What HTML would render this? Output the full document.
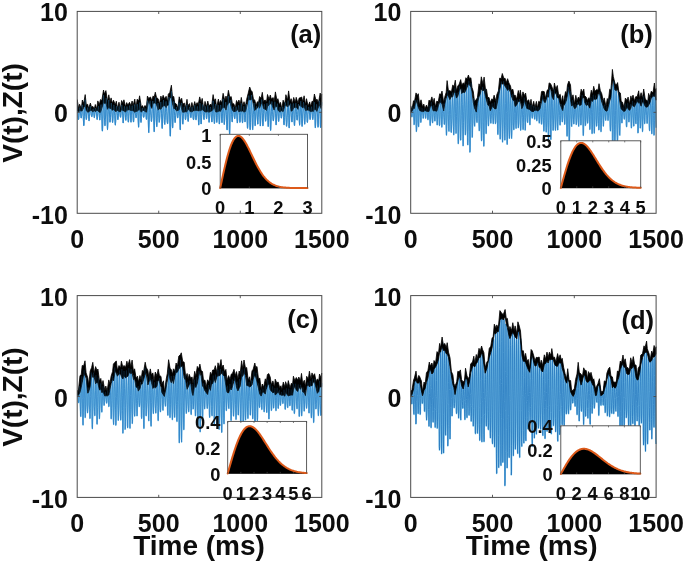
<!DOCTYPE html>
<html lang="en"><head><meta charset="utf-8"><title>Figure</title>
<style>html,body{margin:0;padding:0;background:#fff}svg{display:block;will-change:transform;transform:translateZ(0)}.b{font-family:"Liberation Sans",Arial,Helvetica,sans-serif;font-weight:700;fill:#0d0d0d}</style></head><body>
<svg width="685" height="562" viewBox="0 0 685 562">
<rect width="685" height="562" fill="#fff"/>
<defs>
<clipPath id="cpa"><rect x="77.2" y="11.4" width="245.2" height="201.9"/></clipPath>
<clipPath id="cpb"><rect x="410.7" y="11.4" width="246" height="201.9"/></clipPath>
<clipPath id="cpc"><rect x="77.2" y="295.6" width="245.2" height="201.8"/></clipPath>
<clipPath id="cpd"><rect x="410.7" y="295.6" width="246" height="201.8"/></clipPath>
</defs>
<g clip-path="url(#cpa)">
<polyline fill="none" stroke="#88cff0" stroke-width="1.1" stroke-linejoin="round" points="77.2,103.9 77.4,105.4 77.5,107.8 77.7,110.1 77.9,112.6 78,116 78.2,118.2 78.3,119.4 78.5,119.5 78.7,118.9 78.8,117.5 79,115.5 79.2,113 79.3,111.7 79.5,109.5 79.6,107.9 79.8,107.5 80,107.7 80.1,108.6 80.3,110 80.5,111.8 80.6,114 80.8,116.1 81,117.4 81.1,118 81.3,118 81.4,117.2 81.6,115.8 81.8,113.4 81.9,111 82.1,108.4 82.3,105.6 82.4,104.8 82.6,105.3 82.7,106.8 82.9,108.8 83.1,111.8 83.2,115.3 83.4,119.9 83.6,123.1 83.7,125.5 83.9,125.6 84,123.9 84.2,120.5 84.4,116.5 84.5,110.9 84.7,107.5 84.9,104.2 85,100.9 85.2,99.8 85.4,102.1 85.5,106.2 85.7,111.6 85.8,114.6 86,117.2 86.2,118.6 86.3,119.5 86.5,119.1 86.7,117.5 86.8,115.1 87,112.8 87.1,111.1 87.3,109.7 87.5,108 87.6,107.5 87.8,108.2 88,109.5 88.1,110.9 88.3,112.3 88.5,114.9 88.6,116.8 88.8,119.2 88.9,120.5 89.1,120.8 89.3,119.6 89.4,116.9 89.6,113.7 89.8,110.9 89.9,109.7 90.1,108.1 90.2,106.5 90.4,106.1 90.6,107.1 90.7,109 90.9,110.8 91.1,113 91.2,114.6 91.4,115.5 91.5,116.1 91.7,116.5 91.9,116.7 92,116.2 92.2,115 92.4,113.8 92.5,111.6 92.7,110.3 92.9,109.3 93,108.8 93.2,108.9 93.3,109.5 93.5,110.4 93.7,111.8 93.8,113.7 94,115.7 94.2,117 94.3,117.7 94.5,117.3 94.6,116.2 94.8,114.4 95,112.2 95.1,110.2 95.3,108.9 95.5,108.1 95.6,108 95.8,108.5 96,109.2 96.1,110.3 96.3,111.1 96.4,112.6 96.6,115 96.8,117.2 96.9,118.6 97.1,119.5 97.3,119.3 97.4,118.3 97.6,116.4 97.7,113.7 97.9,110.5 98.1,107.8 98.2,106.8 98.4,106.2 98.6,106.4 98.7,107.7 98.9,109.6 99.1,111.1 99.2,113.9 99.4,115.9 99.5,118.3 99.7,120 99.9,119.9 100,118.3 100.2,115.5 100.4,112.6 100.5,109.9 100.7,107 100.8,105.2 101,104.5 101.2,104.7 101.3,106.2 101.5,108.9 101.7,111.7 101.8,116.8 102,124.1 102.1,128.8 102.3,131 102.5,131 102.6,128.6 102.8,123.3 103,113.7 103.1,107.7 103.3,100.3 103.5,96.2 103.6,95.2 103.8,97 103.9,100.8 104.1,105.4 104.3,111.1 104.4,117.2 104.6,120.8 104.8,124.2 104.9,125.7 105.1,125.4 105.2,122.8 105.4,119.3 105.6,115 105.7,109.6 105.9,103.3 106.1,99.8 106.2,98.1 106.4,99.2 106.6,102.7 106.7,106.4 106.9,110.8 107,116.7 107.2,123.9 107.4,128.2 107.5,129.6 107.7,127 107.9,122.6 108,117.6 108.2,111.5 108.3,107.3 108.5,103.1 108.7,100.8 108.8,100 109,102.5 109.2,106.2 109.3,110.3 109.5,114 109.7,118.5 109.8,121.1 110,122.2 110.1,121.8 110.3,120 110.5,117.6 110.6,114.3 110.8,110.5 111,107 111.1,103.9 111.3,103 111.4,104.1 111.6,106.2 111.8,108.4 111.9,111.5 112.1,115.1 112.3,118.5 112.4,121.5 112.6,122.5 112.7,121.9 112.9,119.9 113.1,116.8 113.2,113.2 113.4,109.2 113.6,106.8 113.7,105.2 113.9,104.8 114.1,105.3 114.2,106.5 114.4,109.3 114.5,111.2 114.7,115.4 114.9,119.3 115,122.5 115.2,124.2 115.4,125.1 115.5,123.7 115.7,121.3 115.8,117 116,112.4 116.2,109 116.3,106.8 116.5,105.9 116.7,106.5 116.8,107.9 117,109.3 117.2,111.5 117.3,113.2 117.5,115.7 117.6,118.1 117.8,119.5 118,119.6 118.1,118.6 118.3,116.8 118.5,113.7 118.6,110.4 118.8,108.7 118.9,106.7 119.1,106.3 119.3,106.6 119.4,107.6 119.6,109.7 119.8,111.5 119.9,113.2 120.1,114.9 120.2,116.1 120.4,116.8 120.6,117.3 120.7,117 120.9,115.4 121.1,113.1 121.2,111.2 121.4,109.2 121.6,106.8 121.7,104.9 121.9,104.8 122,105.6 122.2,107.5 122.4,109.5 122.5,111.7 122.7,115.7 122.9,119.2 123,121.8 123.2,123 123.3,121.8 123.5,119.7 123.7,116.9 123.8,113.6 124,110.6 124.2,108.6 124.3,107 124.5,106.3 124.7,106.9 124.8,108 125,109.9 125.1,111.6 125.3,114.5 125.5,117.7 125.6,119.9 125.8,120.3 126,119.5 126.1,117.8 126.3,115.2 126.4,112.3 126.6,109.2 126.8,106.9 126.9,106.4 127.1,106.6 127.3,107.4 127.4,108.6 127.6,110.7 127.8,113.3 127.9,116.4 128.1,120.1 128.2,121.6 128.4,122.1 128.6,121.2 128.7,118.8 128.9,115.6 129.1,112 129.2,109.3 129.4,107.1 129.5,105.7 129.7,105.6 129.9,106.1 130,107.5 130.2,109.3 130.4,111.7 130.5,115.8 130.7,119 130.8,121.5 131,122.2 131.2,120.5 131.3,117 131.5,112.9 131.7,110 131.8,107.7 132,106.1 132.2,105.5 132.3,106 132.5,107.6 132.6,109.6 132.8,112.1 133,114.9 133.1,118.5 133.3,120.9 133.5,122 133.6,121.8 133.8,119.8 133.9,115.1 134.1,112.2 134.3,109.4 134.4,106.6 134.6,104.9 134.8,104.4 134.9,106.2 135.1,108.5 135.3,110.6 135.4,113.4 135.6,115.3 135.7,116.2 135.9,117.2 136.1,117.8 136.2,117.4 136.4,116.3 136.6,114.5 136.7,112.6 136.9,109.3 137,106.5 137.2,104.4 137.4,104.2 137.5,105.2 137.7,107.8 137.9,111.3 138,116.1 138.2,120.8 138.4,124.6 138.5,127.1 138.7,127.1 138.8,123.7 139,118.7 139.2,111.9 139.3,108.7 139.5,105.1 139.7,102.8 139.8,102.5 140,104.2 140.1,107.4 140.3,110.9 140.5,113.7 140.6,118.7 140.8,121.5 141,122.4 141.1,121.8 141.3,120 141.4,116.8 141.6,113.2 141.8,111.3 141.9,110.3 142.1,109 142.3,108.1 142.4,107.9 142.6,108.5 142.8,109.9 142.9,111.8 143.1,113.7 143.2,115.9 143.4,116.8 143.6,117.3 143.7,117.3 143.9,116.9 144.1,115.9 144.2,114.2 144.4,112.3 144.5,110.8 144.7,109.2 144.9,108.3 145,108.3 145.2,108.8 145.4,109.9 145.5,111.5 145.7,112.7 145.9,114.6 146,116 146.2,117.9 146.3,119 146.5,119.4 146.7,118.5 146.8,115.4 147,112.2 147.2,107.8 147.3,103.7 147.5,100.8 147.6,100.4 147.8,102.1 148,106.2 148.1,112.7 148.3,122.1 148.5,128.2 148.6,132 148.8,132.6 148.9,129.5 149.1,124.9 149.3,119.2 149.4,112.3 149.6,106.1 149.8,103.9 149.9,101.3 150.1,100.7 150.3,102.1 150.4,105.4 150.6,109.4 150.7,112.9 150.9,115.5 151.1,117.8 151.2,120.5 151.4,121.5 151.6,121.3 151.7,119.8 151.9,117.7 152,114.1 152.2,109.6 152.4,105.5 152.5,103.1 152.7,101.1 152.9,101 153,102 153.2,104.4 153.4,108.1 153.5,113.1 153.7,118.1 153.8,123 154,128.2 154.2,131.7 154.3,129.9 154.5,125.3 154.7,119.2 154.8,110.2 155,106.3 155.1,100.7 155.3,98.1 155.5,97.5 155.6,99 155.8,104.4 156,108.9 156.1,112.5 156.3,118.9 156.5,122.6 156.6,125.5 156.8,126.6 156.9,125.5 157.1,122.4 157.3,117.4 157.4,111.7 157.6,107.5 157.8,104.9 157.9,103.5 158.1,103.1 158.2,104.2 158.4,106.4 158.6,109.5 158.7,113.3 158.9,118.5 159.1,121.2 159.2,122.3 159.4,121.9 159.5,120.8 159.7,118.7 159.9,116.1 160,112 160.2,109.4 160.4,106.2 160.5,104.4 160.7,102.6 160.9,101.9 161,103.1 161.2,105.1 161.3,108.6 161.5,113.3 161.7,119.3 161.8,123.8 162,127 162.2,128.4 162.3,127.5 162.5,123.1 162.6,118 162.8,113.1 163,107.9 163.1,103.1 163.3,101.5 163.5,100.1 163.6,101.1 163.8,104.3 164,108.7 164.1,113.7 164.3,119.5 164.4,122.5 164.6,124 164.8,124.4 164.9,123.5 165.1,120.6 165.3,117.8 165.4,112.6 165.6,108 165.7,104.5 165.9,102.1 166.1,101.4 166.2,102.6 166.4,105 166.6,107.9 166.7,111.6 166.9,115.3 167,119.3 167.2,121.9 167.4,123.2 167.5,123.7 167.7,123.5 167.9,121.2 168,117.1 168.2,111 168.4,105.7 168.5,100.6 168.7,97.6 168.8,97 169,98.3 169.2,101.1 169.3,105.2 169.5,113 169.7,120 169.8,125 170,130.8 170.1,134.8 170.3,136.1 170.5,134.2 170.6,127.8 170.8,118.1 171,107.2 171.1,97.5 171.3,91.1 171.5,91.5 171.6,95.6 171.8,101.5 171.9,108.5 172.1,117.3 172.3,122.8 172.4,126.2 172.6,127.9 172.8,127 172.9,123.2 173.1,118.2 173.2,111.3 173.4,106.4 173.6,103.3 173.7,101.4 173.9,102.3 174.1,104.8 174.2,108.2 174.4,111.5 174.6,115.3 174.7,118.9 174.9,121.3 175,122.5 175.2,122.4 175.4,121.2 175.5,119.1 175.7,115.6 175.9,112.6 176,110.5 176.2,108.2 176.3,107.1 176.5,107 176.7,107.9 176.8,109.2 177,111.3 177.2,113.1 177.3,115.5 177.5,117.4 177.6,117.9 177.8,117.6 178,116.7 178.1,115.3 178.3,113.5 178.5,111.3 178.6,108.5 178.8,105.8 179,103.7 179.1,102.6 179.3,103.9 179.4,107.5 179.6,112.2 179.8,116.6 179.9,123.3 180.1,128.3 180.3,129.8 180.4,127.7 180.6,121.9 180.7,116.1 180.9,111.7 181.1,108.2 181.2,104.2 181.4,102.9 181.6,103 181.7,104.5 181.9,106.8 182.1,109.7 182.2,113 182.4,115.8 182.5,120.2 182.7,123.8 182.9,124.1 183,122.8 183.2,119.8 183.4,116.8 183.5,113.5 183.7,111.3 183.8,109.3 184,107.6 184.2,106.7 184.3,106.6 184.5,108.2 184.7,110.2 184.8,111.8 185,114.4 185.2,117.5 185.3,118.9 185.5,119.7 185.6,119.4 185.8,118.2 186,116.7 186.1,114.8 186.3,111 186.5,108.4 186.6,106.4 186.8,105 186.9,104.7 187.1,106.2 187.3,109 187.4,111.5 187.6,114.5 187.8,117.6 187.9,119.9 188.1,121.1 188.2,121.4 188.4,120.1 188.6,117.6 188.7,115.1 188.9,112 189.1,109.9 189.2,108.6 189.4,107.7 189.6,106.8 189.7,107.3 189.9,108.8 190,110.9 190.2,112.2 190.4,114.1 190.5,115.9 190.7,117.2 190.9,117.6 191,117.3 191.2,116 191.3,114.1 191.5,112.2 191.7,110 191.8,107.9 192,107 192.2,107.1 192.3,108.2 192.5,109.8 192.7,111.4 192.8,113.5 193,116.3 193.1,118 193.3,119.1 193.5,119.7 193.6,119.6 193.8,118.5 194,116.2 194.1,112.9 194.3,109.9 194.4,108 194.6,106 194.8,105.2 194.9,106.3 195.1,108.8 195.3,111.3 195.4,115.1 195.6,117.5 195.7,118.7 195.9,119.6 196.1,119.8 196.2,119.2 196.4,117.7 196.6,115 196.7,112.1 196.9,109.6 197.1,107.8 197.2,106.6 197.4,106.3 197.5,106.9 197.7,108.4 197.9,110.5 198,112.8 198.2,115.9 198.4,119.4 198.5,122.5 198.7,124.9 198.8,124.9 199,122.5 199.2,117.4 199.3,112 199.5,108.5 199.7,105.2 199.8,103.6 200,103 200.2,104.2 200.3,106.7 200.5,110.1 200.6,114.4 200.8,120.7 201,123.1 201.1,124 201.3,123.1 201.5,120.1 201.6,117.7 201.8,114.3 201.9,110.9 202.1,108 202.3,105.2 202.4,104.4 202.6,104.9 202.8,106.1 202.9,107.8 203.1,109.8 203.3,112 203.4,114.2 203.6,116 203.7,118 203.9,119.4 204.1,119.5 204.2,117.7 204.4,115.7 204.6,113 204.7,110.3 204.9,107.8 205,106.5 205.2,106.4 205.4,107.1 205.5,108 205.7,109.8 205.9,111.8 206,113.3 206.2,115.5 206.3,117.4 206.5,118.7 206.7,118.7 206.8,117.4 207,115.5 207.2,112.9 207.3,110.1 207.5,108 207.7,106.2 207.8,105.4 208,106.6 208.1,108.1 208.3,110.1 208.5,112.4 208.6,116 208.8,119.7 209,121.9 209.1,122.3 209.3,121.3 209.4,118.9 209.6,116.2 209.8,112.3 209.9,110.5 210.1,108.7 210.3,107.6 210.4,107 210.6,107.6 210.8,108.7 210.9,110.3 211.1,112.1 211.2,115 211.4,117.7 211.6,120 211.7,121.4 211.9,122 212.1,120.9 212.2,117.9 212.4,113.6 212.5,110.2 212.7,106.3 212.9,103.1 213,100.9 213.2,101 213.4,103.1 213.5,106.3 213.7,111.2 213.8,116.2 214,119.1 214.2,121.3 214.3,123.4 214.5,123.4 214.7,121.5 214.8,118.5 215,113 215.2,109.4 215.3,106 215.5,104.1 215.6,104.5 215.8,106.1 216,108.7 216.1,111.1 216.3,113.4 216.5,117.7 216.6,121.3 216.8,122.4 216.9,121.7 217.1,119.6 217.3,115.4 217.4,111.9 217.6,109.1 217.8,106.9 217.9,105.4 218.1,105 218.3,105.6 218.4,107.1 218.6,109.7 218.7,113 218.9,116.8 219.1,120.8 219.2,123.3 219.4,124 219.6,122.9 219.7,120.1 219.9,116.1 220,111.3 220.2,108.9 220.4,106.7 220.5,105.2 220.7,104.9 220.9,105.7 221,107.3 221.2,110.1 221.4,112.7 221.5,116.9 221.7,120.2 221.8,122.1 222,122.6 222.2,121.3 222.3,118.1 222.5,113.3 222.7,109.9 222.8,105.1 223,101.8 223.1,99.1 223.3,100.4 223.5,104.8 223.6,109.1 223.8,112.7 224,118.8 224.1,123 224.3,124.5 224.4,124 224.6,121.3 224.8,118.4 224.9,114.9 225.1,111.1 225.3,107.6 225.4,104.5 225.6,102.7 225.8,102.1 225.9,103.2 226.1,105.9 226.2,109.6 226.4,114.4 226.6,120.6 226.7,124.5 226.9,128.5 227.1,129.9 227.2,128.9 227.4,126.3 227.5,120.1 227.7,113 227.9,108.4 228,102.9 228.2,99 228.4,96.1 228.5,97.3 228.7,100.7 228.9,106.1 229,112.1 229.2,122.1 229.3,129.3 229.5,133.6 229.7,134.1 229.8,131.2 230,123.2 230.2,114.6 230.3,108.8 230.5,104.3 230.6,101.7 230.8,100.1 231,100.4 231.1,102.3 231.3,105.7 231.5,109.6 231.6,114.7 231.8,118 232,120.8 232.1,121.8 232.3,121.8 232.4,119.5 232.6,116.5 232.8,112.2 232.9,109.8 233.1,108 233.3,107 233.4,106.8 233.6,107.4 233.7,108.6 233.9,110.4 234.1,112.8 234.2,115.7 234.4,117.3 234.6,118.5 234.7,118.7 234.9,118.1 235,117.1 235.2,115 235.4,112.3 235.5,111.1 235.7,109.3 235.9,107.7 236,106.8 236.2,106.7 236.4,108 236.5,110.5 236.7,114 236.8,116.6 237,119.4 237.2,121.8 237.3,122.9 237.5,122.1 237.7,119.4 237.8,115.3 238,111.6 238.1,108.8 238.3,107.5 238.5,105.6 238.6,105.2 238.8,105.6 239,107.2 239.1,109.2 239.3,112 239.5,115.3 239.6,118.9 239.8,121.5 239.9,122.4 240.1,121.6 240.3,119.4 240.4,115.9 240.6,112.7 240.8,109.5 240.9,106.7 241.1,104.8 241.2,103.3 241.4,104.4 241.6,106.5 241.7,109.8 241.9,113.7 242.1,118 242.2,120.6 242.4,122.2 242.5,122.8 242.7,121.9 242.9,119.3 243,115.9 243.2,112.1 243.4,110.2 243.5,108.3 243.7,106.5 243.9,106.2 244,107.1 244.2,109.1 244.3,111.6 244.5,114.3 244.7,117.9 244.8,120.5 245,121.9 245.2,121.1 245.3,118.9 245.5,115.4 245.6,112.2 245.8,109.9 246,107 246.1,105.1 246.3,104.1 246.5,104.3 246.6,106 246.8,109.1 247,113.2 247.1,120.8 247.3,124.9 247.4,127.6 247.6,128.3 247.8,126.1 247.9,122.1 248.1,115.3 248.3,108.9 248.4,103.1 248.6,99.2 248.7,95.7 248.9,95.5 249.1,98.3 249.2,103.3 249.4,109.5 249.6,115.1 249.7,121.9 249.9,126.8 250.1,129.4 250.2,129.7 250.4,127.3 250.5,122.6 250.7,114.4 250.9,106.6 251,101.2 251.2,97.4 251.4,95 251.5,95 251.7,97.4 251.8,102.5 252,109.6 252.2,117.7 252.3,124.1 252.5,128.6 252.7,129.6 252.8,128.3 253,124.4 253.1,119.1 253.3,114.6 253.5,110.7 253.6,107.9 253.8,104.3 254,103.2 254.1,103.1 254.3,104.8 254.5,107.9 254.6,111.9 254.8,117 254.9,122.2 255.1,125.7 255.3,125.3 255.4,122.9 255.6,119.3 255.8,114.9 255.9,111.3 256.1,108.9 256.2,107.7 256.4,106.7 256.6,106.2 256.7,106.7 256.9,108.7 257.1,111.6 257.2,114.9 257.4,119.1 257.6,122.5 257.7,124.1 257.9,123.9 258,121.4 258.2,117.6 258.4,114.1 258.5,109.4 258.7,106.8 258.9,104.2 259,102.7 259.2,102.4 259.3,103.6 259.5,105.6 259.7,109.8 259.8,114.7 260,119.8 260.2,124.2 260.3,125.9 260.5,124.7 260.7,120.6 260.8,115.7 261,111.9 261.1,107.5 261.3,103.6 261.5,100.7 261.6,99.4 261.8,99.8 262,102.7 262.1,107.9 262.3,112.6 262.4,118.1 262.6,122.3 262.8,125 262.9,125.9 263.1,124.5 263.3,121.6 263.4,117 263.6,113.4 263.7,110.1 263.9,107.5 264.1,105.7 264.2,104.4 264.4,104.3 264.6,105.4 264.7,107.5 264.9,110.7 265.1,114.7 265.2,117.3 265.4,119.8 265.5,121.2 265.7,121 265.9,119.6 266,117.4 266.2,114.2 266.4,111.5 266.5,108.4 266.7,106.1 266.8,104.1 267,103.3 267.2,104.3 267.3,106.7 267.5,109.9 267.7,115.9 267.8,120.5 268,124.4 268.2,126.5 268.3,126.1 268.5,122.8 268.6,116.9 268.8,110.6 269,106.4 269.1,103.3 269.3,101.3 269.5,100.5 269.6,101 269.8,102.8 269.9,108.5 270.1,115.9 270.3,124.2 270.4,128.4 270.6,130.4 270.8,129.1 270.9,126.2 271.1,121.5 271.2,116.7 271.4,111.5 271.6,107.2 271.7,103.2 271.9,101.5 272.1,102.2 272.2,104.6 272.4,107.9 272.6,111.5 272.7,114.4 272.9,117.2 273,119.3 273.2,120.5 273.4,120.8 273.5,120.3 273.7,118.4 273.9,116.1 274,112.5 274.2,109.9 274.3,107.2 274.5,104.8 274.7,102.6 274.8,101.7 275,102.2 275.2,104.3 275.3,108.5 275.5,113.7 275.7,117.2 275.8,121.2 276,124.1 276.1,124.9 276.3,123.3 276.5,119.9 276.6,116.2 276.8,112 277,108 277.1,105.6 277.3,103.7 277.4,103.6 277.6,104.7 277.8,107.2 277.9,110.3 278.1,114.8 278.3,118.4 278.4,120.4 278.6,121.4 278.8,121.1 278.9,119.6 279.1,116.9 279.2,113.5 279.4,111 279.6,109.7 279.7,108.6 279.9,107.5 280.1,107 280.2,107.2 280.4,108.8 280.5,111.2 280.7,113.4 280.9,115.1 281,116.5 281.2,117.8 281.4,118.1 281.5,118 281.7,116.7 281.8,114.4 282,111.8 282.2,110.7 282.3,109.1 282.5,107.6 282.7,106.8 282.8,107.1 283,108.1 283.2,110.1 283.3,112.3 283.5,116.5 283.6,120.5 283.8,123.6 284,124.8 284.1,124.8 284.3,121.9 284.5,117.5 284.6,111.4 284.8,108.4 284.9,106.2 285.1,103.5 285.3,102.4 285.4,102.9 285.6,104.2 285.8,108.4 285.9,113.6 286.1,119.6 286.3,122.3 286.4,125.7 286.6,126.3 286.7,126 286.9,123.5 287.1,120.7 287.2,117.4 287.4,113.1 287.6,108.5 287.7,104.3 287.9,101.8 288,100.5 288.2,101.6 288.4,104.8 288.5,109.9 288.7,115.4 288.9,122 289,126.6 289.2,127.9 289.3,125.4 289.5,122.8 289.7,118.9 289.8,113.4 290,109.4 290.2,107.1 290.3,104.8 290.5,103.6 290.7,103.8 290.8,105.1 291,107.9 291.1,111.7 291.3,115.2 291.5,117.8 291.6,119.9 291.8,121.3 292,122 292.1,121.2 292.3,119 292.4,115.9 292.6,111.4 292.8,108.3 292.9,105.5 293.1,103.8 293.3,103.4 293.4,104.1 293.6,106 293.8,109.4 293.9,114.7 294.1,119.9 294.2,123.2 294.4,125.4 294.6,125.5 294.7,123.2 294.9,119.9 295.1,115.6 295.2,111.9 295.4,109.2 295.5,106.3 295.7,103.9 295.9,103.1 296,104.5 296.2,107.6 296.4,111.4 296.5,114.5 296.7,117.1 296.9,119.4 297,120 297.2,120.1 297.3,119.5 297.5,117.7 297.7,114.5 297.8,111.8 298,110.2 298.2,107.3 298.3,104.9 298.5,104 298.6,104.9 298.8,106.7 299,110.8 299.1,116.6 299.3,121.3 299.5,124.2 299.6,125.2 299.8,123.4 299.9,120.4 300.1,115 300.3,109.8 300.4,105.8 300.6,102.4 300.8,101.2 300.9,102.1 301.1,104.4 301.3,108.5 301.4,112.1 301.6,118.1 301.7,122 301.9,124.6 302.1,126.4 302.2,125.8 302.4,123.2 302.6,118.9 302.7,114.1 302.9,110.8 303,107.6 303.2,104.7 303.4,102.8 303.5,102.1 303.7,102.8 303.9,104.9 304,108.5 304.2,113.6 304.4,120.2 304.5,122.8 304.7,124.2 304.8,123.6 305,121 305.2,117.9 305.3,114.2 305.5,111 305.7,108.7 305.8,107.1 306,105.6 306.1,105.2 306.3,106.2 306.5,108.4 306.6,112 306.8,115.4 307,118.6 307.1,121.3 307.3,122.4 307.5,122.3 307.6,121 307.8,118.2 307.9,114.4 308.1,111.4 308.3,109.6 308.4,108.2 308.6,107.3 308.8,106.8 308.9,107.3 309.1,108.3 309.2,110 309.4,112.1 309.6,115.1 309.7,116.8 309.9,118.6 310.1,119.5 310.2,119.4 310.4,118.3 310.5,115.1 310.7,112.5 310.9,110.7 311,109 311.2,107.7 311.4,107 311.5,106.7 311.7,107.6 311.9,108.9 312,111.6 312.2,114.2 312.3,116.6 312.5,118.6 312.7,119.4 312.8,119.5 313,118.3 313.2,116.5 313.3,112.7 313.5,110.1 313.6,107.1 313.8,104.7 314,102.7 314.1,102 314.3,103 314.5,105.2 314.6,110.4 314.8,114.4 315,120.6 315.1,125.2 315.3,127.6 315.4,127.7 315.6,125.1 315.8,120.1 315.9,114.3 316.1,110.1 316.3,107.5 316.4,105.2 316.6,104.3 316.7,104.5 316.9,106.1 317.1,108 317.2,109.8 317.4,113.2 317.6,117.9 317.7,123 317.9,126 318,127.2 318.2,126.7 318.4,123.8 318.5,119.1 318.7,113.8 318.9,109.4 319,105.2 319.2,102.3 319.4,100.7 319.5,100.7 319.7,102.1 319.8,104.5 320,109.6 320.2,115.9 320.3,123.9 320.5,127.4 320.7,127.4 320.8,125.4 321,121.1 321.1,117.9 321.3,114.4 321.5,110.2 321.6,106 321.8,102.2"/>
<polyline fill="none" stroke="#1a6cb8" stroke-width="0.78" stroke-linejoin="round" points="77.2,103.9 77.4,105.4 77.5,107.8 77.7,110.1 77.9,112.6 78,116 78.2,118.2 78.3,119.4 78.5,119.5 78.7,118.9 78.8,117.5 79,115.5 79.2,113 79.3,111.7 79.5,109.5 79.6,107.9 79.8,107.5 80,107.7 80.1,108.6 80.3,110 80.5,111.8 80.6,114 80.8,116.1 81,117.4 81.1,118 81.3,118 81.4,117.2 81.6,115.8 81.8,113.4 81.9,111 82.1,108.4 82.3,105.6 82.4,104.8 82.6,105.3 82.7,106.8 82.9,108.8 83.1,111.8 83.2,115.3 83.4,119.9 83.6,123.1 83.7,125.5 83.9,125.6 84,123.9 84.2,120.5 84.4,116.5 84.5,110.9 84.7,107.5 84.9,104.2 85,100.9 85.2,99.8 85.4,102.1 85.5,106.2 85.7,111.6 85.8,114.6 86,117.2 86.2,118.6 86.3,119.5 86.5,119.1 86.7,117.5 86.8,115.1 87,112.8 87.1,111.1 87.3,109.7 87.5,108 87.6,107.5 87.8,108.2 88,109.5 88.1,110.9 88.3,112.3 88.5,114.9 88.6,116.8 88.8,119.2 88.9,120.5 89.1,120.8 89.3,119.6 89.4,116.9 89.6,113.7 89.8,110.9 89.9,109.7 90.1,108.1 90.2,106.5 90.4,106.1 90.6,107.1 90.7,109 90.9,110.8 91.1,113 91.2,114.6 91.4,115.5 91.5,116.1 91.7,116.5 91.9,116.7 92,116.2 92.2,115 92.4,113.8 92.5,111.6 92.7,110.3 92.9,109.3 93,108.8 93.2,108.9 93.3,109.5 93.5,110.4 93.7,111.8 93.8,113.7 94,115.7 94.2,117 94.3,117.7 94.5,117.3 94.6,116.2 94.8,114.4 95,112.2 95.1,110.2 95.3,108.9 95.5,108.1 95.6,108 95.8,108.5 96,109.2 96.1,110.3 96.3,111.1 96.4,112.6 96.6,115 96.8,117.2 96.9,118.6 97.1,119.5 97.3,119.3 97.4,118.3 97.6,116.4 97.7,113.7 97.9,110.5 98.1,107.8 98.2,106.8 98.4,106.2 98.6,106.4 98.7,107.7 98.9,109.6 99.1,111.1 99.2,113.9 99.4,115.9 99.5,118.3 99.7,120 99.9,119.9 100,118.3 100.2,115.5 100.4,112.6 100.5,109.9 100.7,107 100.8,105.2 101,104.5 101.2,104.7 101.3,106.2 101.5,108.9 101.7,111.7 101.8,116.8 102,124.1 102.1,128.8 102.3,131 102.5,131 102.6,128.6 102.8,123.3 103,113.7 103.1,107.7 103.3,100.3 103.5,96.2 103.6,95.2 103.8,97 103.9,100.8 104.1,105.4 104.3,111.1 104.4,117.2 104.6,120.8 104.8,124.2 104.9,125.7 105.1,125.4 105.2,122.8 105.4,119.3 105.6,115 105.7,109.6 105.9,103.3 106.1,99.8 106.2,98.1 106.4,99.2 106.6,102.7 106.7,106.4 106.9,110.8 107,116.7 107.2,123.9 107.4,128.2 107.5,129.6 107.7,127 107.9,122.6 108,117.6 108.2,111.5 108.3,107.3 108.5,103.1 108.7,100.8 108.8,100 109,102.5 109.2,106.2 109.3,110.3 109.5,114 109.7,118.5 109.8,121.1 110,122.2 110.1,121.8 110.3,120 110.5,117.6 110.6,114.3 110.8,110.5 111,107 111.1,103.9 111.3,103 111.4,104.1 111.6,106.2 111.8,108.4 111.9,111.5 112.1,115.1 112.3,118.5 112.4,121.5 112.6,122.5 112.7,121.9 112.9,119.9 113.1,116.8 113.2,113.2 113.4,109.2 113.6,106.8 113.7,105.2 113.9,104.8 114.1,105.3 114.2,106.5 114.4,109.3 114.5,111.2 114.7,115.4 114.9,119.3 115,122.5 115.2,124.2 115.4,125.1 115.5,123.7 115.7,121.3 115.8,117 116,112.4 116.2,109 116.3,106.8 116.5,105.9 116.7,106.5 116.8,107.9 117,109.3 117.2,111.5 117.3,113.2 117.5,115.7 117.6,118.1 117.8,119.5 118,119.6 118.1,118.6 118.3,116.8 118.5,113.7 118.6,110.4 118.8,108.7 118.9,106.7 119.1,106.3 119.3,106.6 119.4,107.6 119.6,109.7 119.8,111.5 119.9,113.2 120.1,114.9 120.2,116.1 120.4,116.8 120.6,117.3 120.7,117 120.9,115.4 121.1,113.1 121.2,111.2 121.4,109.2 121.6,106.8 121.7,104.9 121.9,104.8 122,105.6 122.2,107.5 122.4,109.5 122.5,111.7 122.7,115.7 122.9,119.2 123,121.8 123.2,123 123.3,121.8 123.5,119.7 123.7,116.9 123.8,113.6 124,110.6 124.2,108.6 124.3,107 124.5,106.3 124.7,106.9 124.8,108 125,109.9 125.1,111.6 125.3,114.5 125.5,117.7 125.6,119.9 125.8,120.3 126,119.5 126.1,117.8 126.3,115.2 126.4,112.3 126.6,109.2 126.8,106.9 126.9,106.4 127.1,106.6 127.3,107.4 127.4,108.6 127.6,110.7 127.8,113.3 127.9,116.4 128.1,120.1 128.2,121.6 128.4,122.1 128.6,121.2 128.7,118.8 128.9,115.6 129.1,112 129.2,109.3 129.4,107.1 129.5,105.7 129.7,105.6 129.9,106.1 130,107.5 130.2,109.3 130.4,111.7 130.5,115.8 130.7,119 130.8,121.5 131,122.2 131.2,120.5 131.3,117 131.5,112.9 131.7,110 131.8,107.7 132,106.1 132.2,105.5 132.3,106 132.5,107.6 132.6,109.6 132.8,112.1 133,114.9 133.1,118.5 133.3,120.9 133.5,122 133.6,121.8 133.8,119.8 133.9,115.1 134.1,112.2 134.3,109.4 134.4,106.6 134.6,104.9 134.8,104.4 134.9,106.2 135.1,108.5 135.3,110.6 135.4,113.4 135.6,115.3 135.7,116.2 135.9,117.2 136.1,117.8 136.2,117.4 136.4,116.3 136.6,114.5 136.7,112.6 136.9,109.3 137,106.5 137.2,104.4 137.4,104.2 137.5,105.2 137.7,107.8 137.9,111.3 138,116.1 138.2,120.8 138.4,124.6 138.5,127.1 138.7,127.1 138.8,123.7 139,118.7 139.2,111.9 139.3,108.7 139.5,105.1 139.7,102.8 139.8,102.5 140,104.2 140.1,107.4 140.3,110.9 140.5,113.7 140.6,118.7 140.8,121.5 141,122.4 141.1,121.8 141.3,120 141.4,116.8 141.6,113.2 141.8,111.3 141.9,110.3 142.1,109 142.3,108.1 142.4,107.9 142.6,108.5 142.8,109.9 142.9,111.8 143.1,113.7 143.2,115.9 143.4,116.8 143.6,117.3 143.7,117.3 143.9,116.9 144.1,115.9 144.2,114.2 144.4,112.3 144.5,110.8 144.7,109.2 144.9,108.3 145,108.3 145.2,108.8 145.4,109.9 145.5,111.5 145.7,112.7 145.9,114.6 146,116 146.2,117.9 146.3,119 146.5,119.4 146.7,118.5 146.8,115.4 147,112.2 147.2,107.8 147.3,103.7 147.5,100.8 147.6,100.4 147.8,102.1 148,106.2 148.1,112.7 148.3,122.1 148.5,128.2 148.6,132 148.8,132.6 148.9,129.5 149.1,124.9 149.3,119.2 149.4,112.3 149.6,106.1 149.8,103.9 149.9,101.3 150.1,100.7 150.3,102.1 150.4,105.4 150.6,109.4 150.7,112.9 150.9,115.5 151.1,117.8 151.2,120.5 151.4,121.5 151.6,121.3 151.7,119.8 151.9,117.7 152,114.1 152.2,109.6 152.4,105.5 152.5,103.1 152.7,101.1 152.9,101 153,102 153.2,104.4 153.4,108.1 153.5,113.1 153.7,118.1 153.8,123 154,128.2 154.2,131.7 154.3,129.9 154.5,125.3 154.7,119.2 154.8,110.2 155,106.3 155.1,100.7 155.3,98.1 155.5,97.5 155.6,99 155.8,104.4 156,108.9 156.1,112.5 156.3,118.9 156.5,122.6 156.6,125.5 156.8,126.6 156.9,125.5 157.1,122.4 157.3,117.4 157.4,111.7 157.6,107.5 157.8,104.9 157.9,103.5 158.1,103.1 158.2,104.2 158.4,106.4 158.6,109.5 158.7,113.3 158.9,118.5 159.1,121.2 159.2,122.3 159.4,121.9 159.5,120.8 159.7,118.7 159.9,116.1 160,112 160.2,109.4 160.4,106.2 160.5,104.4 160.7,102.6 160.9,101.9 161,103.1 161.2,105.1 161.3,108.6 161.5,113.3 161.7,119.3 161.8,123.8 162,127 162.2,128.4 162.3,127.5 162.5,123.1 162.6,118 162.8,113.1 163,107.9 163.1,103.1 163.3,101.5 163.5,100.1 163.6,101.1 163.8,104.3 164,108.7 164.1,113.7 164.3,119.5 164.4,122.5 164.6,124 164.8,124.4 164.9,123.5 165.1,120.6 165.3,117.8 165.4,112.6 165.6,108 165.7,104.5 165.9,102.1 166.1,101.4 166.2,102.6 166.4,105 166.6,107.9 166.7,111.6 166.9,115.3 167,119.3 167.2,121.9 167.4,123.2 167.5,123.7 167.7,123.5 167.9,121.2 168,117.1 168.2,111 168.4,105.7 168.5,100.6 168.7,97.6 168.8,97 169,98.3 169.2,101.1 169.3,105.2 169.5,113 169.7,120 169.8,125 170,130.8 170.1,134.8 170.3,136.1 170.5,134.2 170.6,127.8 170.8,118.1 171,107.2 171.1,97.5 171.3,91.1 171.5,91.5 171.6,95.6 171.8,101.5 171.9,108.5 172.1,117.3 172.3,122.8 172.4,126.2 172.6,127.9 172.8,127 172.9,123.2 173.1,118.2 173.2,111.3 173.4,106.4 173.6,103.3 173.7,101.4 173.9,102.3 174.1,104.8 174.2,108.2 174.4,111.5 174.6,115.3 174.7,118.9 174.9,121.3 175,122.5 175.2,122.4 175.4,121.2 175.5,119.1 175.7,115.6 175.9,112.6 176,110.5 176.2,108.2 176.3,107.1 176.5,107 176.7,107.9 176.8,109.2 177,111.3 177.2,113.1 177.3,115.5 177.5,117.4 177.6,117.9 177.8,117.6 178,116.7 178.1,115.3 178.3,113.5 178.5,111.3 178.6,108.5 178.8,105.8 179,103.7 179.1,102.6 179.3,103.9 179.4,107.5 179.6,112.2 179.8,116.6 179.9,123.3 180.1,128.3 180.3,129.8 180.4,127.7 180.6,121.9 180.7,116.1 180.9,111.7 181.1,108.2 181.2,104.2 181.4,102.9 181.6,103 181.7,104.5 181.9,106.8 182.1,109.7 182.2,113 182.4,115.8 182.5,120.2 182.7,123.8 182.9,124.1 183,122.8 183.2,119.8 183.4,116.8 183.5,113.5 183.7,111.3 183.8,109.3 184,107.6 184.2,106.7 184.3,106.6 184.5,108.2 184.7,110.2 184.8,111.8 185,114.4 185.2,117.5 185.3,118.9 185.5,119.7 185.6,119.4 185.8,118.2 186,116.7 186.1,114.8 186.3,111 186.5,108.4 186.6,106.4 186.8,105 186.9,104.7 187.1,106.2 187.3,109 187.4,111.5 187.6,114.5 187.8,117.6 187.9,119.9 188.1,121.1 188.2,121.4 188.4,120.1 188.6,117.6 188.7,115.1 188.9,112 189.1,109.9 189.2,108.6 189.4,107.7 189.6,106.8 189.7,107.3 189.9,108.8 190,110.9 190.2,112.2 190.4,114.1 190.5,115.9 190.7,117.2 190.9,117.6 191,117.3 191.2,116 191.3,114.1 191.5,112.2 191.7,110 191.8,107.9 192,107 192.2,107.1 192.3,108.2 192.5,109.8 192.7,111.4 192.8,113.5 193,116.3 193.1,118 193.3,119.1 193.5,119.7 193.6,119.6 193.8,118.5 194,116.2 194.1,112.9 194.3,109.9 194.4,108 194.6,106 194.8,105.2 194.9,106.3 195.1,108.8 195.3,111.3 195.4,115.1 195.6,117.5 195.7,118.7 195.9,119.6 196.1,119.8 196.2,119.2 196.4,117.7 196.6,115 196.7,112.1 196.9,109.6 197.1,107.8 197.2,106.6 197.4,106.3 197.5,106.9 197.7,108.4 197.9,110.5 198,112.8 198.2,115.9 198.4,119.4 198.5,122.5 198.7,124.9 198.8,124.9 199,122.5 199.2,117.4 199.3,112 199.5,108.5 199.7,105.2 199.8,103.6 200,103 200.2,104.2 200.3,106.7 200.5,110.1 200.6,114.4 200.8,120.7 201,123.1 201.1,124 201.3,123.1 201.5,120.1 201.6,117.7 201.8,114.3 201.9,110.9 202.1,108 202.3,105.2 202.4,104.4 202.6,104.9 202.8,106.1 202.9,107.8 203.1,109.8 203.3,112 203.4,114.2 203.6,116 203.7,118 203.9,119.4 204.1,119.5 204.2,117.7 204.4,115.7 204.6,113 204.7,110.3 204.9,107.8 205,106.5 205.2,106.4 205.4,107.1 205.5,108 205.7,109.8 205.9,111.8 206,113.3 206.2,115.5 206.3,117.4 206.5,118.7 206.7,118.7 206.8,117.4 207,115.5 207.2,112.9 207.3,110.1 207.5,108 207.7,106.2 207.8,105.4 208,106.6 208.1,108.1 208.3,110.1 208.5,112.4 208.6,116 208.8,119.7 209,121.9 209.1,122.3 209.3,121.3 209.4,118.9 209.6,116.2 209.8,112.3 209.9,110.5 210.1,108.7 210.3,107.6 210.4,107 210.6,107.6 210.8,108.7 210.9,110.3 211.1,112.1 211.2,115 211.4,117.7 211.6,120 211.7,121.4 211.9,122 212.1,120.9 212.2,117.9 212.4,113.6 212.5,110.2 212.7,106.3 212.9,103.1 213,100.9 213.2,101 213.4,103.1 213.5,106.3 213.7,111.2 213.8,116.2 214,119.1 214.2,121.3 214.3,123.4 214.5,123.4 214.7,121.5 214.8,118.5 215,113 215.2,109.4 215.3,106 215.5,104.1 215.6,104.5 215.8,106.1 216,108.7 216.1,111.1 216.3,113.4 216.5,117.7 216.6,121.3 216.8,122.4 216.9,121.7 217.1,119.6 217.3,115.4 217.4,111.9 217.6,109.1 217.8,106.9 217.9,105.4 218.1,105 218.3,105.6 218.4,107.1 218.6,109.7 218.7,113 218.9,116.8 219.1,120.8 219.2,123.3 219.4,124 219.6,122.9 219.7,120.1 219.9,116.1 220,111.3 220.2,108.9 220.4,106.7 220.5,105.2 220.7,104.9 220.9,105.7 221,107.3 221.2,110.1 221.4,112.7 221.5,116.9 221.7,120.2 221.8,122.1 222,122.6 222.2,121.3 222.3,118.1 222.5,113.3 222.7,109.9 222.8,105.1 223,101.8 223.1,99.1 223.3,100.4 223.5,104.8 223.6,109.1 223.8,112.7 224,118.8 224.1,123 224.3,124.5 224.4,124 224.6,121.3 224.8,118.4 224.9,114.9 225.1,111.1 225.3,107.6 225.4,104.5 225.6,102.7 225.8,102.1 225.9,103.2 226.1,105.9 226.2,109.6 226.4,114.4 226.6,120.6 226.7,124.5 226.9,128.5 227.1,129.9 227.2,128.9 227.4,126.3 227.5,120.1 227.7,113 227.9,108.4 228,102.9 228.2,99 228.4,96.1 228.5,97.3 228.7,100.7 228.9,106.1 229,112.1 229.2,122.1 229.3,129.3 229.5,133.6 229.7,134.1 229.8,131.2 230,123.2 230.2,114.6 230.3,108.8 230.5,104.3 230.6,101.7 230.8,100.1 231,100.4 231.1,102.3 231.3,105.7 231.5,109.6 231.6,114.7 231.8,118 232,120.8 232.1,121.8 232.3,121.8 232.4,119.5 232.6,116.5 232.8,112.2 232.9,109.8 233.1,108 233.3,107 233.4,106.8 233.6,107.4 233.7,108.6 233.9,110.4 234.1,112.8 234.2,115.7 234.4,117.3 234.6,118.5 234.7,118.7 234.9,118.1 235,117.1 235.2,115 235.4,112.3 235.5,111.1 235.7,109.3 235.9,107.7 236,106.8 236.2,106.7 236.4,108 236.5,110.5 236.7,114 236.8,116.6 237,119.4 237.2,121.8 237.3,122.9 237.5,122.1 237.7,119.4 237.8,115.3 238,111.6 238.1,108.8 238.3,107.5 238.5,105.6 238.6,105.2 238.8,105.6 239,107.2 239.1,109.2 239.3,112 239.5,115.3 239.6,118.9 239.8,121.5 239.9,122.4 240.1,121.6 240.3,119.4 240.4,115.9 240.6,112.7 240.8,109.5 240.9,106.7 241.1,104.8 241.2,103.3 241.4,104.4 241.6,106.5 241.7,109.8 241.9,113.7 242.1,118 242.2,120.6 242.4,122.2 242.5,122.8 242.7,121.9 242.9,119.3 243,115.9 243.2,112.1 243.4,110.2 243.5,108.3 243.7,106.5 243.9,106.2 244,107.1 244.2,109.1 244.3,111.6 244.5,114.3 244.7,117.9 244.8,120.5 245,121.9 245.2,121.1 245.3,118.9 245.5,115.4 245.6,112.2 245.8,109.9 246,107 246.1,105.1 246.3,104.1 246.5,104.3 246.6,106 246.8,109.1 247,113.2 247.1,120.8 247.3,124.9 247.4,127.6 247.6,128.3 247.8,126.1 247.9,122.1 248.1,115.3 248.3,108.9 248.4,103.1 248.6,99.2 248.7,95.7 248.9,95.5 249.1,98.3 249.2,103.3 249.4,109.5 249.6,115.1 249.7,121.9 249.9,126.8 250.1,129.4 250.2,129.7 250.4,127.3 250.5,122.6 250.7,114.4 250.9,106.6 251,101.2 251.2,97.4 251.4,95 251.5,95 251.7,97.4 251.8,102.5 252,109.6 252.2,117.7 252.3,124.1 252.5,128.6 252.7,129.6 252.8,128.3 253,124.4 253.1,119.1 253.3,114.6 253.5,110.7 253.6,107.9 253.8,104.3 254,103.2 254.1,103.1 254.3,104.8 254.5,107.9 254.6,111.9 254.8,117 254.9,122.2 255.1,125.7 255.3,125.3 255.4,122.9 255.6,119.3 255.8,114.9 255.9,111.3 256.1,108.9 256.2,107.7 256.4,106.7 256.6,106.2 256.7,106.7 256.9,108.7 257.1,111.6 257.2,114.9 257.4,119.1 257.6,122.5 257.7,124.1 257.9,123.9 258,121.4 258.2,117.6 258.4,114.1 258.5,109.4 258.7,106.8 258.9,104.2 259,102.7 259.2,102.4 259.3,103.6 259.5,105.6 259.7,109.8 259.8,114.7 260,119.8 260.2,124.2 260.3,125.9 260.5,124.7 260.7,120.6 260.8,115.7 261,111.9 261.1,107.5 261.3,103.6 261.5,100.7 261.6,99.4 261.8,99.8 262,102.7 262.1,107.9 262.3,112.6 262.4,118.1 262.6,122.3 262.8,125 262.9,125.9 263.1,124.5 263.3,121.6 263.4,117 263.6,113.4 263.7,110.1 263.9,107.5 264.1,105.7 264.2,104.4 264.4,104.3 264.6,105.4 264.7,107.5 264.9,110.7 265.1,114.7 265.2,117.3 265.4,119.8 265.5,121.2 265.7,121 265.9,119.6 266,117.4 266.2,114.2 266.4,111.5 266.5,108.4 266.7,106.1 266.8,104.1 267,103.3 267.2,104.3 267.3,106.7 267.5,109.9 267.7,115.9 267.8,120.5 268,124.4 268.2,126.5 268.3,126.1 268.5,122.8 268.6,116.9 268.8,110.6 269,106.4 269.1,103.3 269.3,101.3 269.5,100.5 269.6,101 269.8,102.8 269.9,108.5 270.1,115.9 270.3,124.2 270.4,128.4 270.6,130.4 270.8,129.1 270.9,126.2 271.1,121.5 271.2,116.7 271.4,111.5 271.6,107.2 271.7,103.2 271.9,101.5 272.1,102.2 272.2,104.6 272.4,107.9 272.6,111.5 272.7,114.4 272.9,117.2 273,119.3 273.2,120.5 273.4,120.8 273.5,120.3 273.7,118.4 273.9,116.1 274,112.5 274.2,109.9 274.3,107.2 274.5,104.8 274.7,102.6 274.8,101.7 275,102.2 275.2,104.3 275.3,108.5 275.5,113.7 275.7,117.2 275.8,121.2 276,124.1 276.1,124.9 276.3,123.3 276.5,119.9 276.6,116.2 276.8,112 277,108 277.1,105.6 277.3,103.7 277.4,103.6 277.6,104.7 277.8,107.2 277.9,110.3 278.1,114.8 278.3,118.4 278.4,120.4 278.6,121.4 278.8,121.1 278.9,119.6 279.1,116.9 279.2,113.5 279.4,111 279.6,109.7 279.7,108.6 279.9,107.5 280.1,107 280.2,107.2 280.4,108.8 280.5,111.2 280.7,113.4 280.9,115.1 281,116.5 281.2,117.8 281.4,118.1 281.5,118 281.7,116.7 281.8,114.4 282,111.8 282.2,110.7 282.3,109.1 282.5,107.6 282.7,106.8 282.8,107.1 283,108.1 283.2,110.1 283.3,112.3 283.5,116.5 283.6,120.5 283.8,123.6 284,124.8 284.1,124.8 284.3,121.9 284.5,117.5 284.6,111.4 284.8,108.4 284.9,106.2 285.1,103.5 285.3,102.4 285.4,102.9 285.6,104.2 285.8,108.4 285.9,113.6 286.1,119.6 286.3,122.3 286.4,125.7 286.6,126.3 286.7,126 286.9,123.5 287.1,120.7 287.2,117.4 287.4,113.1 287.6,108.5 287.7,104.3 287.9,101.8 288,100.5 288.2,101.6 288.4,104.8 288.5,109.9 288.7,115.4 288.9,122 289,126.6 289.2,127.9 289.3,125.4 289.5,122.8 289.7,118.9 289.8,113.4 290,109.4 290.2,107.1 290.3,104.8 290.5,103.6 290.7,103.8 290.8,105.1 291,107.9 291.1,111.7 291.3,115.2 291.5,117.8 291.6,119.9 291.8,121.3 292,122 292.1,121.2 292.3,119 292.4,115.9 292.6,111.4 292.8,108.3 292.9,105.5 293.1,103.8 293.3,103.4 293.4,104.1 293.6,106 293.8,109.4 293.9,114.7 294.1,119.9 294.2,123.2 294.4,125.4 294.6,125.5 294.7,123.2 294.9,119.9 295.1,115.6 295.2,111.9 295.4,109.2 295.5,106.3 295.7,103.9 295.9,103.1 296,104.5 296.2,107.6 296.4,111.4 296.5,114.5 296.7,117.1 296.9,119.4 297,120 297.2,120.1 297.3,119.5 297.5,117.7 297.7,114.5 297.8,111.8 298,110.2 298.2,107.3 298.3,104.9 298.5,104 298.6,104.9 298.8,106.7 299,110.8 299.1,116.6 299.3,121.3 299.5,124.2 299.6,125.2 299.8,123.4 299.9,120.4 300.1,115 300.3,109.8 300.4,105.8 300.6,102.4 300.8,101.2 300.9,102.1 301.1,104.4 301.3,108.5 301.4,112.1 301.6,118.1 301.7,122 301.9,124.6 302.1,126.4 302.2,125.8 302.4,123.2 302.6,118.9 302.7,114.1 302.9,110.8 303,107.6 303.2,104.7 303.4,102.8 303.5,102.1 303.7,102.8 303.9,104.9 304,108.5 304.2,113.6 304.4,120.2 304.5,122.8 304.7,124.2 304.8,123.6 305,121 305.2,117.9 305.3,114.2 305.5,111 305.7,108.7 305.8,107.1 306,105.6 306.1,105.2 306.3,106.2 306.5,108.4 306.6,112 306.8,115.4 307,118.6 307.1,121.3 307.3,122.4 307.5,122.3 307.6,121 307.8,118.2 307.9,114.4 308.1,111.4 308.3,109.6 308.4,108.2 308.6,107.3 308.8,106.8 308.9,107.3 309.1,108.3 309.2,110 309.4,112.1 309.6,115.1 309.7,116.8 309.9,118.6 310.1,119.5 310.2,119.4 310.4,118.3 310.5,115.1 310.7,112.5 310.9,110.7 311,109 311.2,107.7 311.4,107 311.5,106.7 311.7,107.6 311.9,108.9 312,111.6 312.2,114.2 312.3,116.6 312.5,118.6 312.7,119.4 312.8,119.5 313,118.3 313.2,116.5 313.3,112.7 313.5,110.1 313.6,107.1 313.8,104.7 314,102.7 314.1,102 314.3,103 314.5,105.2 314.6,110.4 314.8,114.4 315,120.6 315.1,125.2 315.3,127.6 315.4,127.7 315.6,125.1 315.8,120.1 315.9,114.3 316.1,110.1 316.3,107.5 316.4,105.2 316.6,104.3 316.7,104.5 316.9,106.1 317.1,108 317.2,109.8 317.4,113.2 317.6,117.9 317.7,123 317.9,126 318,127.2 318.2,126.7 318.4,123.8 318.5,119.1 318.7,113.8 318.9,109.4 319,105.2 319.2,102.3 319.4,100.7 319.5,100.7 319.7,102.1 319.8,104.5 320,109.6 320.2,115.9 320.3,123.9 320.5,127.4 320.7,127.4 320.8,125.4 321,121.1 321.1,117.9 321.3,114.4 321.5,110.2 321.6,106 321.8,102.2"/>
<polygon fill="#000" stroke="#000" stroke-width="0.8" stroke-linejoin="round" points="77.2,99.6 78.8,109.4 79.6,104.2 81.4,109 82.3,100 83.7,103.4 85.2,94.6 86.3,105 87.7,104.3 88.6,108.4 90.4,103.1 91.6,107.6 92.7,106.2 94.3,108.9 95.3,104.5 96.7,109 97.8,100.9 99.3,104.6 100.5,99.6 101.8,100.6 103.5,90 104.5,94.1 105.9,90.6 107.5,101.4 108.8,94.8 110,101.8 111.1,97.9 112.3,103.3 113.5,100.2 115.3,104.8 116.3,101.2 117.4,108.3 119,102.2 120.4,108.9 121.6,100.5 123.1,103.4 123.9,99.8 125.5,106.8 126.7,102.6 127.8,105.3 129.5,102.3 130.9,105.8 132.1,101 133.1,105.5 134.8,99.1 135.9,108.1 137.2,99.2 138.7,101 139.6,95.8 141.3,106.9 142.5,105.6 143.9,108.8 144.8,105.6 146.5,106.7 147.4,96.1 148.7,98.4 150.5,97 151.8,100.6 153.1,95.9 154.1,97.5 155.3,92.2 156.5,97.4 158.2,98.8 159.5,104.2 160.9,96.1 161.9,99.8 163.1,95.3 164.7,99 166.1,96.3 167.5,101.6 168.3,94.2 169.8,92.5 171.4,85.2 172.4,96.4 173.8,96.6 174.7,103 176.5,104.2 177.9,108.3 179.2,96.8 180.5,100.8 181.7,98.3 182.7,104.4 184.3,103 185.3,108.2 187,99.3 187.8,105.7 189.6,103.6 190.5,109.4 191.9,102.5 193.2,108.2 194.7,101.6 195.7,105.5 197.1,102.6 198.2,104.8 199.7,96.9 201.1,102.6 202.2,98.4 203.8,109.5 205,101.4 206.5,106.8 207.8,101.1 208.9,106.3 210.5,104 211.7,105.5 213.1,94.6 214.1,100.5 215.5,98.8 216.6,107.6 218.4,99.1 219.2,103.9 220.5,100.5 221.7,103 223.1,93.3 224.8,100.6 226,96 227,99.9 228.4,90.3 229.8,97.5 231.2,96.6 232.4,103.8 233.8,103.7 235.3,108.1 236.5,100.5 237.6,103.1 238.9,100 240.2,104.3 241.3,97.4 242.7,106.4 244,101.7 245.4,106.3 246.7,99.2 248.1,93.6 249.7,87 250.9,90.3 252.2,91.8 253.5,99.5 254.7,99.9 256.2,105.5 257.3,101.7 258.5,102.6 259.6,96.5 261.1,98.5 262.3,92.3 263.5,101.5 265.1,99.9 266.5,102.3 267.5,94.5 269.1,99.3 270.3,95 271.3,99 273.2,97.6 274.1,102 275.4,91.9 277,100.7 277.9,98.7 279.6,105 280.5,102.4 281.9,109.1 283.1,100.2 284.8,104 285.9,94.7 287.5,100.1 288.6,90.9 290,101.3 291.2,98.7 292.3,104.3 293.7,97.4 295.3,102.4 296.2,97.3 298,103.3 299.1,98.1 300.2,97.7 301.7,97 302.8,101.9 304.1,95.8 305.5,104.8 306.5,98.7 308.1,106.1 309.7,101.9 310.6,106.5 312.2,101 313.3,102.1 314.4,94 316.2,101 316.9,99.1 318.4,103 320.2,93.1 321,98.4 321.8,94.1 321.8,105.1 321,108.5 320.2,105.3 318.4,107 316.9,111.4 316.2,110 314.4,109.2 313.3,111.6 312.2,111.1 310.6,111.7 309.7,111 308.1,109.9 306.5,110.3 305.5,110.6 304.1,106.2 302.8,108 301.7,107.1 300.2,105.6 299.1,105 298,109.4 296.2,107 295.3,107.6 293.7,107.8 292.3,110.7 291.2,111.2 290,104.5 288.6,105.6 287.5,107 285.9,105.3 284.8,106.3 283.1,111.7 281.9,110.6 280.5,111.6 279.6,111.9 277.9,110.1 277,106.5 275.4,106.3 274.1,110.1 273.2,108.1 271.3,103.3 270.3,104 269.1,104.6 267.5,106.8 266.5,110.4 265.1,109.2 263.5,108.5 262.3,103 261.1,103.9 259.6,108.2 258.5,105.5 257.3,108.2 256.2,109 254.7,110.6 253.5,105.2 252.2,98.4 250.9,100 249.7,99.7 248.1,100.2 246.7,107.2 245.4,111.5 244,112.1 242.7,111 241.3,111.3 240.2,111.1 238.9,111.9 237.6,109.2 236.5,111 235.3,111.4 233.8,111.7 232.4,110.3 231.2,106.6 229.8,102.1 228.4,103.6 227,105.7 226,110.1 224.8,107.8 223.1,107.3 221.7,108.9 220.5,111.3 219.2,111 218.4,111.4 216.6,112.1 215.5,111.7 214.1,106.1 213.1,109.6 211.7,110.9 210.5,111.5 208.9,112.3 207.8,111.6 206.5,112 205,111.8 203.8,111 202.2,109.3 201.1,110.7 199.7,110.6 198.2,110.9 197.1,110.3 195.7,110.6 194.7,110.6 193.2,110.9 191.9,111.8 190.5,111.8 189.6,110.8 187.8,109.1 187,111.8 185.3,111.8 184.3,112 182.7,112.3 181.7,109.1 180.5,103.6 179.2,109.8 177.9,110.6 176.5,110.9 174.7,108.4 173.8,108.8 172.4,103.3 171.4,98.6 169.8,97.2 168.3,105.2 167.5,105 166.1,107.6 164.7,105.7 163.1,105.9 161.9,107.5 160.9,109.2 159.5,108.7 158.2,110.1 156.5,104.7 155.3,103.1 154.1,103 153.1,103.4 151.8,108.4 150.5,105.6 148.7,100.8 147.4,107.6 146.5,112.2 144.8,111.4 143.9,110.4 142.5,110.5 141.3,112.2 139.6,109.6 138.7,110 137.2,111.2 135.9,111.4 134.8,112.3 133.1,110.7 132.1,110.4 130.9,110.7 129.5,109.7 127.8,110 126.7,110.3 125.5,112.1 123.9,110.8 123.1,110.9 121.6,109.3 120.4,111.9 119,111.5 117.4,110.4 116.3,111.3 115.3,111.4 113.5,109.2 112.3,110.4 111.1,108.1 110,108.8 108.8,107 107.5,109.3 105.9,103 104.5,103.5 103.5,102.3 101.8,108.5 100.5,112.3 99.3,112.3 97.8,110.5 96.7,110.5 95.3,111.8 94.3,110.4 92.7,112.1 91.6,110.5 90.4,110.4 88.6,112 87.7,112.2 86.3,110.5 85.2,105.9 83.7,107.6 82.3,110.7 81.4,111.1 79.6,110.7 78.8,111.9 77.2,110.7"/>
<polyline fill="none" stroke="#3b9be0" stroke-width="0.55" stroke-opacity="0.5" stroke-linejoin="round" points="77.2,103.9 77.4,105.4 77.5,107.8 77.7,110.1 77.9,112.6 78,116 78.2,118.2 78.3,119.4 78.5,119.5 78.7,118.9 78.8,117.5 79,115.5 79.2,113 79.3,111.7 79.5,109.5 79.6,107.9 79.8,107.5 80,107.7 80.1,108.6 80.3,110 80.5,111.8 80.6,114 80.8,116.1 81,117.4 81.1,118 81.3,118 81.4,117.2 81.6,115.8 81.8,113.4 81.9,111 82.1,108.4 82.3,105.6 82.4,104.8 82.6,105.3 82.7,106.8 82.9,108.8 83.1,111.8 83.2,115.3 83.4,119.9 83.6,123.1 83.7,125.5 83.9,125.6 84,123.9 84.2,120.5 84.4,116.5 84.5,110.9 84.7,107.5 84.9,104.2 85,100.9 85.2,99.8 85.4,102.1 85.5,106.2 85.7,111.6 85.8,114.6 86,117.2 86.2,118.6 86.3,119.5 86.5,119.1 86.7,117.5 86.8,115.1 87,112.8 87.1,111.1 87.3,109.7 87.5,108 87.6,107.5 87.8,108.2 88,109.5 88.1,110.9 88.3,112.3 88.5,114.9 88.6,116.8 88.8,119.2 88.9,120.5 89.1,120.8 89.3,119.6 89.4,116.9 89.6,113.7 89.8,110.9 89.9,109.7 90.1,108.1 90.2,106.5 90.4,106.1 90.6,107.1 90.7,109 90.9,110.8 91.1,113 91.2,114.6 91.4,115.5 91.5,116.1 91.7,116.5 91.9,116.7 92,116.2 92.2,115 92.4,113.8 92.5,111.6 92.7,110.3 92.9,109.3 93,108.8 93.2,108.9 93.3,109.5 93.5,110.4 93.7,111.8 93.8,113.7 94,115.7 94.2,117 94.3,117.7 94.5,117.3 94.6,116.2 94.8,114.4 95,112.2 95.1,110.2 95.3,108.9 95.5,108.1 95.6,108 95.8,108.5 96,109.2 96.1,110.3 96.3,111.1 96.4,112.6 96.6,115 96.8,117.2 96.9,118.6 97.1,119.5 97.3,119.3 97.4,118.3 97.6,116.4 97.7,113.7 97.9,110.5 98.1,107.8 98.2,106.8 98.4,106.2 98.6,106.4 98.7,107.7 98.9,109.6 99.1,111.1 99.2,113.9 99.4,115.9 99.5,118.3 99.7,120 99.9,119.9 100,118.3 100.2,115.5 100.4,112.6 100.5,109.9 100.7,107 100.8,105.2 101,104.5 101.2,104.7 101.3,106.2 101.5,108.9 101.7,111.7 101.8,116.8 102,124.1 102.1,128.8 102.3,131 102.5,131 102.6,128.6 102.8,123.3 103,113.7 103.1,107.7 103.3,100.3 103.5,96.2 103.6,95.2 103.8,97 103.9,100.8 104.1,105.4 104.3,111.1 104.4,117.2 104.6,120.8 104.8,124.2 104.9,125.7 105.1,125.4 105.2,122.8 105.4,119.3 105.6,115 105.7,109.6 105.9,103.3 106.1,99.8 106.2,98.1 106.4,99.2 106.6,102.7 106.7,106.4 106.9,110.8 107,116.7 107.2,123.9 107.4,128.2 107.5,129.6 107.7,127 107.9,122.6 108,117.6 108.2,111.5 108.3,107.3 108.5,103.1 108.7,100.8 108.8,100 109,102.5 109.2,106.2 109.3,110.3 109.5,114 109.7,118.5 109.8,121.1 110,122.2 110.1,121.8 110.3,120 110.5,117.6 110.6,114.3 110.8,110.5 111,107 111.1,103.9 111.3,103 111.4,104.1 111.6,106.2 111.8,108.4 111.9,111.5 112.1,115.1 112.3,118.5 112.4,121.5 112.6,122.5 112.7,121.9 112.9,119.9 113.1,116.8 113.2,113.2 113.4,109.2 113.6,106.8 113.7,105.2 113.9,104.8 114.1,105.3 114.2,106.5 114.4,109.3 114.5,111.2 114.7,115.4 114.9,119.3 115,122.5 115.2,124.2 115.4,125.1 115.5,123.7 115.7,121.3 115.8,117 116,112.4 116.2,109 116.3,106.8 116.5,105.9 116.7,106.5 116.8,107.9 117,109.3 117.2,111.5 117.3,113.2 117.5,115.7 117.6,118.1 117.8,119.5 118,119.6 118.1,118.6 118.3,116.8 118.5,113.7 118.6,110.4 118.8,108.7 118.9,106.7 119.1,106.3 119.3,106.6 119.4,107.6 119.6,109.7 119.8,111.5 119.9,113.2 120.1,114.9 120.2,116.1 120.4,116.8 120.6,117.3 120.7,117 120.9,115.4 121.1,113.1 121.2,111.2 121.4,109.2 121.6,106.8 121.7,104.9 121.9,104.8 122,105.6 122.2,107.5 122.4,109.5 122.5,111.7 122.7,115.7 122.9,119.2 123,121.8 123.2,123 123.3,121.8 123.5,119.7 123.7,116.9 123.8,113.6 124,110.6 124.2,108.6 124.3,107 124.5,106.3 124.7,106.9 124.8,108 125,109.9 125.1,111.6 125.3,114.5 125.5,117.7 125.6,119.9 125.8,120.3 126,119.5 126.1,117.8 126.3,115.2 126.4,112.3 126.6,109.2 126.8,106.9 126.9,106.4 127.1,106.6 127.3,107.4 127.4,108.6 127.6,110.7 127.8,113.3 127.9,116.4 128.1,120.1 128.2,121.6 128.4,122.1 128.6,121.2 128.7,118.8 128.9,115.6 129.1,112 129.2,109.3 129.4,107.1 129.5,105.7 129.7,105.6 129.9,106.1 130,107.5 130.2,109.3 130.4,111.7 130.5,115.8 130.7,119 130.8,121.5 131,122.2 131.2,120.5 131.3,117 131.5,112.9 131.7,110 131.8,107.7 132,106.1 132.2,105.5 132.3,106 132.5,107.6 132.6,109.6 132.8,112.1 133,114.9 133.1,118.5 133.3,120.9 133.5,122 133.6,121.8 133.8,119.8 133.9,115.1 134.1,112.2 134.3,109.4 134.4,106.6 134.6,104.9 134.8,104.4 134.9,106.2 135.1,108.5 135.3,110.6 135.4,113.4 135.6,115.3 135.7,116.2 135.9,117.2 136.1,117.8 136.2,117.4 136.4,116.3 136.6,114.5 136.7,112.6 136.9,109.3 137,106.5 137.2,104.4 137.4,104.2 137.5,105.2 137.7,107.8 137.9,111.3 138,116.1 138.2,120.8 138.4,124.6 138.5,127.1 138.7,127.1 138.8,123.7 139,118.7 139.2,111.9 139.3,108.7 139.5,105.1 139.7,102.8 139.8,102.5 140,104.2 140.1,107.4 140.3,110.9 140.5,113.7 140.6,118.7 140.8,121.5 141,122.4 141.1,121.8 141.3,120 141.4,116.8 141.6,113.2 141.8,111.3 141.9,110.3 142.1,109 142.3,108.1 142.4,107.9 142.6,108.5 142.8,109.9 142.9,111.8 143.1,113.7 143.2,115.9 143.4,116.8 143.6,117.3 143.7,117.3 143.9,116.9 144.1,115.9 144.2,114.2 144.4,112.3 144.5,110.8 144.7,109.2 144.9,108.3 145,108.3 145.2,108.8 145.4,109.9 145.5,111.5 145.7,112.7 145.9,114.6 146,116 146.2,117.9 146.3,119 146.5,119.4 146.7,118.5 146.8,115.4 147,112.2 147.2,107.8 147.3,103.7 147.5,100.8 147.6,100.4 147.8,102.1 148,106.2 148.1,112.7 148.3,122.1 148.5,128.2 148.6,132 148.8,132.6 148.9,129.5 149.1,124.9 149.3,119.2 149.4,112.3 149.6,106.1 149.8,103.9 149.9,101.3 150.1,100.7 150.3,102.1 150.4,105.4 150.6,109.4 150.7,112.9 150.9,115.5 151.1,117.8 151.2,120.5 151.4,121.5 151.6,121.3 151.7,119.8 151.9,117.7 152,114.1 152.2,109.6 152.4,105.5 152.5,103.1 152.7,101.1 152.9,101 153,102 153.2,104.4 153.4,108.1 153.5,113.1 153.7,118.1 153.8,123 154,128.2 154.2,131.7 154.3,129.9 154.5,125.3 154.7,119.2 154.8,110.2 155,106.3 155.1,100.7 155.3,98.1 155.5,97.5 155.6,99 155.8,104.4 156,108.9 156.1,112.5 156.3,118.9 156.5,122.6 156.6,125.5 156.8,126.6 156.9,125.5 157.1,122.4 157.3,117.4 157.4,111.7 157.6,107.5 157.8,104.9 157.9,103.5 158.1,103.1 158.2,104.2 158.4,106.4 158.6,109.5 158.7,113.3 158.9,118.5 159.1,121.2 159.2,122.3 159.4,121.9 159.5,120.8 159.7,118.7 159.9,116.1 160,112 160.2,109.4 160.4,106.2 160.5,104.4 160.7,102.6 160.9,101.9 161,103.1 161.2,105.1 161.3,108.6 161.5,113.3 161.7,119.3 161.8,123.8 162,127 162.2,128.4 162.3,127.5 162.5,123.1 162.6,118 162.8,113.1 163,107.9 163.1,103.1 163.3,101.5 163.5,100.1 163.6,101.1 163.8,104.3 164,108.7 164.1,113.7 164.3,119.5 164.4,122.5 164.6,124 164.8,124.4 164.9,123.5 165.1,120.6 165.3,117.8 165.4,112.6 165.6,108 165.7,104.5 165.9,102.1 166.1,101.4 166.2,102.6 166.4,105 166.6,107.9 166.7,111.6 166.9,115.3 167,119.3 167.2,121.9 167.4,123.2 167.5,123.7 167.7,123.5 167.9,121.2 168,117.1 168.2,111 168.4,105.7 168.5,100.6 168.7,97.6 168.8,97 169,98.3 169.2,101.1 169.3,105.2 169.5,113 169.7,120 169.8,125 170,130.8 170.1,134.8 170.3,136.1 170.5,134.2 170.6,127.8 170.8,118.1 171,107.2 171.1,97.5 171.3,91.1 171.5,91.5 171.6,95.6 171.8,101.5 171.9,108.5 172.1,117.3 172.3,122.8 172.4,126.2 172.6,127.9 172.8,127 172.9,123.2 173.1,118.2 173.2,111.3 173.4,106.4 173.6,103.3 173.7,101.4 173.9,102.3 174.1,104.8 174.2,108.2 174.4,111.5 174.6,115.3 174.7,118.9 174.9,121.3 175,122.5 175.2,122.4 175.4,121.2 175.5,119.1 175.7,115.6 175.9,112.6 176,110.5 176.2,108.2 176.3,107.1 176.5,107 176.7,107.9 176.8,109.2 177,111.3 177.2,113.1 177.3,115.5 177.5,117.4 177.6,117.9 177.8,117.6 178,116.7 178.1,115.3 178.3,113.5 178.5,111.3 178.6,108.5 178.8,105.8 179,103.7 179.1,102.6 179.3,103.9 179.4,107.5 179.6,112.2 179.8,116.6 179.9,123.3 180.1,128.3 180.3,129.8 180.4,127.7 180.6,121.9 180.7,116.1 180.9,111.7 181.1,108.2 181.2,104.2 181.4,102.9 181.6,103 181.7,104.5 181.9,106.8 182.1,109.7 182.2,113 182.4,115.8 182.5,120.2 182.7,123.8 182.9,124.1 183,122.8 183.2,119.8 183.4,116.8 183.5,113.5 183.7,111.3 183.8,109.3 184,107.6 184.2,106.7 184.3,106.6 184.5,108.2 184.7,110.2 184.8,111.8 185,114.4 185.2,117.5 185.3,118.9 185.5,119.7 185.6,119.4 185.8,118.2 186,116.7 186.1,114.8 186.3,111 186.5,108.4 186.6,106.4 186.8,105 186.9,104.7 187.1,106.2 187.3,109 187.4,111.5 187.6,114.5 187.8,117.6 187.9,119.9 188.1,121.1 188.2,121.4 188.4,120.1 188.6,117.6 188.7,115.1 188.9,112 189.1,109.9 189.2,108.6 189.4,107.7 189.6,106.8 189.7,107.3 189.9,108.8 190,110.9 190.2,112.2 190.4,114.1 190.5,115.9 190.7,117.2 190.9,117.6 191,117.3 191.2,116 191.3,114.1 191.5,112.2 191.7,110 191.8,107.9 192,107 192.2,107.1 192.3,108.2 192.5,109.8 192.7,111.4 192.8,113.5 193,116.3 193.1,118 193.3,119.1 193.5,119.7 193.6,119.6 193.8,118.5 194,116.2 194.1,112.9 194.3,109.9 194.4,108 194.6,106 194.8,105.2 194.9,106.3 195.1,108.8 195.3,111.3 195.4,115.1 195.6,117.5 195.7,118.7 195.9,119.6 196.1,119.8 196.2,119.2 196.4,117.7 196.6,115 196.7,112.1 196.9,109.6 197.1,107.8 197.2,106.6 197.4,106.3 197.5,106.9 197.7,108.4 197.9,110.5 198,112.8 198.2,115.9 198.4,119.4 198.5,122.5 198.7,124.9 198.8,124.9 199,122.5 199.2,117.4 199.3,112 199.5,108.5 199.7,105.2 199.8,103.6 200,103 200.2,104.2 200.3,106.7 200.5,110.1 200.6,114.4 200.8,120.7 201,123.1 201.1,124 201.3,123.1 201.5,120.1 201.6,117.7 201.8,114.3 201.9,110.9 202.1,108 202.3,105.2 202.4,104.4 202.6,104.9 202.8,106.1 202.9,107.8 203.1,109.8 203.3,112 203.4,114.2 203.6,116 203.7,118 203.9,119.4 204.1,119.5 204.2,117.7 204.4,115.7 204.6,113 204.7,110.3 204.9,107.8 205,106.5 205.2,106.4 205.4,107.1 205.5,108 205.7,109.8 205.9,111.8 206,113.3 206.2,115.5 206.3,117.4 206.5,118.7 206.7,118.7 206.8,117.4 207,115.5 207.2,112.9 207.3,110.1 207.5,108 207.7,106.2 207.8,105.4 208,106.6 208.1,108.1 208.3,110.1 208.5,112.4 208.6,116 208.8,119.7 209,121.9 209.1,122.3 209.3,121.3 209.4,118.9 209.6,116.2 209.8,112.3 209.9,110.5 210.1,108.7 210.3,107.6 210.4,107 210.6,107.6 210.8,108.7 210.9,110.3 211.1,112.1 211.2,115 211.4,117.7 211.6,120 211.7,121.4 211.9,122 212.1,120.9 212.2,117.9 212.4,113.6 212.5,110.2 212.7,106.3 212.9,103.1 213,100.9 213.2,101 213.4,103.1 213.5,106.3 213.7,111.2 213.8,116.2 214,119.1 214.2,121.3 214.3,123.4 214.5,123.4 214.7,121.5 214.8,118.5 215,113 215.2,109.4 215.3,106 215.5,104.1 215.6,104.5 215.8,106.1 216,108.7 216.1,111.1 216.3,113.4 216.5,117.7 216.6,121.3 216.8,122.4 216.9,121.7 217.1,119.6 217.3,115.4 217.4,111.9 217.6,109.1 217.8,106.9 217.9,105.4 218.1,105 218.3,105.6 218.4,107.1 218.6,109.7 218.7,113 218.9,116.8 219.1,120.8 219.2,123.3 219.4,124 219.6,122.9 219.7,120.1 219.9,116.1 220,111.3 220.2,108.9 220.4,106.7 220.5,105.2 220.7,104.9 220.9,105.7 221,107.3 221.2,110.1 221.4,112.7 221.5,116.9 221.7,120.2 221.8,122.1 222,122.6 222.2,121.3 222.3,118.1 222.5,113.3 222.7,109.9 222.8,105.1 223,101.8 223.1,99.1 223.3,100.4 223.5,104.8 223.6,109.1 223.8,112.7 224,118.8 224.1,123 224.3,124.5 224.4,124 224.6,121.3 224.8,118.4 224.9,114.9 225.1,111.1 225.3,107.6 225.4,104.5 225.6,102.7 225.8,102.1 225.9,103.2 226.1,105.9 226.2,109.6 226.4,114.4 226.6,120.6 226.7,124.5 226.9,128.5 227.1,129.9 227.2,128.9 227.4,126.3 227.5,120.1 227.7,113 227.9,108.4 228,102.9 228.2,99 228.4,96.1 228.5,97.3 228.7,100.7 228.9,106.1 229,112.1 229.2,122.1 229.3,129.3 229.5,133.6 229.7,134.1 229.8,131.2 230,123.2 230.2,114.6 230.3,108.8 230.5,104.3 230.6,101.7 230.8,100.1 231,100.4 231.1,102.3 231.3,105.7 231.5,109.6 231.6,114.7 231.8,118 232,120.8 232.1,121.8 232.3,121.8 232.4,119.5 232.6,116.5 232.8,112.2 232.9,109.8 233.1,108 233.3,107 233.4,106.8 233.6,107.4 233.7,108.6 233.9,110.4 234.1,112.8 234.2,115.7 234.4,117.3 234.6,118.5 234.7,118.7 234.9,118.1 235,117.1 235.2,115 235.4,112.3 235.5,111.1 235.7,109.3 235.9,107.7 236,106.8 236.2,106.7 236.4,108 236.5,110.5 236.7,114 236.8,116.6 237,119.4 237.2,121.8 237.3,122.9 237.5,122.1 237.7,119.4 237.8,115.3 238,111.6 238.1,108.8 238.3,107.5 238.5,105.6 238.6,105.2 238.8,105.6 239,107.2 239.1,109.2 239.3,112 239.5,115.3 239.6,118.9 239.8,121.5 239.9,122.4 240.1,121.6 240.3,119.4 240.4,115.9 240.6,112.7 240.8,109.5 240.9,106.7 241.1,104.8 241.2,103.3 241.4,104.4 241.6,106.5 241.7,109.8 241.9,113.7 242.1,118 242.2,120.6 242.4,122.2 242.5,122.8 242.7,121.9 242.9,119.3 243,115.9 243.2,112.1 243.4,110.2 243.5,108.3 243.7,106.5 243.9,106.2 244,107.1 244.2,109.1 244.3,111.6 244.5,114.3 244.7,117.9 244.8,120.5 245,121.9 245.2,121.1 245.3,118.9 245.5,115.4 245.6,112.2 245.8,109.9 246,107 246.1,105.1 246.3,104.1 246.5,104.3 246.6,106 246.8,109.1 247,113.2 247.1,120.8 247.3,124.9 247.4,127.6 247.6,128.3 247.8,126.1 247.9,122.1 248.1,115.3 248.3,108.9 248.4,103.1 248.6,99.2 248.7,95.7 248.9,95.5 249.1,98.3 249.2,103.3 249.4,109.5 249.6,115.1 249.7,121.9 249.9,126.8 250.1,129.4 250.2,129.7 250.4,127.3 250.5,122.6 250.7,114.4 250.9,106.6 251,101.2 251.2,97.4 251.4,95 251.5,95 251.7,97.4 251.8,102.5 252,109.6 252.2,117.7 252.3,124.1 252.5,128.6 252.7,129.6 252.8,128.3 253,124.4 253.1,119.1 253.3,114.6 253.5,110.7 253.6,107.9 253.8,104.3 254,103.2 254.1,103.1 254.3,104.8 254.5,107.9 254.6,111.9 254.8,117 254.9,122.2 255.1,125.7 255.3,125.3 255.4,122.9 255.6,119.3 255.8,114.9 255.9,111.3 256.1,108.9 256.2,107.7 256.4,106.7 256.6,106.2 256.7,106.7 256.9,108.7 257.1,111.6 257.2,114.9 257.4,119.1 257.6,122.5 257.7,124.1 257.9,123.9 258,121.4 258.2,117.6 258.4,114.1 258.5,109.4 258.7,106.8 258.9,104.2 259,102.7 259.2,102.4 259.3,103.6 259.5,105.6 259.7,109.8 259.8,114.7 260,119.8 260.2,124.2 260.3,125.9 260.5,124.7 260.7,120.6 260.8,115.7 261,111.9 261.1,107.5 261.3,103.6 261.5,100.7 261.6,99.4 261.8,99.8 262,102.7 262.1,107.9 262.3,112.6 262.4,118.1 262.6,122.3 262.8,125 262.9,125.9 263.1,124.5 263.3,121.6 263.4,117 263.6,113.4 263.7,110.1 263.9,107.5 264.1,105.7 264.2,104.4 264.4,104.3 264.6,105.4 264.7,107.5 264.9,110.7 265.1,114.7 265.2,117.3 265.4,119.8 265.5,121.2 265.7,121 265.9,119.6 266,117.4 266.2,114.2 266.4,111.5 266.5,108.4 266.7,106.1 266.8,104.1 267,103.3 267.2,104.3 267.3,106.7 267.5,109.9 267.7,115.9 267.8,120.5 268,124.4 268.2,126.5 268.3,126.1 268.5,122.8 268.6,116.9 268.8,110.6 269,106.4 269.1,103.3 269.3,101.3 269.5,100.5 269.6,101 269.8,102.8 269.9,108.5 270.1,115.9 270.3,124.2 270.4,128.4 270.6,130.4 270.8,129.1 270.9,126.2 271.1,121.5 271.2,116.7 271.4,111.5 271.6,107.2 271.7,103.2 271.9,101.5 272.1,102.2 272.2,104.6 272.4,107.9 272.6,111.5 272.7,114.4 272.9,117.2 273,119.3 273.2,120.5 273.4,120.8 273.5,120.3 273.7,118.4 273.9,116.1 274,112.5 274.2,109.9 274.3,107.2 274.5,104.8 274.7,102.6 274.8,101.7 275,102.2 275.2,104.3 275.3,108.5 275.5,113.7 275.7,117.2 275.8,121.2 276,124.1 276.1,124.9 276.3,123.3 276.5,119.9 276.6,116.2 276.8,112 277,108 277.1,105.6 277.3,103.7 277.4,103.6 277.6,104.7 277.8,107.2 277.9,110.3 278.1,114.8 278.3,118.4 278.4,120.4 278.6,121.4 278.8,121.1 278.9,119.6 279.1,116.9 279.2,113.5 279.4,111 279.6,109.7 279.7,108.6 279.9,107.5 280.1,107 280.2,107.2 280.4,108.8 280.5,111.2 280.7,113.4 280.9,115.1 281,116.5 281.2,117.8 281.4,118.1 281.5,118 281.7,116.7 281.8,114.4 282,111.8 282.2,110.7 282.3,109.1 282.5,107.6 282.7,106.8 282.8,107.1 283,108.1 283.2,110.1 283.3,112.3 283.5,116.5 283.6,120.5 283.8,123.6 284,124.8 284.1,124.8 284.3,121.9 284.5,117.5 284.6,111.4 284.8,108.4 284.9,106.2 285.1,103.5 285.3,102.4 285.4,102.9 285.6,104.2 285.8,108.4 285.9,113.6 286.1,119.6 286.3,122.3 286.4,125.7 286.6,126.3 286.7,126 286.9,123.5 287.1,120.7 287.2,117.4 287.4,113.1 287.6,108.5 287.7,104.3 287.9,101.8 288,100.5 288.2,101.6 288.4,104.8 288.5,109.9 288.7,115.4 288.9,122 289,126.6 289.2,127.9 289.3,125.4 289.5,122.8 289.7,118.9 289.8,113.4 290,109.4 290.2,107.1 290.3,104.8 290.5,103.6 290.7,103.8 290.8,105.1 291,107.9 291.1,111.7 291.3,115.2 291.5,117.8 291.6,119.9 291.8,121.3 292,122 292.1,121.2 292.3,119 292.4,115.9 292.6,111.4 292.8,108.3 292.9,105.5 293.1,103.8 293.3,103.4 293.4,104.1 293.6,106 293.8,109.4 293.9,114.7 294.1,119.9 294.2,123.2 294.4,125.4 294.6,125.5 294.7,123.2 294.9,119.9 295.1,115.6 295.2,111.9 295.4,109.2 295.5,106.3 295.7,103.9 295.9,103.1 296,104.5 296.2,107.6 296.4,111.4 296.5,114.5 296.7,117.1 296.9,119.4 297,120 297.2,120.1 297.3,119.5 297.5,117.7 297.7,114.5 297.8,111.8 298,110.2 298.2,107.3 298.3,104.9 298.5,104 298.6,104.9 298.8,106.7 299,110.8 299.1,116.6 299.3,121.3 299.5,124.2 299.6,125.2 299.8,123.4 299.9,120.4 300.1,115 300.3,109.8 300.4,105.8 300.6,102.4 300.8,101.2 300.9,102.1 301.1,104.4 301.3,108.5 301.4,112.1 301.6,118.1 301.7,122 301.9,124.6 302.1,126.4 302.2,125.8 302.4,123.2 302.6,118.9 302.7,114.1 302.9,110.8 303,107.6 303.2,104.7 303.4,102.8 303.5,102.1 303.7,102.8 303.9,104.9 304,108.5 304.2,113.6 304.4,120.2 304.5,122.8 304.7,124.2 304.8,123.6 305,121 305.2,117.9 305.3,114.2 305.5,111 305.7,108.7 305.8,107.1 306,105.6 306.1,105.2 306.3,106.2 306.5,108.4 306.6,112 306.8,115.4 307,118.6 307.1,121.3 307.3,122.4 307.5,122.3 307.6,121 307.8,118.2 307.9,114.4 308.1,111.4 308.3,109.6 308.4,108.2 308.6,107.3 308.8,106.8 308.9,107.3 309.1,108.3 309.2,110 309.4,112.1 309.6,115.1 309.7,116.8 309.9,118.6 310.1,119.5 310.2,119.4 310.4,118.3 310.5,115.1 310.7,112.5 310.9,110.7 311,109 311.2,107.7 311.4,107 311.5,106.7 311.7,107.6 311.9,108.9 312,111.6 312.2,114.2 312.3,116.6 312.5,118.6 312.7,119.4 312.8,119.5 313,118.3 313.2,116.5 313.3,112.7 313.5,110.1 313.6,107.1 313.8,104.7 314,102.7 314.1,102 314.3,103 314.5,105.2 314.6,110.4 314.8,114.4 315,120.6 315.1,125.2 315.3,127.6 315.4,127.7 315.6,125.1 315.8,120.1 315.9,114.3 316.1,110.1 316.3,107.5 316.4,105.2 316.6,104.3 316.7,104.5 316.9,106.1 317.1,108 317.2,109.8 317.4,113.2 317.6,117.9 317.7,123 317.9,126 318,127.2 318.2,126.7 318.4,123.8 318.5,119.1 318.7,113.8 318.9,109.4 319,105.2 319.2,102.3 319.4,100.7 319.5,100.7 319.7,102.1 319.8,104.5 320,109.6 320.2,115.9 320.3,123.9 320.5,127.4 320.7,127.4 320.8,125.4 321,121.1 321.1,117.9 321.3,114.4 321.5,110.2 321.6,106 321.8,102.2"/>
</g>
<rect x="77.2" y="11.4" width="244.6" height="201.9" fill="none" stroke="#4a4a4a" stroke-width="1"/>
<path d="M158.73 213.3v-2.6 M158.73 11.4v2.6" stroke="#4a4a4a" stroke-width="0.9" fill="none"/>
<path d="M240.27 213.3v-2.6 M240.27 11.4v2.6" stroke="#4a4a4a" stroke-width="0.9" fill="none"/>
<path d="M77.2 112.35h2.6 M321.8 112.35h-2.6" stroke="#4a4a4a" stroke-width="0.9" fill="none"/>
<text x="77.2" y="247.7" font-size="25" text-anchor="middle" class="b">0</text>
<text x="158.73" y="247.7" font-size="25" text-anchor="middle" class="b">500</text>
<text x="240.27" y="247.7" font-size="25" text-anchor="middle" class="b">1000</text>
<text x="321.8" y="247.7" font-size="25" text-anchor="middle" class="b">1500</text>
<text x="67.9" y="21.4" font-size="25" text-anchor="end" class="b">10</text>
<text x="67.9" y="122.35" font-size="25" text-anchor="end" class="b">0</text>
<text x="67.9" y="224.2" font-size="25" text-anchor="end" class="b">-10</text>
<text x="321.3" y="43.4" font-size="25.5" text-anchor="end" class="b">(a)</text>
<rect x="220.2" y="134.3" width="87.3" height="53.8" fill="#fff" stroke="#4a4a4a" stroke-width="0.9"/>
<polygon fill="#000" points="220.2,188.1 220.93,184.63 221.67,181.18 222.4,177.76 223.13,174.39 223.87,171.09 224.6,167.87 225.34,164.74 226.07,161.73 226.8,158.84 227.54,156.09 228.27,153.49 229,151.04 229.74,148.76 230.47,146.65 231.2,144.73 231.94,142.99 232.67,141.44 233.41,140.08 234.14,138.92 234.87,137.95 235.61,137.17 236.34,136.57 237.07,136.17 237.81,135.94 238.54,135.89 239.27,136.01 240.01,136.29 240.74,136.72 241.47,137.3 242.21,138.01 242.94,138.85 243.68,139.8 244.41,140.85 245.14,142 245.88,143.24 246.61,144.55 247.34,145.92 248.08,147.34 248.81,148.81 249.54,150.31 250.28,151.84 251.01,153.38 251.75,154.92 252.48,156.47 253.21,158.01 253.95,159.54 254.68,161.04 255.41,162.52 256.15,163.97 256.88,165.38 257.61,166.76 258.35,168.09 259.08,169.37 259.82,170.61 260.55,171.8 261.28,172.94 262.02,174.02 262.75,175.05 263.48,176.03 264.22,176.96 264.95,177.84 265.68,178.66 266.42,179.44 267.15,180.16 267.88,180.84 268.62,181.48 269.35,182.06 270.09,182.61 270.82,183.12 271.55,183.59 272.29,184.02 273.02,184.42 273.75,184.78 274.49,185.11 275.22,185.42 275.95,185.7 276.69,185.95 277.42,186.18 278.16,186.39 278.89,186.58 279.62,186.75 280.36,186.9 281.09,187.04 281.82,187.16 282.56,187.27 283.29,187.37 284.02,187.46 284.76,187.54 285.49,187.61 286.23,187.67 286.96,187.73 287.69,187.77 288.43,187.82 289.16,187.85 289.89,187.89 290.63,187.92 291.36,187.94 292.09,187.96 292.83,187.98 293.56,188 294.29,188.01 295.03,188.03 295.76,188.04 296.5,188.05 297.23,188.05 297.96,188.06 298.7,188.07 299.43,188.07 300.16,188.08 300.9,188.08 301.63,188.08 302.36,188.09 303.1,188.09 303.83,188.09 304.57,188.09 305.3,188.09 306.03,188.09 306.77,188.1 307.5,188.1 307.5,188.1 220.2,188.1"/>
<polyline fill="none" stroke="#dd5a1a" stroke-width="2" stroke-linejoin="round" stroke-linecap="round" points="220.2,188.1 220.93,184.63 221.67,181.18 222.4,177.76 223.13,174.39 223.87,171.09 224.6,167.87 225.34,164.74 226.07,161.73 226.8,158.84 227.54,156.09 228.27,153.49 229,151.04 229.74,148.76 230.47,146.65 231.2,144.73 231.94,142.99 232.67,141.44 233.41,140.08 234.14,138.92 234.87,137.95 235.61,137.17 236.34,136.57 237.07,136.17 237.81,135.94 238.54,135.89 239.27,136.01 240.01,136.29 240.74,136.72 241.47,137.3 242.21,138.01 242.94,138.85 243.68,139.8 244.41,140.85 245.14,142 245.88,143.24 246.61,144.55 247.34,145.92 248.08,147.34 248.81,148.81 249.54,150.31 250.28,151.84 251.01,153.38 251.75,154.92 252.48,156.47 253.21,158.01 253.95,159.54 254.68,161.04 255.41,162.52 256.15,163.97 256.88,165.38 257.61,166.76 258.35,168.09 259.08,169.37 259.82,170.61 260.55,171.8 261.28,172.94 262.02,174.02 262.75,175.05 263.48,176.03 264.22,176.96 264.95,177.84 265.68,178.66 266.42,179.44 267.15,180.16 267.88,180.84 268.62,181.48 269.35,182.06 270.09,182.61 270.82,183.12 271.55,183.59 272.29,184.02 273.02,184.42 273.75,184.78 274.49,185.11 275.22,185.42 275.95,185.7 276.69,185.95 277.42,186.18 278.16,186.39 278.89,186.58 279.62,186.75 280.36,186.9 281.09,187.04 281.82,187.16 282.56,187.27 283.29,187.37 284.02,187.46 284.76,187.54 285.49,187.61 286.23,187.67 286.96,187.73 287.69,187.77 288.43,187.82 289.16,187.85 289.89,187.89 290.63,187.92 291.36,187.94 292.09,187.96 292.83,187.98 293.56,188 294.29,188.01 295.03,188.03 295.76,188.04 296.5,188.05 297.23,188.05 297.96,188.06 298.7,188.07 299.43,188.07 300.16,188.08 300.9,188.08 301.63,188.08 302.36,188.09 303.1,188.09 303.83,188.09 304.57,188.09 305.3,188.09 306.03,188.09 306.77,188.1 307.5,188.1"/>
<path d="M220.2 188.1v-1.6 M220.2 134.3v1.6" stroke="#4a4a4a" stroke-width="0.7" fill="none"/>
<path d="M249.3 188.1v-1.6 M249.3 134.3v1.6" stroke="#4a4a4a" stroke-width="0.7" fill="none"/>
<path d="M278.4 188.1v-1.6 M278.4 134.3v1.6" stroke="#4a4a4a" stroke-width="0.7" fill="none"/>
<path d="M307.5 188.1v-1.6 M307.5 134.3v1.6" stroke="#4a4a4a" stroke-width="0.7" fill="none"/>
<text x="220.2" y="214.1" font-size="18.3" text-anchor="middle" class="b">0</text>
<text x="249.3" y="214.1" font-size="18.3" text-anchor="middle" class="b">1</text>
<text x="278.4" y="214.1" font-size="18.3" text-anchor="middle" class="b">2</text>
<text x="307.5" y="214.1" font-size="18.3" text-anchor="middle" class="b">3</text>
<text x="211.5" y="195.4" font-size="18.3" text-anchor="end" class="b">0</text>
<text x="211.5" y="168.5" font-size="18.3" text-anchor="end" class="b">0.5</text>
<text x="211.5" y="141.6" font-size="18.3" text-anchor="end" class="b">1</text>
<g clip-path="url(#cpb)">
<polyline fill="none" stroke="#88cff0" stroke-width="1.35" stroke-linejoin="round" points="410.7,108.5 410.9,109.1 411,110.3 411.2,112 411.4,113.7 411.5,114.7 411.7,116 411.8,116.8 412,116.8 412.2,115.4 412.3,113.1 412.5,111.7 412.7,109.6 412.8,107.7 413,106.4 413.2,106.7 413.3,107.9 413.5,111.2 413.6,114.2 413.8,118.7 414,122.7 414.1,124.7 414.3,123.9 414.5,121.3 414.6,115.1 414.8,110.2 415,105.1 415.1,101.9 415.3,100.1 415.4,101 415.6,104.5 415.8,111 415.9,116.9 416.1,125 416.3,129.7 416.4,131.5 416.6,129.8 416.8,125.7 416.9,117.3 417.1,109.3 417.2,103.1 417.4,100.1 417.6,99.7 417.7,102.2 417.9,108.8 418.1,114.2 418.2,121.5 418.4,125.1 418.6,126.7 418.7,125.5 418.9,121 419,116.3 419.2,111.8 419.4,109.3 419.5,108.3 419.7,107.2 419.9,107.1 420,108 420.2,110.3 420.4,113 420.5,117.6 420.7,120.9 420.8,122.4 421,121.2 421.2,118.9 421.3,115.7 421.5,111.6 421.7,109.7 421.8,108.2 422,107.7 422.2,108 422.3,108.8 422.5,110.4 422.6,111.9 422.8,114.1 423,116.7 423.1,118.2 423.3,118.2 423.5,117.1 423.6,115.1 423.8,112.6 424,110.6 424.1,109.2 424.3,108.6 424.4,108.8 424.6,109.4 424.8,110.5 424.9,111.5 425.1,112.8 425.3,115.1 425.4,117.2 425.6,118.3 425.8,118.1 425.9,116.8 426.1,114.3 426.2,111.8 426.4,110.4 426.6,109.4 426.7,108.6 426.9,108.7 427.1,109.6 427.2,110.8 427.4,112.5 427.6,116 427.7,118.3 427.9,119.6 428,119.7 428.2,118.2 428.4,116.3 428.5,112.8 428.7,109.9 428.9,107.4 429,105.5 429.2,105.6 429.4,107.1 429.5,110.1 429.7,114.2 429.8,118.9 430,123.6 430.2,125.5 430.3,124.8 430.5,121.3 430.7,115.6 430.8,109.2 431,105.4 431.1,102.9 431.3,102.1 431.5,102.7 431.6,104.4 431.8,108.4 432,113.5 432.1,117.7 432.3,120.8 432.5,122.8 432.6,122.7 432.8,121.1 432.9,117.8 433.1,113.9 433.3,110.7 433.4,107.7 433.6,105.9 433.8,105 433.9,105.6 434.1,107.9 434.3,111.6 434.4,115.4 434.6,118.9 434.7,120.6 434.9,121.1 435.1,120.3 435.2,118.2 435.4,114.7 435.6,111.7 435.7,109.6 435.9,108 436.1,107.1 436.2,107.3 436.4,108.6 436.5,110.6 436.7,115.6 436.9,119.3 437,123 437.2,125 437.4,123.9 437.5,119.5 437.7,113.5 437.9,110 438,106.9 438.2,104.9 438.3,103.3 438.5,104 438.7,106.5 438.8,111 439,116.6 439.2,121 439.3,124.5 439.5,125.6 439.7,124.8 439.8,122.1 440,117.1 440.1,109.9 440.3,104.4 440.5,100 440.6,98.2 440.8,99.6 441,101.7 441.1,106.1 441.3,113 441.5,119.3 441.6,124.7 441.8,127.2 441.9,126.4 442.1,123.9 442.3,119.2 442.4,113.6 442.6,109.4 442.8,105.2 442.9,103.4 443.1,103.3 443.3,105.3 443.4,108 443.6,111.2 443.7,114.6 443.9,118 444.1,121.1 444.2,123.9 444.4,124.4 444.6,122.2 444.7,117.4 444.9,111.5 445.1,106.2 445.2,100.9 445.4,98.3 445.5,98 445.7,101 445.9,108.5 446,118.9 446.2,128.2 446.4,134.5 446.5,135.2 446.7,131.1 446.9,122.6 447,114.6 447.2,106 447.3,97.8 447.5,93.1 447.7,91 447.8,93 448,98.7 448.2,106.7 448.3,114.3 448.5,121.9 448.7,126.4 448.8,130.4 449,131.3 449.1,127.9 449.3,120.4 449.5,110.7 449.6,103.2 449.8,97 450,94.7 450.1,95.2 450.3,97.6 450.5,104.9 450.6,114.7 450.8,122.8 450.9,128.8 451.1,131.6 451.3,132.4 451.4,130.2 451.6,124.7 451.8,118.7 451.9,111.2 452.1,103.7 452.3,96.6 452.4,92.5 452.6,92.6 452.7,96.6 452.9,103.8 453.1,110.2 453.2,118.8 453.4,126.6 453.6,132.7 453.7,134.9 453.9,133 454.1,127.6 454.2,117.4 454.4,105 454.5,97.4 454.7,91.4 454.9,87.5 455,88.5 455.2,93 455.4,102.9 455.5,113.4 455.7,123.7 455.9,130.6 456,133.4 456.2,131.8 456.3,124.4 456.5,116.5 456.7,106.5 456.8,98.4 457,93.8 457.2,92.7 457.3,95 457.5,100.3 457.7,109.1 457.8,120.8 458,134.2 458.1,140.7 458.3,143.7 458.5,141.4 458.6,133.5 458.8,119 459,108.3 459.1,96.9 459.3,89.9 459.5,86.4 459.6,88.2 459.8,94.4 459.9,105.5 460.1,118.3 460.3,129.9 460.4,137.6 460.6,140.1 460.8,140 460.9,135.3 461.1,125.6 461.3,115.7 461.4,102.8 461.6,93.9 461.7,90.1 461.9,88.5 462.1,91.3 462.2,96.2 462.4,104.4 462.6,116 462.7,129.5 462.9,140.2 463.1,145.9 463.2,145.2 463.4,138.4 463.5,122.5 463.7,111.5 463.9,101.7 464,93.5 464.2,89.5 464.4,89.8 464.5,94.4 464.7,103.3 464.9,109.8 465,121.6 465.2,130.8 465.3,134.8 465.5,134.7 465.7,129.7 465.8,120.2 466,106.7 466.2,95.4 466.3,88.2 466.5,84.3 466.7,85.1 466.8,90.1 467,98.5 467.1,109.3 467.3,124.8 467.5,137.5 467.6,143.8 467.8,144.9 468,140.9 468.1,131.7 468.3,117.9 468.5,100.8 468.6,87.8 468.8,80.8 468.9,81.1 469.1,89 469.3,103.3 469.4,117.1 469.6,131.2 469.8,144.4 469.9,152.2 470.1,150.6 470.3,140.3 470.4,124.4 470.6,107.9 470.7,94 470.9,86 471.1,82.8 471.2,85.8 471.4,93.4 471.6,102 471.7,114.3 471.9,123.9 472.1,134.5 472.2,137.3 472.4,136.3 472.5,130.9 472.7,123.6 472.9,112.7 473,105.8 473.2,99.6 473.4,97.9 473.5,98.6 473.7,100.8 473.8,105.4 474,111 474.2,117.2 474.3,122.5 474.5,125.7 474.7,126.2 474.8,122.9 475,119.3 475.2,114.1 475.3,111.3 475.5,107.7 475.6,105.5 475.8,105.3 476,106.7 476.1,108.9 476.3,111.3 476.5,115.4 476.6,118.9 476.8,121.5 477,122.5 477.1,121.7 477.3,118.7 477.4,113.5 477.6,108.1 477.8,102.7 477.9,98.9 478.1,96.7 478.3,96.6 478.4,100.6 478.6,107.5 478.8,116.1 478.9,123.2 479.1,128.1 479.2,130.7 479.4,130.6 479.6,127.8 479.7,118.5 479.9,108.5 480.1,100 480.2,92.2 480.4,89.6 480.6,91.3 480.7,97.4 480.9,107.9 481,119.1 481.2,130.3 481.4,138.6 481.5,140.8 481.7,139.8 481.9,131.2 482,119 482.2,104.7 482.4,94.7 482.5,87 482.7,86.8 482.8,91.1 483,100.7 483.2,110.7 483.3,122.4 483.5,135.3 483.7,144.5 483.8,146.2 484,143.3 484.2,133.1 484.3,120.2 484.5,106.5 484.6,98 484.8,91.7 485,89.1 485.1,91.4 485.3,97.5 485.5,107.6 485.6,118 485.8,125.7 486,131.3 486.1,133.6 486.3,131.2 486.4,125.9 486.6,119.3 486.8,111.8 486.9,105.8 487.1,101.5 487.3,99.1 487.4,99.5 487.6,102.7 487.8,106.9 487.9,112.1 488.1,117.8 488.2,123.6 488.4,125.9 488.6,125 488.7,122.7 488.9,117.3 489.1,114.3 489.2,110.4 489.4,107.1 489.6,104.6 489.7,104.1 489.9,105 490,107 490.2,109.7 490.4,113.4 490.5,119.4 490.7,122.5 490.9,123.2 491,122.3 491.2,119.3 491.4,115.7 491.5,112.9 491.7,109 491.8,105.1 492,103.4 492.2,103.3 492.3,105.6 492.5,109.1 492.7,113.4 492.8,118.6 493,121.3 493.2,123.6 493.3,123.6 493.5,120.2 493.6,116.3 493.8,111.9 494,108.3 494.1,104.8 494.3,102.6 494.5,102.3 494.6,103.9 494.8,108.1 495,112.4 495.1,117.6 495.3,121.9 495.4,123.7 495.6,123.2 495.8,121.4 495.9,117.2 496.1,112.7 496.3,108 496.4,104.4 496.6,101.9 496.8,100.2 496.9,101.5 497.1,105.1 497.2,110.9 497.4,118.9 497.6,128.2 497.7,133.4 497.9,134.5 498.1,131.8 498.2,126.7 498.4,114.1 498.6,103.5 498.7,96.4 498.9,90.4 499,89.1 499.2,92.2 499.4,99.4 499.5,111.4 499.7,120.4 499.9,129.5 500,136.4 500.2,139.1 500.4,136.7 500.5,129 500.7,116.9 500.8,105.4 501,93.3 501.2,85.2 501.3,81.5 501.5,83.7 501.7,91.3 501.8,104.6 502,117.5 502.2,128.6 502.3,136.6 502.5,141.9 502.6,142.1 502.8,136.6 503,125.9 503.1,114.6 503.3,100 503.5,89.2 503.6,81.8 503.8,81.1 504,87.4 504.1,96.3 504.3,110 504.4,121.2 504.6,131.8 504.8,140.1 504.9,140.1 505.1,133.5 505.3,125.5 505.4,114.1 505.6,103.6 505.8,91.8 505.9,85.8 506.1,85 506.2,90.2 506.4,100.1 506.6,112.4 506.7,126.2 506.9,137.3 507.1,143.2 507.2,144.4 507.4,140.3 507.6,127.2 507.7,111.5 507.9,96.3 508,87.9 508.2,85.2 508.4,86.6 508.5,93.6 508.7,104.3 508.9,115.9 509,128.3 509.2,135.1 509.4,138.4 509.5,136.2 509.7,129.4 509.8,118 510,107.6 510.2,96.7 510.3,90.4 510.5,89.8 510.7,95.2 510.8,101.8 511,110.9 511.2,123 511.3,130.3 511.5,137.7 511.6,138.4 511.8,133.6 512,124.2 512.1,112.5 512.3,104.4 512.5,97 512.6,93.9 512.8,94.2 513,98.5 513.1,106.3 513.3,116.1 513.4,122.9 513.6,127 513.8,129.8 513.9,128.9 514.1,125.6 514.3,120.4 514.4,113.3 514.6,107.1 514.7,101.9 514.9,100.2 515.1,100.5 515.2,104 515.4,109 515.6,113.9 515.7,120.9 515.9,126.5 516.1,128.4 516.2,126.6 516.4,120.5 516.5,114.1 516.7,108.7 516.9,103.5 517,100.7 517.2,99.6 517.4,100.4 517.5,104.8 517.7,110.5 517.9,118.1 518,122.9 518.2,126.2 518.3,127.8 518.5,126 518.7,121.9 518.8,115.2 519,108 519.2,104 519.3,100.6 519.5,99 519.7,99.1 519.8,102.2 520,107.3 520.1,114.3 520.3,123.2 520.5,128.3 520.6,130.3 520.8,129.4 521,125.4 521.1,119.4 521.3,113 521.5,108.3 521.6,105.1 521.8,103.9 521.9,103.3 522.1,104 522.3,107.3 522.4,110.7 522.6,117.6 522.8,123.4 522.9,128.4 523.1,129.6 523.3,128.1 523.4,122.5 523.6,114.5 523.7,108 523.9,102.2 524.1,98.7 524.2,97.6 524.4,99 524.6,103.7 524.7,110.4 524.9,120.2 525.1,126.5 525.2,130.2 525.4,127.9 525.5,122.8 525.7,117.4 525.9,111.8 526,106.3 526.2,102.8 526.4,102.2 526.5,103.1 526.7,105.6 526.9,109 527,112.5 527.2,117.7 527.3,120.6 527.5,122.4 527.7,122.5 527.8,120.4 528,116.2 528.2,111.9 528.3,108.9 528.5,105.7 528.7,104.3 528.8,104.6 529,106.3 529.1,108.8 529.3,111.9 529.5,117.2 529.6,121.6 529.8,124.8 530,124.6 530.1,122.2 530.3,117.8 530.5,113.3 530.6,109.9 530.8,106.8 530.9,104.9 531.1,105.3 531.3,107.1 531.4,109.2 531.6,111.3 531.8,114.1 531.9,116.3 532.1,117.5 532.3,118.2 532.4,117.7 532.6,116.4 532.7,114.2 532.9,111.8 533.1,109.6 533.2,108.1 533.4,106.6 533.6,106.2 533.7,107 533.9,108.6 534.1,111.4 534.2,114.3 534.4,117.1 534.5,118.9 534.7,119.2 534.9,118.5 535,116.6 535.2,113.4 535.4,110.9 535.5,108.6 535.7,107.1 535.9,106.9 536,107.6 536.2,109.9 536.3,113.1 536.5,117.4 536.7,120.2 536.8,120.8 537,119.6 537.2,117.2 537.3,114.5 537.5,112 537.7,110.6 537.8,109.3 538,108 538.1,107.2 538.3,107.6 538.5,109.6 538.6,112.2 538.8,116.1 539,119.4 539.1,121.9 539.3,123.1 539.5,122.3 539.6,119.1 539.8,113.9 539.9,109.3 540.1,106.6 540.3,104.4 540.4,103 540.6,103.3 540.8,105.9 540.9,111.2 541.1,116.4 541.3,121 541.4,123.8 541.6,124.2 541.7,123.7 541.9,120.1 542.1,113.7 542.2,105.4 542.4,98.9 542.6,95.3 542.7,94.9 542.9,96.6 543.1,100.9 543.2,109.1 543.4,117.6 543.5,123.1 543.7,128.7 543.9,131.2 544,130.4 544.2,126.1 544.4,120.6 544.5,111.8 544.7,105.6 544.9,99.8 545,99 545.2,100.4 545.3,103.2 545.5,108.4 545.7,115.1 545.8,124.2 546,129.9 546.2,132.1 546.3,131.2 546.5,127.7 546.7,121.8 546.8,113.1 547,103.9 547.1,96.7 547.3,93.5 547.5,94.1 547.6,98.6 547.8,104.9 548,113.9 548.1,126.2 548.3,135.1 548.5,139.8 548.6,137.8 548.8,130.5 548.9,121.1 549.1,112.8 549.3,102.5 549.4,94.5 549.6,87.7 549.8,87.3 549.9,90.7 550.1,99 550.3,111 550.4,123.8 550.6,133.3 550.7,139.2 550.9,139.5 551.1,133.3 551.2,122.8 551.4,107.9 551.6,99 551.7,92 551.9,90.9 552.1,93 552.2,97.7 552.4,103.5 552.5,110.1 552.7,120.3 552.9,126.3 553,130.3 553.2,130.3 553.4,127.1 553.5,122.1 553.7,114.3 553.9,106.3 554,98.4 554.2,92 554.3,89.3 554.5,93.8 554.7,103.2 554.8,111.6 555,119.3 555.2,126.3 555.3,129.4 555.5,130.4 555.6,127.1 555.8,121.2 556,113.9 556.1,105.4 556.3,98.2 556.5,92.7 556.6,92.4 556.8,97.3 557,104.4 557.1,112.3 557.3,121.7 557.4,126.9 557.6,130 557.8,129.7 557.9,125.2 558.1,119.8 558.3,112.7 558.4,105.7 558.6,100.6 558.8,98.1 558.9,97.9 559.1,100.4 559.2,105.1 559.4,109.3 559.6,115.4 559.7,119.5 559.9,123.7 560.1,125.1 560.2,123.9 560.4,120.6 560.6,115.8 560.7,110.7 560.9,106.6 561,104.3 561.2,103.9 561.4,105 561.5,107.5 561.7,110.4 561.9,114.6 562,119.1 562.2,121.4 562.4,121.9 562.5,120.4 562.7,117.1 562.8,113.3 563,110.2 563.2,106.9 563.3,104.9 563.5,104.5 563.7,104.9 563.8,106.3 564,109.5 564.2,113.5 564.3,117.8 564.5,121.9 564.6,124.4 564.8,124.2 565,120.9 565.1,116.8 565.3,110.3 565.5,104 565.6,99.7 565.8,97.4 566,97.5 566.1,100.3 566.3,105 566.4,112.9 566.6,121.9 566.8,128.8 566.9,134.6 567.1,136.2 567.3,133.1 567.4,124.4 567.6,114.9 567.8,105.2 567.9,93.9 568.1,88 568.2,86.9 568.4,91.7 568.6,101.6 568.7,113.9 568.9,129.2 569.1,142 569.2,146.1 569.4,144 569.6,134.9 569.7,123.2 569.9,112.4 570,101.9 570.2,93.9 570.4,91.2 570.5,92.7 570.7,98.3 570.9,107.5 571,113.6 571.2,118.4 571.4,123.5 571.5,126.2 571.7,126.4 571.8,123.7 572,118.8 572.2,112.1 572.3,106.8 572.5,102.6 572.7,100.1 572.8,100 573,102.9 573.2,108.2 573.3,113.4 573.5,119.6 573.6,122.7 573.8,124 574,122.9 574.1,120.7 574.3,117 574.5,112.3 574.6,109.2 574.8,106.8 575,104.9 575.1,104 575.3,104.6 575.4,107 575.6,110 575.8,114.9 575.9,119.6 576.1,123.1 576.3,124.6 576.4,124.1 576.6,122 576.8,117.1 576.9,111.3 577.1,107.1 577.2,104.2 577.4,101.9 577.6,102.4 577.7,104.2 577.9,108.3 578.1,113.6 578.2,117.5 578.4,122.5 578.6,125.9 578.7,126.3 578.9,123.7 579,118.9 579.2,112.4 579.4,107.6 579.5,103.6 579.7,101.5 579.9,101.3 580,103.7 580.2,106.5 580.4,112.2 580.5,118.2 580.7,121.7 580.8,124.9 581,125 581.2,122.8 581.3,118.9 581.5,114 581.7,107.9 581.8,101.3 582,97.4 582.2,94.9 582.3,96.4 582.5,102.1 582.6,107.5 582.8,117.1 583,127.6 583.1,133 583.3,135.5 583.5,133.3 583.6,127.3 583.8,120.6 584,111.1 584.1,102.7 584.3,98.9 584.4,98.3 584.6,100.2 584.8,104.1 584.9,109.6 585.1,116.7 585.3,122.4 585.4,125.5 585.6,124.7 585.8,120.4 585.9,115.6 586.1,110 586.2,106 586.4,102.7 586.6,101.9 586.7,104.4 586.9,107.5 587.1,111.9 587.2,117.2 587.4,120.9 587.6,123.2 587.7,122.8 587.9,120.5 588,116.9 588.2,113 588.4,108.4 588.5,104.2 588.7,102.2 588.9,103.1 589,105.4 589.2,109.1 589.4,114.4 589.5,119.8 589.7,125.9 589.8,129.5 590,128 590.2,123.4 590.3,115.7 590.5,108.9 590.7,102.8 590.8,98.6 591,97.1 591.2,98.2 591.3,102.2 591.5,109.3 591.6,116.9 591.8,125.6 592,131.5 592.1,133.6 592.3,130.7 592.5,124.3 592.6,112.6 592.8,104.8 593,99 593.1,94.8 593.3,94.6 593.4,96.2 593.6,103.6 593.8,112.7 593.9,122.8 594.1,129.9 594.3,133.2 594.4,131.7 594.6,126.4 594.8,118.9 594.9,110.1 595.1,102.8 595.2,97.8 595.4,95.5 595.6,96.1 595.7,100.5 595.9,106 596.1,111.2 596.2,118.6 596.4,123.9 596.5,126.2 596.7,125.6 596.9,122.1 597,118 597.2,113.5 597.4,105.5 597.5,98 597.7,93.9 597.9,94.6 598,99.8 598.2,107.1 598.3,115.5 598.5,123.5 598.7,128.4 598.8,130 599,129.3 599.2,126.6 599.3,121.3 599.5,111.4 599.7,102 599.8,94.6 600,91.6 600.1,93.8 600.3,100.9 600.5,107.9 600.6,117.6 600.8,126.9 601,131.7 601.1,130.6 601.3,126.7 601.5,120.5 601.6,114 601.8,108.6 601.9,104.4 602.1,101.4 602.3,100 602.4,100.8 602.6,104.5 602.8,109.7 602.9,113.7 603.1,119.6 603.3,125.3 603.4,126.2 603.6,123 603.7,119.2 603.9,114.7 604.1,110 604.2,106.5 604.4,104.8 604.6,104.5 604.7,106.1 604.9,108.7 605.1,111.8 605.2,115.5 605.4,118.1 605.5,119.8 605.7,120.4 605.9,119.5 606,116.8 606.2,113.5 606.4,110.6 606.5,108.7 606.7,106.7 606.9,106 607,106.5 607.2,108.2 607.3,111.2 607.5,114 607.7,116.4 607.8,119 608,120.5 608.2,119.9 608.3,118 608.5,115.3 608.7,111.7 608.8,106.4 609,101.5 609.1,99.1 609.3,98.6 609.5,101 609.6,105.2 609.8,112.3 610,119.8 610.1,125.8 610.3,129.9 610.5,131 610.6,129.4 610.8,124.4 610.9,118 611.1,107.3 611.3,98.5 611.4,89.1 611.6,85.1 611.8,86.3 611.9,92.3 612.1,102.5 612.3,118.9 612.4,138.6 612.6,152.8 612.7,160.3 612.9,153.4 613.1,137.4 613.2,120.7 613.4,103.5 613.6,87.9 613.7,80.9 613.9,81 614.1,90.2 614.2,101.1 614.4,115.7 614.5,129.6 614.7,140.4 614.9,145.1 615,142.4 615.2,135.7 615.4,124.6 615.5,110.3 615.7,100.5 615.9,93.5 616,88.6 616.2,88.5 616.3,92.4 616.5,101 616.7,110.2 616.8,122 617,131.8 617.2,137.7 617.3,142.4 617.5,142.8 617.7,137.7 617.8,129.2 618,117.1 618.1,105.9 618.3,96.4 618.5,92.3 618.6,92 618.8,95.8 619,103.8 619.1,111.7 619.3,122.5 619.5,130.5 619.6,134.7 619.8,135.3 619.9,132.2 620.1,125.5 620.3,116.7 620.4,107.5 620.6,103.6 620.8,101.9 620.9,102.7 621.1,105.5 621.3,108.8 621.4,113 621.6,117.7 621.7,121.5 621.9,123 622.1,122.1 622.2,119.2 622.4,115.1 622.6,111.5 622.7,109.3 622.9,107.7 623.1,107.2 623.2,108 623.4,109.7 623.5,111.3 623.7,113.8 623.9,116.1 624,117.9 624.2,119.1 624.4,119.2 624.5,118.5 624.7,115.7 624.9,112 625,109.1 625.2,106.4 625.3,104.1 625.5,103.6 625.7,105.2 625.8,108.2 626,112.4 626.2,119.2 626.3,124.6 626.5,126.8 626.7,126.5 626.8,124.2 627,119.7 627.1,114.2 627.3,109.1 627.5,105.4 627.6,103.3 627.8,102.8 628,103.9 628.1,106.4 628.3,110 628.5,113.9 628.6,118.4 628.8,121.1 628.9,122 629.1,121 629.3,118.9 629.4,116.1 629.6,113 629.8,109.9 629.9,107 630.1,104.9 630.3,104.1 630.4,104.8 630.6,107.8 630.7,111.4 630.9,115.7 631.1,122.1 631.2,126 631.4,128 631.6,126.5 631.7,122 631.9,113.9 632.1,109.6 632.2,105 632.4,101.8 632.5,100.9 632.7,102.3 632.9,105.8 633,110.7 633.2,116.1 633.4,120.3 633.5,123.6 633.7,126.1 633.9,125.5 634,122.1 634.2,115.8 634.3,109.8 634.5,106.8 634.7,103.7 634.8,102.6 635,104.1 635.2,107.7 635.3,112.9 635.5,116.8 635.6,120.3 635.8,123.3 636,123.8 636.1,121.4 636.3,117.2 636.5,111.4 636.6,105.4 636.8,100.5 637,99.2 637.1,100.6 637.3,104.8 637.4,110.8 637.6,121.4 637.8,128.9 637.9,132.9 638.1,132.8 638.3,129.3 638.4,123 638.6,114.1 638.8,107.2 638.9,101.5 639.1,98.8 639.2,99.1 639.4,103 639.6,107.8 639.7,113.2 639.9,118.5 640.1,124.6 640.2,128 640.4,128 640.6,125.3 640.7,120.5 640.9,112.8 641,106.4 641.2,101.2 641.4,99.3 641.5,100.2 641.7,103.3 641.9,107.6 642,114 642.2,121.5 642.4,129.2 642.5,131.6 642.7,129.8 642.8,124.1 643,115.7 643.2,109.5 643.3,103.5 643.5,98.6 643.7,96.2 643.8,98.5 644,104.3 644.2,111.5 644.3,117.8 644.5,121.8 644.6,123.7 644.8,123 645,120.6 645.1,115.6 645.3,112.1 645.5,108 645.6,105.1 645.8,103.6 646,103.3 646.1,104.7 646.3,107.8 646.4,111.1 646.6,115.4 646.8,119.1 646.9,122.1 647.1,123.4 647.3,123 647.4,120.4 647.6,114.8 647.8,110.3 647.9,106.8 648.1,103.6 648.2,101.2 648.4,100.4 648.6,102.5 648.7,106.4 648.9,110.4 649.1,117.9 649.2,124.4 649.4,129.5 649.6,130.7 649.7,128.4 649.9,123 650,115.7 650.2,108.6 650.4,103.4 650.5,98.7 650.7,96.8 650.9,98.1 651,102 651.2,108 651.4,117.1 651.5,126 651.7,132.5 651.8,133.8 652,130.3 652.2,122.6 652.3,114.5 652.5,105.5 652.7,98.7 652.8,94.4 653,95.4 653.2,99.1 653.3,105.3 653.5,115.4 653.6,122.8 653.8,130.2 654,135.2 654.1,135.1 654.3,130.2 654.5,120.5 654.6,110.8 654.8,101.5 655,95 655.1,92.3 655.3,92.6 655.4,96.3 655.6,103.3 655.8,108.8 655.9,119 656.1,127.7"/>
<polyline fill="none" stroke="#1a6cb8" stroke-width="0.64" stroke-linejoin="round" points="410.7,108.5 410.9,109.1 411,110.3 411.2,112 411.4,113.7 411.5,114.7 411.7,116 411.8,116.8 412,116.8 412.2,115.4 412.3,113.1 412.5,111.7 412.7,109.6 412.8,107.7 413,106.4 413.2,106.7 413.3,107.9 413.5,111.2 413.6,114.2 413.8,118.7 414,122.7 414.1,124.7 414.3,123.9 414.5,121.3 414.6,115.1 414.8,110.2 415,105.1 415.1,101.9 415.3,100.1 415.4,101 415.6,104.5 415.8,111 415.9,116.9 416.1,125 416.3,129.7 416.4,131.5 416.6,129.8 416.8,125.7 416.9,117.3 417.1,109.3 417.2,103.1 417.4,100.1 417.6,99.7 417.7,102.2 417.9,108.8 418.1,114.2 418.2,121.5 418.4,125.1 418.6,126.7 418.7,125.5 418.9,121 419,116.3 419.2,111.8 419.4,109.3 419.5,108.3 419.7,107.2 419.9,107.1 420,108 420.2,110.3 420.4,113 420.5,117.6 420.7,120.9 420.8,122.4 421,121.2 421.2,118.9 421.3,115.7 421.5,111.6 421.7,109.7 421.8,108.2 422,107.7 422.2,108 422.3,108.8 422.5,110.4 422.6,111.9 422.8,114.1 423,116.7 423.1,118.2 423.3,118.2 423.5,117.1 423.6,115.1 423.8,112.6 424,110.6 424.1,109.2 424.3,108.6 424.4,108.8 424.6,109.4 424.8,110.5 424.9,111.5 425.1,112.8 425.3,115.1 425.4,117.2 425.6,118.3 425.8,118.1 425.9,116.8 426.1,114.3 426.2,111.8 426.4,110.4 426.6,109.4 426.7,108.6 426.9,108.7 427.1,109.6 427.2,110.8 427.4,112.5 427.6,116 427.7,118.3 427.9,119.6 428,119.7 428.2,118.2 428.4,116.3 428.5,112.8 428.7,109.9 428.9,107.4 429,105.5 429.2,105.6 429.4,107.1 429.5,110.1 429.7,114.2 429.8,118.9 430,123.6 430.2,125.5 430.3,124.8 430.5,121.3 430.7,115.6 430.8,109.2 431,105.4 431.1,102.9 431.3,102.1 431.5,102.7 431.6,104.4 431.8,108.4 432,113.5 432.1,117.7 432.3,120.8 432.5,122.8 432.6,122.7 432.8,121.1 432.9,117.8 433.1,113.9 433.3,110.7 433.4,107.7 433.6,105.9 433.8,105 433.9,105.6 434.1,107.9 434.3,111.6 434.4,115.4 434.6,118.9 434.7,120.6 434.9,121.1 435.1,120.3 435.2,118.2 435.4,114.7 435.6,111.7 435.7,109.6 435.9,108 436.1,107.1 436.2,107.3 436.4,108.6 436.5,110.6 436.7,115.6 436.9,119.3 437,123 437.2,125 437.4,123.9 437.5,119.5 437.7,113.5 437.9,110 438,106.9 438.2,104.9 438.3,103.3 438.5,104 438.7,106.5 438.8,111 439,116.6 439.2,121 439.3,124.5 439.5,125.6 439.7,124.8 439.8,122.1 440,117.1 440.1,109.9 440.3,104.4 440.5,100 440.6,98.2 440.8,99.6 441,101.7 441.1,106.1 441.3,113 441.5,119.3 441.6,124.7 441.8,127.2 441.9,126.4 442.1,123.9 442.3,119.2 442.4,113.6 442.6,109.4 442.8,105.2 442.9,103.4 443.1,103.3 443.3,105.3 443.4,108 443.6,111.2 443.7,114.6 443.9,118 444.1,121.1 444.2,123.9 444.4,124.4 444.6,122.2 444.7,117.4 444.9,111.5 445.1,106.2 445.2,100.9 445.4,98.3 445.5,98 445.7,101 445.9,108.5 446,118.9 446.2,128.2 446.4,134.5 446.5,135.2 446.7,131.1 446.9,122.6 447,114.6 447.2,106 447.3,97.8 447.5,93.1 447.7,91 447.8,93 448,98.7 448.2,106.7 448.3,114.3 448.5,121.9 448.7,126.4 448.8,130.4 449,131.3 449.1,127.9 449.3,120.4 449.5,110.7 449.6,103.2 449.8,97 450,94.7 450.1,95.2 450.3,97.6 450.5,104.9 450.6,114.7 450.8,122.8 450.9,128.8 451.1,131.6 451.3,132.4 451.4,130.2 451.6,124.7 451.8,118.7 451.9,111.2 452.1,103.7 452.3,96.6 452.4,92.5 452.6,92.6 452.7,96.6 452.9,103.8 453.1,110.2 453.2,118.8 453.4,126.6 453.6,132.7 453.7,134.9 453.9,133 454.1,127.6 454.2,117.4 454.4,105 454.5,97.4 454.7,91.4 454.9,87.5 455,88.5 455.2,93 455.4,102.9 455.5,113.4 455.7,123.7 455.9,130.6 456,133.4 456.2,131.8 456.3,124.4 456.5,116.5 456.7,106.5 456.8,98.4 457,93.8 457.2,92.7 457.3,95 457.5,100.3 457.7,109.1 457.8,120.8 458,134.2 458.1,140.7 458.3,143.7 458.5,141.4 458.6,133.5 458.8,119 459,108.3 459.1,96.9 459.3,89.9 459.5,86.4 459.6,88.2 459.8,94.4 459.9,105.5 460.1,118.3 460.3,129.9 460.4,137.6 460.6,140.1 460.8,140 460.9,135.3 461.1,125.6 461.3,115.7 461.4,102.8 461.6,93.9 461.7,90.1 461.9,88.5 462.1,91.3 462.2,96.2 462.4,104.4 462.6,116 462.7,129.5 462.9,140.2 463.1,145.9 463.2,145.2 463.4,138.4 463.5,122.5 463.7,111.5 463.9,101.7 464,93.5 464.2,89.5 464.4,89.8 464.5,94.4 464.7,103.3 464.9,109.8 465,121.6 465.2,130.8 465.3,134.8 465.5,134.7 465.7,129.7 465.8,120.2 466,106.7 466.2,95.4 466.3,88.2 466.5,84.3 466.7,85.1 466.8,90.1 467,98.5 467.1,109.3 467.3,124.8 467.5,137.5 467.6,143.8 467.8,144.9 468,140.9 468.1,131.7 468.3,117.9 468.5,100.8 468.6,87.8 468.8,80.8 468.9,81.1 469.1,89 469.3,103.3 469.4,117.1 469.6,131.2 469.8,144.4 469.9,152.2 470.1,150.6 470.3,140.3 470.4,124.4 470.6,107.9 470.7,94 470.9,86 471.1,82.8 471.2,85.8 471.4,93.4 471.6,102 471.7,114.3 471.9,123.9 472.1,134.5 472.2,137.3 472.4,136.3 472.5,130.9 472.7,123.6 472.9,112.7 473,105.8 473.2,99.6 473.4,97.9 473.5,98.6 473.7,100.8 473.8,105.4 474,111 474.2,117.2 474.3,122.5 474.5,125.7 474.7,126.2 474.8,122.9 475,119.3 475.2,114.1 475.3,111.3 475.5,107.7 475.6,105.5 475.8,105.3 476,106.7 476.1,108.9 476.3,111.3 476.5,115.4 476.6,118.9 476.8,121.5 477,122.5 477.1,121.7 477.3,118.7 477.4,113.5 477.6,108.1 477.8,102.7 477.9,98.9 478.1,96.7 478.3,96.6 478.4,100.6 478.6,107.5 478.8,116.1 478.9,123.2 479.1,128.1 479.2,130.7 479.4,130.6 479.6,127.8 479.7,118.5 479.9,108.5 480.1,100 480.2,92.2 480.4,89.6 480.6,91.3 480.7,97.4 480.9,107.9 481,119.1 481.2,130.3 481.4,138.6 481.5,140.8 481.7,139.8 481.9,131.2 482,119 482.2,104.7 482.4,94.7 482.5,87 482.7,86.8 482.8,91.1 483,100.7 483.2,110.7 483.3,122.4 483.5,135.3 483.7,144.5 483.8,146.2 484,143.3 484.2,133.1 484.3,120.2 484.5,106.5 484.6,98 484.8,91.7 485,89.1 485.1,91.4 485.3,97.5 485.5,107.6 485.6,118 485.8,125.7 486,131.3 486.1,133.6 486.3,131.2 486.4,125.9 486.6,119.3 486.8,111.8 486.9,105.8 487.1,101.5 487.3,99.1 487.4,99.5 487.6,102.7 487.8,106.9 487.9,112.1 488.1,117.8 488.2,123.6 488.4,125.9 488.6,125 488.7,122.7 488.9,117.3 489.1,114.3 489.2,110.4 489.4,107.1 489.6,104.6 489.7,104.1 489.9,105 490,107 490.2,109.7 490.4,113.4 490.5,119.4 490.7,122.5 490.9,123.2 491,122.3 491.2,119.3 491.4,115.7 491.5,112.9 491.7,109 491.8,105.1 492,103.4 492.2,103.3 492.3,105.6 492.5,109.1 492.7,113.4 492.8,118.6 493,121.3 493.2,123.6 493.3,123.6 493.5,120.2 493.6,116.3 493.8,111.9 494,108.3 494.1,104.8 494.3,102.6 494.5,102.3 494.6,103.9 494.8,108.1 495,112.4 495.1,117.6 495.3,121.9 495.4,123.7 495.6,123.2 495.8,121.4 495.9,117.2 496.1,112.7 496.3,108 496.4,104.4 496.6,101.9 496.8,100.2 496.9,101.5 497.1,105.1 497.2,110.9 497.4,118.9 497.6,128.2 497.7,133.4 497.9,134.5 498.1,131.8 498.2,126.7 498.4,114.1 498.6,103.5 498.7,96.4 498.9,90.4 499,89.1 499.2,92.2 499.4,99.4 499.5,111.4 499.7,120.4 499.9,129.5 500,136.4 500.2,139.1 500.4,136.7 500.5,129 500.7,116.9 500.8,105.4 501,93.3 501.2,85.2 501.3,81.5 501.5,83.7 501.7,91.3 501.8,104.6 502,117.5 502.2,128.6 502.3,136.6 502.5,141.9 502.6,142.1 502.8,136.6 503,125.9 503.1,114.6 503.3,100 503.5,89.2 503.6,81.8 503.8,81.1 504,87.4 504.1,96.3 504.3,110 504.4,121.2 504.6,131.8 504.8,140.1 504.9,140.1 505.1,133.5 505.3,125.5 505.4,114.1 505.6,103.6 505.8,91.8 505.9,85.8 506.1,85 506.2,90.2 506.4,100.1 506.6,112.4 506.7,126.2 506.9,137.3 507.1,143.2 507.2,144.4 507.4,140.3 507.6,127.2 507.7,111.5 507.9,96.3 508,87.9 508.2,85.2 508.4,86.6 508.5,93.6 508.7,104.3 508.9,115.9 509,128.3 509.2,135.1 509.4,138.4 509.5,136.2 509.7,129.4 509.8,118 510,107.6 510.2,96.7 510.3,90.4 510.5,89.8 510.7,95.2 510.8,101.8 511,110.9 511.2,123 511.3,130.3 511.5,137.7 511.6,138.4 511.8,133.6 512,124.2 512.1,112.5 512.3,104.4 512.5,97 512.6,93.9 512.8,94.2 513,98.5 513.1,106.3 513.3,116.1 513.4,122.9 513.6,127 513.8,129.8 513.9,128.9 514.1,125.6 514.3,120.4 514.4,113.3 514.6,107.1 514.7,101.9 514.9,100.2 515.1,100.5 515.2,104 515.4,109 515.6,113.9 515.7,120.9 515.9,126.5 516.1,128.4 516.2,126.6 516.4,120.5 516.5,114.1 516.7,108.7 516.9,103.5 517,100.7 517.2,99.6 517.4,100.4 517.5,104.8 517.7,110.5 517.9,118.1 518,122.9 518.2,126.2 518.3,127.8 518.5,126 518.7,121.9 518.8,115.2 519,108 519.2,104 519.3,100.6 519.5,99 519.7,99.1 519.8,102.2 520,107.3 520.1,114.3 520.3,123.2 520.5,128.3 520.6,130.3 520.8,129.4 521,125.4 521.1,119.4 521.3,113 521.5,108.3 521.6,105.1 521.8,103.9 521.9,103.3 522.1,104 522.3,107.3 522.4,110.7 522.6,117.6 522.8,123.4 522.9,128.4 523.1,129.6 523.3,128.1 523.4,122.5 523.6,114.5 523.7,108 523.9,102.2 524.1,98.7 524.2,97.6 524.4,99 524.6,103.7 524.7,110.4 524.9,120.2 525.1,126.5 525.2,130.2 525.4,127.9 525.5,122.8 525.7,117.4 525.9,111.8 526,106.3 526.2,102.8 526.4,102.2 526.5,103.1 526.7,105.6 526.9,109 527,112.5 527.2,117.7 527.3,120.6 527.5,122.4 527.7,122.5 527.8,120.4 528,116.2 528.2,111.9 528.3,108.9 528.5,105.7 528.7,104.3 528.8,104.6 529,106.3 529.1,108.8 529.3,111.9 529.5,117.2 529.6,121.6 529.8,124.8 530,124.6 530.1,122.2 530.3,117.8 530.5,113.3 530.6,109.9 530.8,106.8 530.9,104.9 531.1,105.3 531.3,107.1 531.4,109.2 531.6,111.3 531.8,114.1 531.9,116.3 532.1,117.5 532.3,118.2 532.4,117.7 532.6,116.4 532.7,114.2 532.9,111.8 533.1,109.6 533.2,108.1 533.4,106.6 533.6,106.2 533.7,107 533.9,108.6 534.1,111.4 534.2,114.3 534.4,117.1 534.5,118.9 534.7,119.2 534.9,118.5 535,116.6 535.2,113.4 535.4,110.9 535.5,108.6 535.7,107.1 535.9,106.9 536,107.6 536.2,109.9 536.3,113.1 536.5,117.4 536.7,120.2 536.8,120.8 537,119.6 537.2,117.2 537.3,114.5 537.5,112 537.7,110.6 537.8,109.3 538,108 538.1,107.2 538.3,107.6 538.5,109.6 538.6,112.2 538.8,116.1 539,119.4 539.1,121.9 539.3,123.1 539.5,122.3 539.6,119.1 539.8,113.9 539.9,109.3 540.1,106.6 540.3,104.4 540.4,103 540.6,103.3 540.8,105.9 540.9,111.2 541.1,116.4 541.3,121 541.4,123.8 541.6,124.2 541.7,123.7 541.9,120.1 542.1,113.7 542.2,105.4 542.4,98.9 542.6,95.3 542.7,94.9 542.9,96.6 543.1,100.9 543.2,109.1 543.4,117.6 543.5,123.1 543.7,128.7 543.9,131.2 544,130.4 544.2,126.1 544.4,120.6 544.5,111.8 544.7,105.6 544.9,99.8 545,99 545.2,100.4 545.3,103.2 545.5,108.4 545.7,115.1 545.8,124.2 546,129.9 546.2,132.1 546.3,131.2 546.5,127.7 546.7,121.8 546.8,113.1 547,103.9 547.1,96.7 547.3,93.5 547.5,94.1 547.6,98.6 547.8,104.9 548,113.9 548.1,126.2 548.3,135.1 548.5,139.8 548.6,137.8 548.8,130.5 548.9,121.1 549.1,112.8 549.3,102.5 549.4,94.5 549.6,87.7 549.8,87.3 549.9,90.7 550.1,99 550.3,111 550.4,123.8 550.6,133.3 550.7,139.2 550.9,139.5 551.1,133.3 551.2,122.8 551.4,107.9 551.6,99 551.7,92 551.9,90.9 552.1,93 552.2,97.7 552.4,103.5 552.5,110.1 552.7,120.3 552.9,126.3 553,130.3 553.2,130.3 553.4,127.1 553.5,122.1 553.7,114.3 553.9,106.3 554,98.4 554.2,92 554.3,89.3 554.5,93.8 554.7,103.2 554.8,111.6 555,119.3 555.2,126.3 555.3,129.4 555.5,130.4 555.6,127.1 555.8,121.2 556,113.9 556.1,105.4 556.3,98.2 556.5,92.7 556.6,92.4 556.8,97.3 557,104.4 557.1,112.3 557.3,121.7 557.4,126.9 557.6,130 557.8,129.7 557.9,125.2 558.1,119.8 558.3,112.7 558.4,105.7 558.6,100.6 558.8,98.1 558.9,97.9 559.1,100.4 559.2,105.1 559.4,109.3 559.6,115.4 559.7,119.5 559.9,123.7 560.1,125.1 560.2,123.9 560.4,120.6 560.6,115.8 560.7,110.7 560.9,106.6 561,104.3 561.2,103.9 561.4,105 561.5,107.5 561.7,110.4 561.9,114.6 562,119.1 562.2,121.4 562.4,121.9 562.5,120.4 562.7,117.1 562.8,113.3 563,110.2 563.2,106.9 563.3,104.9 563.5,104.5 563.7,104.9 563.8,106.3 564,109.5 564.2,113.5 564.3,117.8 564.5,121.9 564.6,124.4 564.8,124.2 565,120.9 565.1,116.8 565.3,110.3 565.5,104 565.6,99.7 565.8,97.4 566,97.5 566.1,100.3 566.3,105 566.4,112.9 566.6,121.9 566.8,128.8 566.9,134.6 567.1,136.2 567.3,133.1 567.4,124.4 567.6,114.9 567.8,105.2 567.9,93.9 568.1,88 568.2,86.9 568.4,91.7 568.6,101.6 568.7,113.9 568.9,129.2 569.1,142 569.2,146.1 569.4,144 569.6,134.9 569.7,123.2 569.9,112.4 570,101.9 570.2,93.9 570.4,91.2 570.5,92.7 570.7,98.3 570.9,107.5 571,113.6 571.2,118.4 571.4,123.5 571.5,126.2 571.7,126.4 571.8,123.7 572,118.8 572.2,112.1 572.3,106.8 572.5,102.6 572.7,100.1 572.8,100 573,102.9 573.2,108.2 573.3,113.4 573.5,119.6 573.6,122.7 573.8,124 574,122.9 574.1,120.7 574.3,117 574.5,112.3 574.6,109.2 574.8,106.8 575,104.9 575.1,104 575.3,104.6 575.4,107 575.6,110 575.8,114.9 575.9,119.6 576.1,123.1 576.3,124.6 576.4,124.1 576.6,122 576.8,117.1 576.9,111.3 577.1,107.1 577.2,104.2 577.4,101.9 577.6,102.4 577.7,104.2 577.9,108.3 578.1,113.6 578.2,117.5 578.4,122.5 578.6,125.9 578.7,126.3 578.9,123.7 579,118.9 579.2,112.4 579.4,107.6 579.5,103.6 579.7,101.5 579.9,101.3 580,103.7 580.2,106.5 580.4,112.2 580.5,118.2 580.7,121.7 580.8,124.9 581,125 581.2,122.8 581.3,118.9 581.5,114 581.7,107.9 581.8,101.3 582,97.4 582.2,94.9 582.3,96.4 582.5,102.1 582.6,107.5 582.8,117.1 583,127.6 583.1,133 583.3,135.5 583.5,133.3 583.6,127.3 583.8,120.6 584,111.1 584.1,102.7 584.3,98.9 584.4,98.3 584.6,100.2 584.8,104.1 584.9,109.6 585.1,116.7 585.3,122.4 585.4,125.5 585.6,124.7 585.8,120.4 585.9,115.6 586.1,110 586.2,106 586.4,102.7 586.6,101.9 586.7,104.4 586.9,107.5 587.1,111.9 587.2,117.2 587.4,120.9 587.6,123.2 587.7,122.8 587.9,120.5 588,116.9 588.2,113 588.4,108.4 588.5,104.2 588.7,102.2 588.9,103.1 589,105.4 589.2,109.1 589.4,114.4 589.5,119.8 589.7,125.9 589.8,129.5 590,128 590.2,123.4 590.3,115.7 590.5,108.9 590.7,102.8 590.8,98.6 591,97.1 591.2,98.2 591.3,102.2 591.5,109.3 591.6,116.9 591.8,125.6 592,131.5 592.1,133.6 592.3,130.7 592.5,124.3 592.6,112.6 592.8,104.8 593,99 593.1,94.8 593.3,94.6 593.4,96.2 593.6,103.6 593.8,112.7 593.9,122.8 594.1,129.9 594.3,133.2 594.4,131.7 594.6,126.4 594.8,118.9 594.9,110.1 595.1,102.8 595.2,97.8 595.4,95.5 595.6,96.1 595.7,100.5 595.9,106 596.1,111.2 596.2,118.6 596.4,123.9 596.5,126.2 596.7,125.6 596.9,122.1 597,118 597.2,113.5 597.4,105.5 597.5,98 597.7,93.9 597.9,94.6 598,99.8 598.2,107.1 598.3,115.5 598.5,123.5 598.7,128.4 598.8,130 599,129.3 599.2,126.6 599.3,121.3 599.5,111.4 599.7,102 599.8,94.6 600,91.6 600.1,93.8 600.3,100.9 600.5,107.9 600.6,117.6 600.8,126.9 601,131.7 601.1,130.6 601.3,126.7 601.5,120.5 601.6,114 601.8,108.6 601.9,104.4 602.1,101.4 602.3,100 602.4,100.8 602.6,104.5 602.8,109.7 602.9,113.7 603.1,119.6 603.3,125.3 603.4,126.2 603.6,123 603.7,119.2 603.9,114.7 604.1,110 604.2,106.5 604.4,104.8 604.6,104.5 604.7,106.1 604.9,108.7 605.1,111.8 605.2,115.5 605.4,118.1 605.5,119.8 605.7,120.4 605.9,119.5 606,116.8 606.2,113.5 606.4,110.6 606.5,108.7 606.7,106.7 606.9,106 607,106.5 607.2,108.2 607.3,111.2 607.5,114 607.7,116.4 607.8,119 608,120.5 608.2,119.9 608.3,118 608.5,115.3 608.7,111.7 608.8,106.4 609,101.5 609.1,99.1 609.3,98.6 609.5,101 609.6,105.2 609.8,112.3 610,119.8 610.1,125.8 610.3,129.9 610.5,131 610.6,129.4 610.8,124.4 610.9,118 611.1,107.3 611.3,98.5 611.4,89.1 611.6,85.1 611.8,86.3 611.9,92.3 612.1,102.5 612.3,118.9 612.4,138.6 612.6,152.8 612.7,160.3 612.9,153.4 613.1,137.4 613.2,120.7 613.4,103.5 613.6,87.9 613.7,80.9 613.9,81 614.1,90.2 614.2,101.1 614.4,115.7 614.5,129.6 614.7,140.4 614.9,145.1 615,142.4 615.2,135.7 615.4,124.6 615.5,110.3 615.7,100.5 615.9,93.5 616,88.6 616.2,88.5 616.3,92.4 616.5,101 616.7,110.2 616.8,122 617,131.8 617.2,137.7 617.3,142.4 617.5,142.8 617.7,137.7 617.8,129.2 618,117.1 618.1,105.9 618.3,96.4 618.5,92.3 618.6,92 618.8,95.8 619,103.8 619.1,111.7 619.3,122.5 619.5,130.5 619.6,134.7 619.8,135.3 619.9,132.2 620.1,125.5 620.3,116.7 620.4,107.5 620.6,103.6 620.8,101.9 620.9,102.7 621.1,105.5 621.3,108.8 621.4,113 621.6,117.7 621.7,121.5 621.9,123 622.1,122.1 622.2,119.2 622.4,115.1 622.6,111.5 622.7,109.3 622.9,107.7 623.1,107.2 623.2,108 623.4,109.7 623.5,111.3 623.7,113.8 623.9,116.1 624,117.9 624.2,119.1 624.4,119.2 624.5,118.5 624.7,115.7 624.9,112 625,109.1 625.2,106.4 625.3,104.1 625.5,103.6 625.7,105.2 625.8,108.2 626,112.4 626.2,119.2 626.3,124.6 626.5,126.8 626.7,126.5 626.8,124.2 627,119.7 627.1,114.2 627.3,109.1 627.5,105.4 627.6,103.3 627.8,102.8 628,103.9 628.1,106.4 628.3,110 628.5,113.9 628.6,118.4 628.8,121.1 628.9,122 629.1,121 629.3,118.9 629.4,116.1 629.6,113 629.8,109.9 629.9,107 630.1,104.9 630.3,104.1 630.4,104.8 630.6,107.8 630.7,111.4 630.9,115.7 631.1,122.1 631.2,126 631.4,128 631.6,126.5 631.7,122 631.9,113.9 632.1,109.6 632.2,105 632.4,101.8 632.5,100.9 632.7,102.3 632.9,105.8 633,110.7 633.2,116.1 633.4,120.3 633.5,123.6 633.7,126.1 633.9,125.5 634,122.1 634.2,115.8 634.3,109.8 634.5,106.8 634.7,103.7 634.8,102.6 635,104.1 635.2,107.7 635.3,112.9 635.5,116.8 635.6,120.3 635.8,123.3 636,123.8 636.1,121.4 636.3,117.2 636.5,111.4 636.6,105.4 636.8,100.5 637,99.2 637.1,100.6 637.3,104.8 637.4,110.8 637.6,121.4 637.8,128.9 637.9,132.9 638.1,132.8 638.3,129.3 638.4,123 638.6,114.1 638.8,107.2 638.9,101.5 639.1,98.8 639.2,99.1 639.4,103 639.6,107.8 639.7,113.2 639.9,118.5 640.1,124.6 640.2,128 640.4,128 640.6,125.3 640.7,120.5 640.9,112.8 641,106.4 641.2,101.2 641.4,99.3 641.5,100.2 641.7,103.3 641.9,107.6 642,114 642.2,121.5 642.4,129.2 642.5,131.6 642.7,129.8 642.8,124.1 643,115.7 643.2,109.5 643.3,103.5 643.5,98.6 643.7,96.2 643.8,98.5 644,104.3 644.2,111.5 644.3,117.8 644.5,121.8 644.6,123.7 644.8,123 645,120.6 645.1,115.6 645.3,112.1 645.5,108 645.6,105.1 645.8,103.6 646,103.3 646.1,104.7 646.3,107.8 646.4,111.1 646.6,115.4 646.8,119.1 646.9,122.1 647.1,123.4 647.3,123 647.4,120.4 647.6,114.8 647.8,110.3 647.9,106.8 648.1,103.6 648.2,101.2 648.4,100.4 648.6,102.5 648.7,106.4 648.9,110.4 649.1,117.9 649.2,124.4 649.4,129.5 649.6,130.7 649.7,128.4 649.9,123 650,115.7 650.2,108.6 650.4,103.4 650.5,98.7 650.7,96.8 650.9,98.1 651,102 651.2,108 651.4,117.1 651.5,126 651.7,132.5 651.8,133.8 652,130.3 652.2,122.6 652.3,114.5 652.5,105.5 652.7,98.7 652.8,94.4 653,95.4 653.2,99.1 653.3,105.3 653.5,115.4 653.6,122.8 653.8,130.2 654,135.2 654.1,135.1 654.3,130.2 654.5,120.5 654.6,110.8 654.8,101.5 655,95 655.1,92.3 655.3,92.6 655.4,96.3 655.6,103.3 655.8,108.8 655.9,119 656.1,127.7"/>
<polygon fill="#000" stroke="#000" stroke-width="0.8" stroke-linejoin="round" points="410.7,105.8 411.9,109.9 413.5,100.7 414.4,102.1 416,92.9 417.4,95.6 418.3,93.7 419.6,105 421,99.8 422.6,106.9 423.8,104.1 424.9,109 426.4,105.1 427.8,108.4 429,100.1 430.4,101.6 431.9,96.9 433.1,102.4 434.2,98.3 435.4,106.8 436.8,101.1 438.2,102 439.7,93.8 441,94.5 442,91.1 443.7,102.6 444.7,97.3 446.2,92.2 447.1,80.6 448.4,90.4 449.8,90.7 451.5,91.6 452.7,85.1 454.1,86.4 455.3,80.2 456.4,90.8 457.8,86 459.2,84.2 460.7,79.6 461.7,85.3 463.3,82.8 464.4,84.7 465.9,77.7 467,79.3 468.4,75 469.5,78.6 470.9,77.8 472,87.4 473.3,91.6 474.5,102 476.3,99.3 477.4,97.9 479,83.8 480.3,86.8 481.3,76.8 483,84.2 484.1,77.1 485.5,89.5 486.5,89.2 487.7,97.6 489,97.4 490.3,102.6 491.9,98.8 492.9,100.2 494.1,95.2 496,101.3 496.8,94.7 498.4,90.9 499.7,78.1 501.1,78.7 502.3,73.5 503.9,78.5 505.1,78.3 506.3,82.7 507.6,78.7 508.9,82.9 510.5,86 511.3,90.3 512.9,89.3 514.1,95.9 515.1,95 516.6,99.2 518.3,90.5 519.5,95.7 520.3,90.1 521.8,99.3 522.9,91.9 524.8,95.7 525.6,93.1 526.9,101.4 528.8,99.8 529.8,105.2 531,99.3 532.1,107.3 533.7,101.3 534.9,107.7 536.4,101.4 537.3,108.2 538.7,101.3 540.1,102.3 541.5,91.6 542.8,91.3 544.3,91.7 545.4,98.5 547.1,90.3 548.4,89.2 549.1,82.9 550.6,83.7 552.1,87.2 553.5,91.3 554.4,83 555.8,88.9 557.3,85.5 558.7,95.7 560.2,94.3 561.5,102.3 562.7,95.7 563.5,102.7 565.5,91.6 566.5,94.4 567.5,84.8 568.9,81.1 570.5,85 571.6,98.7 573,94.8 574.5,104 575.8,95.3 576.9,100.7 578.4,97 579.5,99.6 581.2,89.2 582.2,92.6 583.8,89.1 584.5,95.5 586.3,97.3 587.4,100.5 588.8,97.7 589.8,99.5 591.3,90.2 592.5,94.6 593.7,86.3 594.9,91.3 596.8,89.5 598,90.3 599,83.7 600.3,90.5 601.8,93.8 603.3,101.6 604.2,97.9 606,106.5 607.3,98.5 608.2,102.7 609.7,89.2 610.9,90.3 612.4,69.4 613.3,76.4 614.9,83.2 616.2,85.3 617.6,82.6 618.9,92.1 620.4,93.1 621.2,101.4 622.5,102.2 624,107.6 625.4,98 627,100.5 628.1,97.1 629.4,104.3 630.9,95.9 631.7,99.4 633,95.1 634.5,100.9 635.7,96.7 637.2,96.7 638.7,90.8 639.5,98.4 641.1,92.7 642.5,98.2 643.7,89 645.2,98.8 646.4,99.9 647.8,101.5 648.6,93.4 650,97.3 651.2,91.3 653,92.8 654.4,83 655.1,89.7 656.1,88.6 656.1,100.2 655.1,95.2 654.4,96.5 653,95.9 651.2,98.4 650,102.4 648.6,105.5 647.8,106.7 646.4,107.2 645.2,106.5 643.7,102.8 642.5,101.8 641.1,106.2 639.5,102.4 638.7,103 637.2,101.6 635.7,104 634.5,106.8 633,105.9 631.7,104 630.9,108.2 629.4,110.4 628.1,108.7 627,106.9 625.4,110.6 624,111.6 622.5,110.3 621.2,109 620.4,105.5 618.9,95.7 617.6,89.4 616.2,90.5 614.9,90 613.3,79.9 612.4,82.9 610.9,97.4 609.7,101.1 608.2,107 607.3,110.7 606,111.2 604.2,108.9 603.3,106.3 601.8,102.2 600.3,96.1 599,92.2 598,94.7 596.8,98.9 594.9,99.5 593.7,98.6 592.5,101.4 591.3,100.3 589.8,108.2 588.8,106.1 587.4,104.7 586.3,105.5 584.5,102 583.8,97.4 582.2,98.2 581.2,104.9 579.5,105.4 578.4,103.8 576.9,104.9 575.8,108 574.5,108.6 573,104.8 571.6,105.9 570.5,99.7 568.9,87.7 567.5,94.8 566.5,99.9 565.5,102.8 563.5,106.2 562.7,110.6 561.5,108.1 560.2,104.3 558.7,98 557.3,97.7 555.8,93.4 554.4,92.7 553.5,99.6 552.1,97.1 550.6,88 549.1,90.5 548.4,97.2 547.1,96.5 545.4,102.4 544.3,102.2 542.8,97.8 541.5,101.8 540.1,108.4 538.7,110.6 537.3,110.9 536.4,110.3 534.9,110.2 533.7,111.5 532.1,111.4 531,110.9 529.8,109.5 528.8,109.2 526.9,108.6 525.6,104.4 524.8,100 522.9,106.6 521.8,108.7 520.3,100.8 519.5,101.5 518.3,101.4 516.6,105.2 515.1,106.5 514.1,100.6 512.9,100.2 511.3,95.8 510.5,92.5 508.9,88.8 507.6,90.4 506.3,88.1 505.1,86.4 503.9,83.7 502.3,84.1 501.1,83.5 499.7,90.2 498.4,96.9 496.8,105.6 496,109 494.1,108.4 492.9,106.1 491.9,107.5 490.3,110.8 489,105.8 487.7,104.8 486.5,100.2 485.5,96.5 484.1,89.7 483,91 481.3,89 480.3,93.8 479,96.9 477.4,103.3 476.3,112.1 474.5,107.9 473.3,102.6 472,91.8 470.9,87.1 469.5,84.8 468.4,84.1 467,87.6 465.9,90.2 464.4,93 463.3,91.9 461.7,93.6 460.7,87.9 459.2,90.8 457.8,96.3 456.4,98.1 455.3,93.2 454.1,91.7 452.7,96.9 451.5,96.5 449.8,99.6 448.4,96.1 447.1,94.9 446.2,98.2 444.7,104.2 443.7,110.9 442,104.1 441,102.4 439.7,102.1 438.2,106.6 436.8,111.2 435.4,110.9 434.2,110.7 433.1,110.8 431.9,105.4 430.4,106.5 429,111.5 427.8,111.6 426.4,111.3 424.9,110.5 423.8,111.6 422.6,111.6 421,111.2 419.6,110.4 418.3,107.3 417.4,104.6 416,100 414.4,108.6 413.5,108.3 411.9,111.4 410.7,111.5"/>
<polyline fill="none" stroke="#3b9be0" stroke-width="0.55" stroke-opacity="0.25" stroke-linejoin="round" points="410.7,108.5 410.9,109.1 411,110.3 411.2,112 411.4,113.7 411.5,114.7 411.7,116 411.8,116.8 412,116.8 412.2,115.4 412.3,113.1 412.5,111.7 412.7,109.6 412.8,107.7 413,106.4 413.2,106.7 413.3,107.9 413.5,111.2 413.6,114.2 413.8,118.7 414,122.7 414.1,124.7 414.3,123.9 414.5,121.3 414.6,115.1 414.8,110.2 415,105.1 415.1,101.9 415.3,100.1 415.4,101 415.6,104.5 415.8,111 415.9,116.9 416.1,125 416.3,129.7 416.4,131.5 416.6,129.8 416.8,125.7 416.9,117.3 417.1,109.3 417.2,103.1 417.4,100.1 417.6,99.7 417.7,102.2 417.9,108.8 418.1,114.2 418.2,121.5 418.4,125.1 418.6,126.7 418.7,125.5 418.9,121 419,116.3 419.2,111.8 419.4,109.3 419.5,108.3 419.7,107.2 419.9,107.1 420,108 420.2,110.3 420.4,113 420.5,117.6 420.7,120.9 420.8,122.4 421,121.2 421.2,118.9 421.3,115.7 421.5,111.6 421.7,109.7 421.8,108.2 422,107.7 422.2,108 422.3,108.8 422.5,110.4 422.6,111.9 422.8,114.1 423,116.7 423.1,118.2 423.3,118.2 423.5,117.1 423.6,115.1 423.8,112.6 424,110.6 424.1,109.2 424.3,108.6 424.4,108.8 424.6,109.4 424.8,110.5 424.9,111.5 425.1,112.8 425.3,115.1 425.4,117.2 425.6,118.3 425.8,118.1 425.9,116.8 426.1,114.3 426.2,111.8 426.4,110.4 426.6,109.4 426.7,108.6 426.9,108.7 427.1,109.6 427.2,110.8 427.4,112.5 427.6,116 427.7,118.3 427.9,119.6 428,119.7 428.2,118.2 428.4,116.3 428.5,112.8 428.7,109.9 428.9,107.4 429,105.5 429.2,105.6 429.4,107.1 429.5,110.1 429.7,114.2 429.8,118.9 430,123.6 430.2,125.5 430.3,124.8 430.5,121.3 430.7,115.6 430.8,109.2 431,105.4 431.1,102.9 431.3,102.1 431.5,102.7 431.6,104.4 431.8,108.4 432,113.5 432.1,117.7 432.3,120.8 432.5,122.8 432.6,122.7 432.8,121.1 432.9,117.8 433.1,113.9 433.3,110.7 433.4,107.7 433.6,105.9 433.8,105 433.9,105.6 434.1,107.9 434.3,111.6 434.4,115.4 434.6,118.9 434.7,120.6 434.9,121.1 435.1,120.3 435.2,118.2 435.4,114.7 435.6,111.7 435.7,109.6 435.9,108 436.1,107.1 436.2,107.3 436.4,108.6 436.5,110.6 436.7,115.6 436.9,119.3 437,123 437.2,125 437.4,123.9 437.5,119.5 437.7,113.5 437.9,110 438,106.9 438.2,104.9 438.3,103.3 438.5,104 438.7,106.5 438.8,111 439,116.6 439.2,121 439.3,124.5 439.5,125.6 439.7,124.8 439.8,122.1 440,117.1 440.1,109.9 440.3,104.4 440.5,100 440.6,98.2 440.8,99.6 441,101.7 441.1,106.1 441.3,113 441.5,119.3 441.6,124.7 441.8,127.2 441.9,126.4 442.1,123.9 442.3,119.2 442.4,113.6 442.6,109.4 442.8,105.2 442.9,103.4 443.1,103.3 443.3,105.3 443.4,108 443.6,111.2 443.7,114.6 443.9,118 444.1,121.1 444.2,123.9 444.4,124.4 444.6,122.2 444.7,117.4 444.9,111.5 445.1,106.2 445.2,100.9 445.4,98.3 445.5,98 445.7,101 445.9,108.5 446,118.9 446.2,128.2 446.4,134.5 446.5,135.2 446.7,131.1 446.9,122.6 447,114.6 447.2,106 447.3,97.8 447.5,93.1 447.7,91 447.8,93 448,98.7 448.2,106.7 448.3,114.3 448.5,121.9 448.7,126.4 448.8,130.4 449,131.3 449.1,127.9 449.3,120.4 449.5,110.7 449.6,103.2 449.8,97 450,94.7 450.1,95.2 450.3,97.6 450.5,104.9 450.6,114.7 450.8,122.8 450.9,128.8 451.1,131.6 451.3,132.4 451.4,130.2 451.6,124.7 451.8,118.7 451.9,111.2 452.1,103.7 452.3,96.6 452.4,92.5 452.6,92.6 452.7,96.6 452.9,103.8 453.1,110.2 453.2,118.8 453.4,126.6 453.6,132.7 453.7,134.9 453.9,133 454.1,127.6 454.2,117.4 454.4,105 454.5,97.4 454.7,91.4 454.9,87.5 455,88.5 455.2,93 455.4,102.9 455.5,113.4 455.7,123.7 455.9,130.6 456,133.4 456.2,131.8 456.3,124.4 456.5,116.5 456.7,106.5 456.8,98.4 457,93.8 457.2,92.7 457.3,95 457.5,100.3 457.7,109.1 457.8,120.8 458,134.2 458.1,140.7 458.3,143.7 458.5,141.4 458.6,133.5 458.8,119 459,108.3 459.1,96.9 459.3,89.9 459.5,86.4 459.6,88.2 459.8,94.4 459.9,105.5 460.1,118.3 460.3,129.9 460.4,137.6 460.6,140.1 460.8,140 460.9,135.3 461.1,125.6 461.3,115.7 461.4,102.8 461.6,93.9 461.7,90.1 461.9,88.5 462.1,91.3 462.2,96.2 462.4,104.4 462.6,116 462.7,129.5 462.9,140.2 463.1,145.9 463.2,145.2 463.4,138.4 463.5,122.5 463.7,111.5 463.9,101.7 464,93.5 464.2,89.5 464.4,89.8 464.5,94.4 464.7,103.3 464.9,109.8 465,121.6 465.2,130.8 465.3,134.8 465.5,134.7 465.7,129.7 465.8,120.2 466,106.7 466.2,95.4 466.3,88.2 466.5,84.3 466.7,85.1 466.8,90.1 467,98.5 467.1,109.3 467.3,124.8 467.5,137.5 467.6,143.8 467.8,144.9 468,140.9 468.1,131.7 468.3,117.9 468.5,100.8 468.6,87.8 468.8,80.8 468.9,81.1 469.1,89 469.3,103.3 469.4,117.1 469.6,131.2 469.8,144.4 469.9,152.2 470.1,150.6 470.3,140.3 470.4,124.4 470.6,107.9 470.7,94 470.9,86 471.1,82.8 471.2,85.8 471.4,93.4 471.6,102 471.7,114.3 471.9,123.9 472.1,134.5 472.2,137.3 472.4,136.3 472.5,130.9 472.7,123.6 472.9,112.7 473,105.8 473.2,99.6 473.4,97.9 473.5,98.6 473.7,100.8 473.8,105.4 474,111 474.2,117.2 474.3,122.5 474.5,125.7 474.7,126.2 474.8,122.9 475,119.3 475.2,114.1 475.3,111.3 475.5,107.7 475.6,105.5 475.8,105.3 476,106.7 476.1,108.9 476.3,111.3 476.5,115.4 476.6,118.9 476.8,121.5 477,122.5 477.1,121.7 477.3,118.7 477.4,113.5 477.6,108.1 477.8,102.7 477.9,98.9 478.1,96.7 478.3,96.6 478.4,100.6 478.6,107.5 478.8,116.1 478.9,123.2 479.1,128.1 479.2,130.7 479.4,130.6 479.6,127.8 479.7,118.5 479.9,108.5 480.1,100 480.2,92.2 480.4,89.6 480.6,91.3 480.7,97.4 480.9,107.9 481,119.1 481.2,130.3 481.4,138.6 481.5,140.8 481.7,139.8 481.9,131.2 482,119 482.2,104.7 482.4,94.7 482.5,87 482.7,86.8 482.8,91.1 483,100.7 483.2,110.7 483.3,122.4 483.5,135.3 483.7,144.5 483.8,146.2 484,143.3 484.2,133.1 484.3,120.2 484.5,106.5 484.6,98 484.8,91.7 485,89.1 485.1,91.4 485.3,97.5 485.5,107.6 485.6,118 485.8,125.7 486,131.3 486.1,133.6 486.3,131.2 486.4,125.9 486.6,119.3 486.8,111.8 486.9,105.8 487.1,101.5 487.3,99.1 487.4,99.5 487.6,102.7 487.8,106.9 487.9,112.1 488.1,117.8 488.2,123.6 488.4,125.9 488.6,125 488.7,122.7 488.9,117.3 489.1,114.3 489.2,110.4 489.4,107.1 489.6,104.6 489.7,104.1 489.9,105 490,107 490.2,109.7 490.4,113.4 490.5,119.4 490.7,122.5 490.9,123.2 491,122.3 491.2,119.3 491.4,115.7 491.5,112.9 491.7,109 491.8,105.1 492,103.4 492.2,103.3 492.3,105.6 492.5,109.1 492.7,113.4 492.8,118.6 493,121.3 493.2,123.6 493.3,123.6 493.5,120.2 493.6,116.3 493.8,111.9 494,108.3 494.1,104.8 494.3,102.6 494.5,102.3 494.6,103.9 494.8,108.1 495,112.4 495.1,117.6 495.3,121.9 495.4,123.7 495.6,123.2 495.8,121.4 495.9,117.2 496.1,112.7 496.3,108 496.4,104.4 496.6,101.9 496.8,100.2 496.9,101.5 497.1,105.1 497.2,110.9 497.4,118.9 497.6,128.2 497.7,133.4 497.9,134.5 498.1,131.8 498.2,126.7 498.4,114.1 498.6,103.5 498.7,96.4 498.9,90.4 499,89.1 499.2,92.2 499.4,99.4 499.5,111.4 499.7,120.4 499.9,129.5 500,136.4 500.2,139.1 500.4,136.7 500.5,129 500.7,116.9 500.8,105.4 501,93.3 501.2,85.2 501.3,81.5 501.5,83.7 501.7,91.3 501.8,104.6 502,117.5 502.2,128.6 502.3,136.6 502.5,141.9 502.6,142.1 502.8,136.6 503,125.9 503.1,114.6 503.3,100 503.5,89.2 503.6,81.8 503.8,81.1 504,87.4 504.1,96.3 504.3,110 504.4,121.2 504.6,131.8 504.8,140.1 504.9,140.1 505.1,133.5 505.3,125.5 505.4,114.1 505.6,103.6 505.8,91.8 505.9,85.8 506.1,85 506.2,90.2 506.4,100.1 506.6,112.4 506.7,126.2 506.9,137.3 507.1,143.2 507.2,144.4 507.4,140.3 507.6,127.2 507.7,111.5 507.9,96.3 508,87.9 508.2,85.2 508.4,86.6 508.5,93.6 508.7,104.3 508.9,115.9 509,128.3 509.2,135.1 509.4,138.4 509.5,136.2 509.7,129.4 509.8,118 510,107.6 510.2,96.7 510.3,90.4 510.5,89.8 510.7,95.2 510.8,101.8 511,110.9 511.2,123 511.3,130.3 511.5,137.7 511.6,138.4 511.8,133.6 512,124.2 512.1,112.5 512.3,104.4 512.5,97 512.6,93.9 512.8,94.2 513,98.5 513.1,106.3 513.3,116.1 513.4,122.9 513.6,127 513.8,129.8 513.9,128.9 514.1,125.6 514.3,120.4 514.4,113.3 514.6,107.1 514.7,101.9 514.9,100.2 515.1,100.5 515.2,104 515.4,109 515.6,113.9 515.7,120.9 515.9,126.5 516.1,128.4 516.2,126.6 516.4,120.5 516.5,114.1 516.7,108.7 516.9,103.5 517,100.7 517.2,99.6 517.4,100.4 517.5,104.8 517.7,110.5 517.9,118.1 518,122.9 518.2,126.2 518.3,127.8 518.5,126 518.7,121.9 518.8,115.2 519,108 519.2,104 519.3,100.6 519.5,99 519.7,99.1 519.8,102.2 520,107.3 520.1,114.3 520.3,123.2 520.5,128.3 520.6,130.3 520.8,129.4 521,125.4 521.1,119.4 521.3,113 521.5,108.3 521.6,105.1 521.8,103.9 521.9,103.3 522.1,104 522.3,107.3 522.4,110.7 522.6,117.6 522.8,123.4 522.9,128.4 523.1,129.6 523.3,128.1 523.4,122.5 523.6,114.5 523.7,108 523.9,102.2 524.1,98.7 524.2,97.6 524.4,99 524.6,103.7 524.7,110.4 524.9,120.2 525.1,126.5 525.2,130.2 525.4,127.9 525.5,122.8 525.7,117.4 525.9,111.8 526,106.3 526.2,102.8 526.4,102.2 526.5,103.1 526.7,105.6 526.9,109 527,112.5 527.2,117.7 527.3,120.6 527.5,122.4 527.7,122.5 527.8,120.4 528,116.2 528.2,111.9 528.3,108.9 528.5,105.7 528.7,104.3 528.8,104.6 529,106.3 529.1,108.8 529.3,111.9 529.5,117.2 529.6,121.6 529.8,124.8 530,124.6 530.1,122.2 530.3,117.8 530.5,113.3 530.6,109.9 530.8,106.8 530.9,104.9 531.1,105.3 531.3,107.1 531.4,109.2 531.6,111.3 531.8,114.1 531.9,116.3 532.1,117.5 532.3,118.2 532.4,117.7 532.6,116.4 532.7,114.2 532.9,111.8 533.1,109.6 533.2,108.1 533.4,106.6 533.6,106.2 533.7,107 533.9,108.6 534.1,111.4 534.2,114.3 534.4,117.1 534.5,118.9 534.7,119.2 534.9,118.5 535,116.6 535.2,113.4 535.4,110.9 535.5,108.6 535.7,107.1 535.9,106.9 536,107.6 536.2,109.9 536.3,113.1 536.5,117.4 536.7,120.2 536.8,120.8 537,119.6 537.2,117.2 537.3,114.5 537.5,112 537.7,110.6 537.8,109.3 538,108 538.1,107.2 538.3,107.6 538.5,109.6 538.6,112.2 538.8,116.1 539,119.4 539.1,121.9 539.3,123.1 539.5,122.3 539.6,119.1 539.8,113.9 539.9,109.3 540.1,106.6 540.3,104.4 540.4,103 540.6,103.3 540.8,105.9 540.9,111.2 541.1,116.4 541.3,121 541.4,123.8 541.6,124.2 541.7,123.7 541.9,120.1 542.1,113.7 542.2,105.4 542.4,98.9 542.6,95.3 542.7,94.9 542.9,96.6 543.1,100.9 543.2,109.1 543.4,117.6 543.5,123.1 543.7,128.7 543.9,131.2 544,130.4 544.2,126.1 544.4,120.6 544.5,111.8 544.7,105.6 544.9,99.8 545,99 545.2,100.4 545.3,103.2 545.5,108.4 545.7,115.1 545.8,124.2 546,129.9 546.2,132.1 546.3,131.2 546.5,127.7 546.7,121.8 546.8,113.1 547,103.9 547.1,96.7 547.3,93.5 547.5,94.1 547.6,98.6 547.8,104.9 548,113.9 548.1,126.2 548.3,135.1 548.5,139.8 548.6,137.8 548.8,130.5 548.9,121.1 549.1,112.8 549.3,102.5 549.4,94.5 549.6,87.7 549.8,87.3 549.9,90.7 550.1,99 550.3,111 550.4,123.8 550.6,133.3 550.7,139.2 550.9,139.5 551.1,133.3 551.2,122.8 551.4,107.9 551.6,99 551.7,92 551.9,90.9 552.1,93 552.2,97.7 552.4,103.5 552.5,110.1 552.7,120.3 552.9,126.3 553,130.3 553.2,130.3 553.4,127.1 553.5,122.1 553.7,114.3 553.9,106.3 554,98.4 554.2,92 554.3,89.3 554.5,93.8 554.7,103.2 554.8,111.6 555,119.3 555.2,126.3 555.3,129.4 555.5,130.4 555.6,127.1 555.8,121.2 556,113.9 556.1,105.4 556.3,98.2 556.5,92.7 556.6,92.4 556.8,97.3 557,104.4 557.1,112.3 557.3,121.7 557.4,126.9 557.6,130 557.8,129.7 557.9,125.2 558.1,119.8 558.3,112.7 558.4,105.7 558.6,100.6 558.8,98.1 558.9,97.9 559.1,100.4 559.2,105.1 559.4,109.3 559.6,115.4 559.7,119.5 559.9,123.7 560.1,125.1 560.2,123.9 560.4,120.6 560.6,115.8 560.7,110.7 560.9,106.6 561,104.3 561.2,103.9 561.4,105 561.5,107.5 561.7,110.4 561.9,114.6 562,119.1 562.2,121.4 562.4,121.9 562.5,120.4 562.7,117.1 562.8,113.3 563,110.2 563.2,106.9 563.3,104.9 563.5,104.5 563.7,104.9 563.8,106.3 564,109.5 564.2,113.5 564.3,117.8 564.5,121.9 564.6,124.4 564.8,124.2 565,120.9 565.1,116.8 565.3,110.3 565.5,104 565.6,99.7 565.8,97.4 566,97.5 566.1,100.3 566.3,105 566.4,112.9 566.6,121.9 566.8,128.8 566.9,134.6 567.1,136.2 567.3,133.1 567.4,124.4 567.6,114.9 567.8,105.2 567.9,93.9 568.1,88 568.2,86.9 568.4,91.7 568.6,101.6 568.7,113.9 568.9,129.2 569.1,142 569.2,146.1 569.4,144 569.6,134.9 569.7,123.2 569.9,112.4 570,101.9 570.2,93.9 570.4,91.2 570.5,92.7 570.7,98.3 570.9,107.5 571,113.6 571.2,118.4 571.4,123.5 571.5,126.2 571.7,126.4 571.8,123.7 572,118.8 572.2,112.1 572.3,106.8 572.5,102.6 572.7,100.1 572.8,100 573,102.9 573.2,108.2 573.3,113.4 573.5,119.6 573.6,122.7 573.8,124 574,122.9 574.1,120.7 574.3,117 574.5,112.3 574.6,109.2 574.8,106.8 575,104.9 575.1,104 575.3,104.6 575.4,107 575.6,110 575.8,114.9 575.9,119.6 576.1,123.1 576.3,124.6 576.4,124.1 576.6,122 576.8,117.1 576.9,111.3 577.1,107.1 577.2,104.2 577.4,101.9 577.6,102.4 577.7,104.2 577.9,108.3 578.1,113.6 578.2,117.5 578.4,122.5 578.6,125.9 578.7,126.3 578.9,123.7 579,118.9 579.2,112.4 579.4,107.6 579.5,103.6 579.7,101.5 579.9,101.3 580,103.7 580.2,106.5 580.4,112.2 580.5,118.2 580.7,121.7 580.8,124.9 581,125 581.2,122.8 581.3,118.9 581.5,114 581.7,107.9 581.8,101.3 582,97.4 582.2,94.9 582.3,96.4 582.5,102.1 582.6,107.5 582.8,117.1 583,127.6 583.1,133 583.3,135.5 583.5,133.3 583.6,127.3 583.8,120.6 584,111.1 584.1,102.7 584.3,98.9 584.4,98.3 584.6,100.2 584.8,104.1 584.9,109.6 585.1,116.7 585.3,122.4 585.4,125.5 585.6,124.7 585.8,120.4 585.9,115.6 586.1,110 586.2,106 586.4,102.7 586.6,101.9 586.7,104.4 586.9,107.5 587.1,111.9 587.2,117.2 587.4,120.9 587.6,123.2 587.7,122.8 587.9,120.5 588,116.9 588.2,113 588.4,108.4 588.5,104.2 588.7,102.2 588.9,103.1 589,105.4 589.2,109.1 589.4,114.4 589.5,119.8 589.7,125.9 589.8,129.5 590,128 590.2,123.4 590.3,115.7 590.5,108.9 590.7,102.8 590.8,98.6 591,97.1 591.2,98.2 591.3,102.2 591.5,109.3 591.6,116.9 591.8,125.6 592,131.5 592.1,133.6 592.3,130.7 592.5,124.3 592.6,112.6 592.8,104.8 593,99 593.1,94.8 593.3,94.6 593.4,96.2 593.6,103.6 593.8,112.7 593.9,122.8 594.1,129.9 594.3,133.2 594.4,131.7 594.6,126.4 594.8,118.9 594.9,110.1 595.1,102.8 595.2,97.8 595.4,95.5 595.6,96.1 595.7,100.5 595.9,106 596.1,111.2 596.2,118.6 596.4,123.9 596.5,126.2 596.7,125.6 596.9,122.1 597,118 597.2,113.5 597.4,105.5 597.5,98 597.7,93.9 597.9,94.6 598,99.8 598.2,107.1 598.3,115.5 598.5,123.5 598.7,128.4 598.8,130 599,129.3 599.2,126.6 599.3,121.3 599.5,111.4 599.7,102 599.8,94.6 600,91.6 600.1,93.8 600.3,100.9 600.5,107.9 600.6,117.6 600.8,126.9 601,131.7 601.1,130.6 601.3,126.7 601.5,120.5 601.6,114 601.8,108.6 601.9,104.4 602.1,101.4 602.3,100 602.4,100.8 602.6,104.5 602.8,109.7 602.9,113.7 603.1,119.6 603.3,125.3 603.4,126.2 603.6,123 603.7,119.2 603.9,114.7 604.1,110 604.2,106.5 604.4,104.8 604.6,104.5 604.7,106.1 604.9,108.7 605.1,111.8 605.2,115.5 605.4,118.1 605.5,119.8 605.7,120.4 605.9,119.5 606,116.8 606.2,113.5 606.4,110.6 606.5,108.7 606.7,106.7 606.9,106 607,106.5 607.2,108.2 607.3,111.2 607.5,114 607.7,116.4 607.8,119 608,120.5 608.2,119.9 608.3,118 608.5,115.3 608.7,111.7 608.8,106.4 609,101.5 609.1,99.1 609.3,98.6 609.5,101 609.6,105.2 609.8,112.3 610,119.8 610.1,125.8 610.3,129.9 610.5,131 610.6,129.4 610.8,124.4 610.9,118 611.1,107.3 611.3,98.5 611.4,89.1 611.6,85.1 611.8,86.3 611.9,92.3 612.1,102.5 612.3,118.9 612.4,138.6 612.6,152.8 612.7,160.3 612.9,153.4 613.1,137.4 613.2,120.7 613.4,103.5 613.6,87.9 613.7,80.9 613.9,81 614.1,90.2 614.2,101.1 614.4,115.7 614.5,129.6 614.7,140.4 614.9,145.1 615,142.4 615.2,135.7 615.4,124.6 615.5,110.3 615.7,100.5 615.9,93.5 616,88.6 616.2,88.5 616.3,92.4 616.5,101 616.7,110.2 616.8,122 617,131.8 617.2,137.7 617.3,142.4 617.5,142.8 617.7,137.7 617.8,129.2 618,117.1 618.1,105.9 618.3,96.4 618.5,92.3 618.6,92 618.8,95.8 619,103.8 619.1,111.7 619.3,122.5 619.5,130.5 619.6,134.7 619.8,135.3 619.9,132.2 620.1,125.5 620.3,116.7 620.4,107.5 620.6,103.6 620.8,101.9 620.9,102.7 621.1,105.5 621.3,108.8 621.4,113 621.6,117.7 621.7,121.5 621.9,123 622.1,122.1 622.2,119.2 622.4,115.1 622.6,111.5 622.7,109.3 622.9,107.7 623.1,107.2 623.2,108 623.4,109.7 623.5,111.3 623.7,113.8 623.9,116.1 624,117.9 624.2,119.1 624.4,119.2 624.5,118.5 624.7,115.7 624.9,112 625,109.1 625.2,106.4 625.3,104.1 625.5,103.6 625.7,105.2 625.8,108.2 626,112.4 626.2,119.2 626.3,124.6 626.5,126.8 626.7,126.5 626.8,124.2 627,119.7 627.1,114.2 627.3,109.1 627.5,105.4 627.6,103.3 627.8,102.8 628,103.9 628.1,106.4 628.3,110 628.5,113.9 628.6,118.4 628.8,121.1 628.9,122 629.1,121 629.3,118.9 629.4,116.1 629.6,113 629.8,109.9 629.9,107 630.1,104.9 630.3,104.1 630.4,104.8 630.6,107.8 630.7,111.4 630.9,115.7 631.1,122.1 631.2,126 631.4,128 631.6,126.5 631.7,122 631.9,113.9 632.1,109.6 632.2,105 632.4,101.8 632.5,100.9 632.7,102.3 632.9,105.8 633,110.7 633.2,116.1 633.4,120.3 633.5,123.6 633.7,126.1 633.9,125.5 634,122.1 634.2,115.8 634.3,109.8 634.5,106.8 634.7,103.7 634.8,102.6 635,104.1 635.2,107.7 635.3,112.9 635.5,116.8 635.6,120.3 635.8,123.3 636,123.8 636.1,121.4 636.3,117.2 636.5,111.4 636.6,105.4 636.8,100.5 637,99.2 637.1,100.6 637.3,104.8 637.4,110.8 637.6,121.4 637.8,128.9 637.9,132.9 638.1,132.8 638.3,129.3 638.4,123 638.6,114.1 638.8,107.2 638.9,101.5 639.1,98.8 639.2,99.1 639.4,103 639.6,107.8 639.7,113.2 639.9,118.5 640.1,124.6 640.2,128 640.4,128 640.6,125.3 640.7,120.5 640.9,112.8 641,106.4 641.2,101.2 641.4,99.3 641.5,100.2 641.7,103.3 641.9,107.6 642,114 642.2,121.5 642.4,129.2 642.5,131.6 642.7,129.8 642.8,124.1 643,115.7 643.2,109.5 643.3,103.5 643.5,98.6 643.7,96.2 643.8,98.5 644,104.3 644.2,111.5 644.3,117.8 644.5,121.8 644.6,123.7 644.8,123 645,120.6 645.1,115.6 645.3,112.1 645.5,108 645.6,105.1 645.8,103.6 646,103.3 646.1,104.7 646.3,107.8 646.4,111.1 646.6,115.4 646.8,119.1 646.9,122.1 647.1,123.4 647.3,123 647.4,120.4 647.6,114.8 647.8,110.3 647.9,106.8 648.1,103.6 648.2,101.2 648.4,100.4 648.6,102.5 648.7,106.4 648.9,110.4 649.1,117.9 649.2,124.4 649.4,129.5 649.6,130.7 649.7,128.4 649.9,123 650,115.7 650.2,108.6 650.4,103.4 650.5,98.7 650.7,96.8 650.9,98.1 651,102 651.2,108 651.4,117.1 651.5,126 651.7,132.5 651.8,133.8 652,130.3 652.2,122.6 652.3,114.5 652.5,105.5 652.7,98.7 652.8,94.4 653,95.4 653.2,99.1 653.3,105.3 653.5,115.4 653.6,122.8 653.8,130.2 654,135.2 654.1,135.1 654.3,130.2 654.5,120.5 654.6,110.8 654.8,101.5 655,95 655.1,92.3 655.3,92.6 655.4,96.3 655.6,103.3 655.8,108.8 655.9,119 656.1,127.7"/>
</g>
<rect x="410.7" y="11.4" width="245.4" height="201.9" fill="none" stroke="#4a4a4a" stroke-width="1"/>
<path d="M492.5 213.3v-2.6 M492.5 11.4v2.6" stroke="#4a4a4a" stroke-width="0.9" fill="none"/>
<path d="M574.3 213.3v-2.6 M574.3 11.4v2.6" stroke="#4a4a4a" stroke-width="0.9" fill="none"/>
<path d="M410.7 112.35h2.6 M656.1 112.35h-2.6" stroke="#4a4a4a" stroke-width="0.9" fill="none"/>
<text x="410.7" y="247.7" font-size="25" text-anchor="middle" class="b">0</text>
<text x="492.5" y="247.7" font-size="25" text-anchor="middle" class="b">500</text>
<text x="574.3" y="247.7" font-size="25" text-anchor="middle" class="b">1000</text>
<text x="656.1" y="247.7" font-size="25" text-anchor="middle" class="b">1500</text>
<text x="401.4" y="21.4" font-size="25" text-anchor="end" class="b">10</text>
<text x="401.4" y="122.35" font-size="25" text-anchor="end" class="b">0</text>
<text x="401.4" y="224.2" font-size="25" text-anchor="end" class="b">-10</text>
<text x="652.8" y="42.7" font-size="25.5" text-anchor="end" class="b">(b)</text>
<rect x="560.8" y="140.8" width="79.9" height="47.1" fill="#fff" stroke="#4a4a4a" stroke-width="0.9"/>
<polygon fill="#000" points="560.8,187.9 561.47,185.45 562.14,183 562.81,180.57 563.49,178.17 564.16,175.8 564.83,173.46 565.5,171.18 566.17,168.94 566.84,166.77 567.51,164.67 568.19,162.64 568.86,160.68 569.53,158.82 570.2,157.04 570.87,155.36 571.54,153.77 572.21,152.29 572.89,150.91 573.56,149.63 574.23,148.47 574.9,147.42 575.57,146.48 576.24,145.65 576.91,144.93 577.59,144.32 578.26,143.83 578.93,143.44 579.6,143.16 580.27,142.99 580.94,142.91 581.61,142.94 582.29,143.06 582.96,143.28 583.63,143.58 584.3,143.97 584.97,144.44 585.64,144.98 586.31,145.59 586.99,146.27 587.66,147.01 588.33,147.8 589,148.65 589.67,149.54 590.34,150.47 591.01,151.44 591.69,152.44 592.36,153.47 593.03,154.52 593.7,155.59 594.37,156.67 595.04,157.75 595.71,158.85 596.39,159.94 597.06,161.04 597.73,162.12 598.4,163.2 599.07,164.27 599.74,165.32 600.41,166.35 601.09,167.37 601.76,168.37 602.43,169.34 603.1,170.29 603.77,171.21 604.44,172.1 605.11,172.97 605.79,173.81 606.46,174.62 607.13,175.39 607.8,176.14 608.47,176.86 609.14,177.55 609.81,178.2 610.49,178.83 611.16,179.43 611.83,180 612.5,180.54 613.17,181.05 613.84,181.53 614.51,181.99 615.19,182.42 615.86,182.82 616.53,183.21 617.2,183.56 617.87,183.9 618.54,184.21 619.21,184.51 619.89,184.78 620.56,185.04 621.23,185.28 621.9,185.5 622.57,185.7 623.24,185.89 623.91,186.07 624.59,186.23 625.26,186.38 625.93,186.52 626.6,186.65 627.27,186.76 627.94,186.87 628.61,186.97 629.29,187.06 629.96,187.14 630.63,187.21 631.3,187.28 631.97,187.34 632.64,187.4 633.31,187.45 633.99,187.5 634.66,187.54 635.33,187.58 636,187.61 636.67,187.64 637.34,187.67 638.01,187.7 638.69,187.72 639.36,187.74 640.03,187.76 640.7,187.77 640.7,187.9 560.8,187.9"/>
<polyline fill="none" stroke="#dd5a1a" stroke-width="2" stroke-linejoin="round" stroke-linecap="round" points="560.8,187.9 561.47,185.45 562.14,183 562.81,180.57 563.49,178.17 564.16,175.8 564.83,173.46 565.5,171.18 566.17,168.94 566.84,166.77 567.51,164.67 568.19,162.64 568.86,160.68 569.53,158.82 570.2,157.04 570.87,155.36 571.54,153.77 572.21,152.29 572.89,150.91 573.56,149.63 574.23,148.47 574.9,147.42 575.57,146.48 576.24,145.65 576.91,144.93 577.59,144.32 578.26,143.83 578.93,143.44 579.6,143.16 580.27,142.99 580.94,142.91 581.61,142.94 582.29,143.06 582.96,143.28 583.63,143.58 584.3,143.97 584.97,144.44 585.64,144.98 586.31,145.59 586.99,146.27 587.66,147.01 588.33,147.8 589,148.65 589.67,149.54 590.34,150.47 591.01,151.44 591.69,152.44 592.36,153.47 593.03,154.52 593.7,155.59 594.37,156.67 595.04,157.75 595.71,158.85 596.39,159.94 597.06,161.04 597.73,162.12 598.4,163.2 599.07,164.27 599.74,165.32 600.41,166.35 601.09,167.37 601.76,168.37 602.43,169.34 603.1,170.29 603.77,171.21 604.44,172.1 605.11,172.97 605.79,173.81 606.46,174.62 607.13,175.39 607.8,176.14 608.47,176.86 609.14,177.55 609.81,178.2 610.49,178.83 611.16,179.43 611.83,180 612.5,180.54 613.17,181.05 613.84,181.53 614.51,181.99 615.19,182.42 615.86,182.82 616.53,183.21 617.2,183.56 617.87,183.9 618.54,184.21 619.21,184.51 619.89,184.78 620.56,185.04 621.23,185.28 621.9,185.5 622.57,185.7 623.24,185.89 623.91,186.07 624.59,186.23 625.26,186.38 625.93,186.52 626.6,186.65 627.27,186.76 627.94,186.87 628.61,186.97 629.29,187.06 629.96,187.14 630.63,187.21 631.3,187.28 631.97,187.34 632.64,187.4 633.31,187.45 633.99,187.5 634.66,187.54 635.33,187.58 636,187.61 636.67,187.64 637.34,187.67 638.01,187.7 638.69,187.72 639.36,187.74 640.03,187.76 640.7,187.77"/>
<path d="M560.8 187.9v-1.6 M560.8 140.8v1.6" stroke="#4a4a4a" stroke-width="0.7" fill="none"/>
<path d="M576.78 187.9v-1.6 M576.78 140.8v1.6" stroke="#4a4a4a" stroke-width="0.7" fill="none"/>
<path d="M592.76 187.9v-1.6 M592.76 140.8v1.6" stroke="#4a4a4a" stroke-width="0.7" fill="none"/>
<path d="M608.74 187.9v-1.6 M608.74 140.8v1.6" stroke="#4a4a4a" stroke-width="0.7" fill="none"/>
<path d="M624.72 187.9v-1.6 M624.72 140.8v1.6" stroke="#4a4a4a" stroke-width="0.7" fill="none"/>
<path d="M640.7 187.9v-1.6 M640.7 140.8v1.6" stroke="#4a4a4a" stroke-width="0.7" fill="none"/>
<text x="560.8" y="213.9" font-size="18.3" text-anchor="middle" class="b">0</text>
<text x="576.78" y="213.9" font-size="18.3" text-anchor="middle" class="b">1</text>
<text x="592.76" y="213.9" font-size="18.3" text-anchor="middle" class="b">2</text>
<text x="608.74" y="213.9" font-size="18.3" text-anchor="middle" class="b">3</text>
<text x="624.72" y="213.9" font-size="18.3" text-anchor="middle" class="b">4</text>
<text x="640.7" y="213.9" font-size="18.3" text-anchor="middle" class="b">5</text>
<text x="551.6" y="195.2" font-size="18.3" text-anchor="end" class="b">0</text>
<text x="551.6" y="171.65" font-size="18.3" text-anchor="end" class="b">0.25</text>
<text x="551.6" y="148.1" font-size="18.3" text-anchor="end" class="b">0.5</text>
<g clip-path="url(#cpc)">
<polyline fill="none" stroke="#88cff0" stroke-width="1.35" stroke-linejoin="round" points="77.2,392.6 77.4,393 77.5,393.9 77.7,395.6 77.9,397.3 78,399 78.2,400.6 78.3,402.1 78.5,402.7 78.7,402.3 78.8,400.4 79,397.2 79.2,393.8 79.3,390.2 79.5,387.1 79.6,386.2 79.8,387 80,392.1 80.1,397.9 80.3,405.9 80.5,411.7 80.6,416 80.8,416.5 81,412.7 81.1,403.8 81.3,393.6 81.4,387 81.6,380.5 81.8,376.2 81.9,376.4 82.1,380.5 82.3,388.3 82.4,398.3 82.6,408.2 82.7,416.6 82.9,424.2 83.1,425.1 83.2,420.6 83.4,412.4 83.6,397.8 83.7,383.9 83.9,375.4 84,370.3 84.2,370.3 84.4,376.9 84.5,388 84.7,398.2 84.9,408.9 85,414.6 85.2,417.6 85.4,416 85.5,411.4 85.7,404.2 85.8,394.3 86,385.7 86.2,380.5 86.3,377.2 86.5,379 86.7,383.4 86.8,389.3 87,397.1 87.1,405 87.3,410.3 87.5,412.9 87.6,412.4 87.8,409.4 88,404.3 88.1,397.4 88.3,392.6 88.5,390.3 88.6,387.9 88.8,387.5 88.9,388.2 89.1,391.4 89.3,396.9 89.4,404.9 89.6,409.6 89.8,415.1 89.9,418.5 90.1,417.8 90.2,413.7 90.4,408.3 90.6,396.3 90.7,386.6 90.9,379.4 91.1,374 91.2,372.4 91.4,374.6 91.5,381 91.7,391.6 91.9,404.9 92,418.8 92.2,426.5 92.4,428.7 92.5,424.8 92.7,416.5 92.9,405.9 93,390.9 93.2,381.5 93.3,374.8 93.5,372.6 93.7,374.7 93.8,381.1 94,390.2 94.2,398.8 94.3,406.4 94.5,411.7 94.6,414.5 94.8,415.7 95,414.3 95.1,408.1 95.3,399.3 95.5,390.6 95.6,382.3 95.8,376.1 96,375.2 96.1,379 96.3,386.4 96.4,394.9 96.6,406.1 96.8,417.1 96.9,423.1 97.1,424.2 97.3,421 97.4,415.3 97.6,407.5 97.7,396.5 97.9,386 98.1,379.1 98.2,377.4 98.4,378.3 98.6,382.6 98.7,389.2 98.9,394.8 99.1,405.5 99.2,413.7 99.4,418.7 99.5,418 99.7,412.7 99.9,404.6 100,397 100.2,391.6 100.4,387.4 100.5,384 100.7,383.3 100.8,384.4 101,388.8 101.2,394.5 101.3,402.1 101.5,408.6 101.7,411.2 101.8,412.1 102,410.2 102.1,406 102.3,402.1 102.5,396.4 102.6,392.1 102.8,388.8 103,386.2 103.1,386.6 103.3,389 103.5,392.9 103.6,397.3 103.8,401.4 103.9,404.3 104.1,405.4 104.3,404.8 104.4,402.7 104.6,399.9 104.8,396.3 104.9,395.1 105.1,393.5 105.2,392.3 105.4,391.8 105.6,392.4 105.7,394.3 105.9,397 106.1,398.7 106.2,400.4 106.4,402.4 106.6,403.2 106.7,403.1 106.9,401.9 107,399 107.2,396.1 107.4,394.2 107.5,392.3 107.7,391 107.9,390.5 108,391.4 108.2,394.4 108.3,397.5 108.5,402.3 108.7,405.5 108.8,406.6 109,405.9 109.2,403.8 109.3,400.5 109.5,395.6 109.7,391.2 109.8,388 110,386.3 110.1,386.7 110.3,389.1 110.5,392.7 110.6,399.2 110.8,407.6 111,414.7 111.1,418.7 111.3,418.7 111.4,415.9 111.6,408.8 111.8,400.7 111.9,391.7 112.1,383.6 112.3,377.9 112.4,375.7 112.6,377.4 112.7,380.7 112.9,389.5 113.1,401.8 113.2,414 113.4,421.2 113.6,424.5 113.7,422.2 113.9,416.5 114.1,406.1 114.2,391.9 114.4,381.5 114.5,370.8 114.7,367.5 114.9,368 115,375.3 115.2,385.3 115.4,396.4 115.5,409.3 115.7,419.3 115.8,425.3 116,423.1 116.2,415.7 116.3,407.8 116.5,397.8 116.7,386.7 116.8,378.9 117,373.9 117.2,372.9 117.3,377.2 117.5,384 117.6,393.7 117.8,405.4 118,412.7 118.1,417.8 118.3,420.4 118.5,417.6 118.6,410.6 118.8,399.8 118.9,388.8 119.1,378 119.3,372 119.4,370.4 119.6,373.2 119.8,379.4 119.9,389.3 120.1,399.3 120.2,409.2 120.4,415 120.6,417.9 120.7,420.1 120.9,417.7 121.1,411.9 121.2,401.6 121.4,389.6 121.6,379.4 121.7,371.7 121.9,369 122,372.5 122.2,382.6 122.4,395.5 122.5,410.5 122.7,426 122.9,433.2 123,431.4 123.2,422.1 123.3,407.5 123.5,394 123.7,382.3 123.8,374.4 124,371 124.2,372.9 124.3,379.6 124.5,388.6 124.7,401.2 124.8,411.1 125,422.4 125.1,429.4 125.3,428.6 125.5,421.4 125.6,407.5 125.8,394.4 126,384.9 126.1,376.4 126.3,371 126.4,370.4 126.6,374.3 126.8,384.3 126.9,393.3 127.1,404.6 127.3,416.3 127.4,425.4 127.6,427.8 127.8,426.3 127.9,418.6 128.1,406.8 128.2,395.3 128.4,385.5 128.6,376.4 128.7,369.8 128.9,368.2 129.1,371 129.2,382.5 129.4,394.8 129.5,406.9 129.7,419.1 129.9,426.9 130,428.3 130.2,420.8 130.4,409.5 130.5,395.4 130.7,384.8 130.8,376 131,369.8 131.2,369 131.3,374.9 131.5,384.2 131.7,396 131.8,409.7 132,415.7 132.2,420.5 132.3,423.5 132.5,421 132.6,413.5 132.8,401.4 133,390.7 133.1,381.8 133.3,376.9 133.5,375 133.6,375.4 133.8,379.1 133.9,385.5 134.1,396.5 134.3,407.9 134.4,413.7 134.6,416.2 134.8,416 134.9,412.9 135.1,406.4 135.3,398.5 135.4,390.8 135.6,384.5 135.7,381.5 135.9,382.3 136.1,386.8 136.2,390.5 136.4,397.2 136.6,403.4 136.7,409 136.9,414.3 137,416 137.2,414.5 137.4,408.2 137.5,400.4 137.7,393.9 137.9,389 138,386.1 138.2,386.2 138.4,387.2 138.5,389.1 138.7,392.7 138.8,398.5 139,403.1 139.2,406.1 139.3,406.7 139.5,405.6 139.7,402.5 139.8,397.8 140,392.8 140.1,387.2 140.3,383.2 140.5,382 140.6,383.4 140.8,387.8 141,394.4 141.1,401.2 141.3,409.4 141.4,416.4 141.6,418.5 141.8,416.7 141.9,410.4 142.1,398.8 142.3,389.8 142.4,381.7 142.6,376.1 142.8,376.3 142.9,380.2 143.1,386.1 143.2,394 143.4,408.6 143.6,419.5 143.7,425.9 143.9,428.5 144.1,425.8 144.2,416.3 144.4,405 144.5,390.8 144.7,380.7 144.9,372.1 145,368.1 145.2,370.5 145.4,378.1 145.5,388.7 145.7,401.4 145.9,409.2 146,414.9 146.2,415.9 146.3,414 146.5,409.3 146.7,402.6 146.8,394.3 147,386.3 147.2,379.8 147.3,376.4 147.5,377.2 147.6,380.7 147.8,386.9 148,392.3 148.1,400.8 148.3,408.3 148.5,415.6 148.6,419.9 148.8,420.8 148.9,415 149.1,404.2 149.3,395.5 149.4,386.3 149.6,379.6 149.8,375.8 149.9,375.2 150.1,378.5 150.3,385.2 150.4,393.9 150.6,406 150.7,417.1 150.9,424.1 151.1,426.2 151.2,423.8 151.4,415.9 151.6,402.6 151.7,392.6 151.9,384.5 152,380.3 152.2,379.2 152.4,381 152.5,384.9 152.7,391.5 152.9,399.8 153,406.1 153.2,411.1 153.4,413.5 153.5,411.5 153.7,406.8 153.8,399.3 154,393.1 154.2,388 154.3,383.9 154.5,382.3 154.7,382.7 154.8,385.3 155,389.6 155.1,396.7 155.3,403.7 155.5,408.5 155.6,412.3 155.8,413.1 156,411.5 156.1,408.3 156.3,403.1 156.5,395.8 156.6,389.3 156.8,384.2 156.9,381.5 157.1,381.1 157.3,383.2 157.4,388.2 157.6,397.5 157.8,406.4 157.9,414.6 158.1,419.6 158.2,420.6 158.4,415.6 158.6,407.2 158.7,397 158.9,389.3 159.1,383.1 159.2,378.6 159.4,378 159.5,381.5 159.7,387.4 159.9,393.8 160,402.5 160.2,409.2 160.4,411.6 160.5,411.9 160.7,409 160.9,403.2 161,398.7 161.2,394.1 161.3,389.1 161.5,387.5 161.7,387 161.8,387.9 162,389 162.2,390.7 162.3,393.9 162.5,399.4 162.6,405.2 162.8,409.1 163,410.3 163.1,408.5 163.3,404.3 163.5,398.2 163.6,394.7 163.8,392 164,391.4 164.1,391.8 164.3,393.3 164.4,394.3 164.6,395 164.8,397.3 164.9,400.5 165.1,403.4 165.3,405.4 165.4,406.2 165.6,405.5 165.7,402.5 165.9,396.9 166.1,391.3 166.2,386.4 166.4,383.1 166.6,381.6 166.7,382.9 166.9,385.6 167,389.9 167.2,396.9 167.4,402.7 167.5,410.1 167.7,414.1 167.9,415.3 168,413.5 168.2,406.1 168.4,398.5 168.5,385.3 168.7,374.4 168.8,368.5 169,369.8 169.2,375.5 169.3,385.7 169.5,396.7 169.7,407.1 169.8,413.9 170,417.6 170.1,416 170.3,411.1 170.5,404.3 170.6,395.1 170.8,386.4 171,379.6 171.1,376 171.3,376.7 171.5,380.2 171.6,388.2 171.8,396.3 171.9,404.9 172.1,414 172.3,418.9 172.4,419.7 172.6,417.3 172.8,410 172.9,399.3 173.1,390.8 173.2,381.7 173.4,377.3 173.6,375.7 173.7,377.9 173.9,383.7 174.1,393 174.2,403.7 174.4,411.5 174.6,416.9 174.7,417.3 174.9,414.2 175,406.5 175.2,397.9 175.4,386.2 175.5,377.5 175.7,371.4 175.9,369.5 176,372.8 176.2,380.8 176.3,392.2 176.5,404.5 176.7,415.2 176.8,420.8 177,421.5 177.2,416.5 177.3,409.5 177.5,401.6 177.6,387.4 177.8,374.9 178,367.9 178.1,366.1 178.3,369.3 178.5,376.1 178.6,389.3 178.8,402.5 179,423 179.1,435.7 179.3,442.8 179.4,438.9 179.6,422.3 179.8,403.8 179.9,384.1 180.1,372.4 180.3,363.5 180.4,359.7 180.6,364.4 180.7,374 180.9,389.9 181.1,409.3 181.2,425.1 181.4,438 181.6,442.1 181.7,435.9 181.9,422.2 182.1,403.8 182.2,389.6 182.4,374.9 182.5,366 182.7,365.6 182.9,373 183,383.1 183.2,394.9 183.4,407.2 183.5,418.1 183.7,426 183.8,429.7 184,424.9 184.2,416 184.3,401 184.5,391.1 184.7,382.3 184.8,377.2 185,375.3 185.2,376.3 185.3,380.9 185.5,387.4 185.6,394.6 185.8,400.9 186,407.1 186.1,411.4 186.3,413.4 186.5,412.5 186.6,408.6 186.8,402 186.9,393.7 187.1,386.8 187.3,382.9 187.4,381.7 187.6,382.5 187.8,385.6 187.9,391.7 188.1,399.5 188.2,403.8 188.4,408.5 188.6,411.4 188.7,411.8 188.9,409.9 189.1,405.5 189.2,399.9 189.4,393 189.6,387.8 189.7,383.3 189.9,380.7 190,380.7 190.2,382.9 190.4,387.6 190.5,394.8 190.7,401.6 190.9,408.6 191,412.7 191.2,414.5 191.3,412.1 191.5,404.4 191.7,395.8 191.8,389.3 192,385.6 192.2,384.1 192.3,385.9 192.5,389.7 192.7,394.8 192.8,400.7 193,406.4 193.1,409.1 193.3,408.6 193.5,405.1 193.6,400.7 193.8,394.7 194,389 194.1,383.5 194.3,380.5 194.4,379.6 194.6,381.4 194.8,387.4 194.9,396.4 195.1,406.2 195.3,413 195.4,415.8 195.6,415.5 195.7,412.1 195.9,406.6 196.1,398.9 196.2,390 196.4,383.6 196.6,378.9 196.7,377.1 196.9,378.1 197.1,382.8 197.2,389.8 197.4,400.7 197.5,410.7 197.7,419.5 197.9,425.5 198,423.7 198.2,415.5 198.4,402.9 198.5,390.3 198.7,380.7 198.8,372.6 199,371.1 199.2,375 199.3,382.8 199.5,393.2 199.7,402.6 199.8,413.7 200,427.8 200.2,431.9 200.3,428.1 200.5,418.2 200.6,404.7 200.8,394.4 201,382.7 201.1,377.5 201.3,374.7 201.5,374.9 201.6,379.1 201.8,386.1 201.9,396.8 202.1,405.9 202.3,415.2 202.4,420.7 202.6,420.5 202.8,414.3 202.9,403 203.1,392.9 203.3,387.6 203.4,383.8 203.6,383.3 203.7,385.3 203.9,389.7 204.1,395.3 204.2,400.7 204.4,405.9 204.6,408.9 204.7,408.4 204.9,406.1 205,402 205.2,398.8 205.4,394.6 205.5,392 205.7,389.9 205.9,389.2 206,389.5 206.2,390.5 206.3,392.1 206.5,394.7 206.7,397 206.8,403 207,406.5 207.2,408.3 207.3,408.4 207.5,406.3 207.7,403.1 207.8,398.5 208,393.9 208.1,389.4 208.3,386.6 208.5,385.1 208.6,385.9 208.8,388.8 209,394.2 209.1,401.5 209.3,408.3 209.4,414.7 209.6,417.4 209.8,416.2 209.9,411.1 210.1,400.5 210.3,392.5 210.4,386 210.6,381.9 210.8,380.3 210.9,382.2 211.1,386.2 211.2,391.3 211.4,398.9 211.6,406.3 211.7,411.1 211.9,414.9 212.1,415.8 212.2,411.9 212.4,406.5 212.5,397.9 212.7,388.2 212.9,381.4 213,376.9 213.2,375.5 213.4,377 213.5,382.2 213.7,390.7 213.8,398.9 214,411.8 214.2,423 214.3,425.8 214.5,422 214.7,414.6 214.8,402.8 215,393.9 215.2,382.9 215.3,377.2 215.5,374.6 215.6,375.2 215.8,379.3 216,386.1 216.1,394.3 216.3,404.3 216.5,415.2 216.6,422.8 216.8,425 216.9,420.8 217.1,412.8 217.3,402.6 217.4,392.5 217.6,381.3 217.8,374.6 217.9,369.9 218.1,369.7 218.3,377.3 218.4,389.5 218.6,399.1 218.7,412.5 218.9,424.1 219.1,429.4 219.2,429.4 219.4,423.7 219.6,415.4 219.7,404.7 219.9,388.7 220,377.7 220.2,371.9 220.4,368.9 220.5,370.1 220.7,375.5 220.9,386.3 221,397.3 221.2,408.5 221.4,420.3 221.5,428.3 221.7,432.4 221.8,432 222,424.3 222.2,410.2 222.3,395.2 222.5,384.2 222.7,375 222.8,370.8 223,371.1 223.1,378.6 223.3,388.9 223.5,400.3 223.6,412.8 223.8,420.9 224,423.9 224.1,421.8 224.3,415.8 224.4,407.5 224.6,394.9 224.8,384.6 224.9,379.1 225.1,375.9 225.3,376.5 225.4,380.4 225.6,386.5 225.8,394.1 225.9,399.7 226.1,405.7 226.2,409.4 226.4,410.6 226.6,408.1 226.7,404 226.9,399 227.1,393.3 227.2,388.6 227.4,386.2 227.5,385.7 227.7,386.7 227.9,389.5 228,393.7 228.2,398.1 228.4,403.6 228.5,406.1 228.7,408.3 228.9,408.5 229,406.1 229.2,400.2 229.3,395.5 229.5,390.8 229.7,386.5 229.8,384 230,383.9 230.2,385.6 230.3,390 230.5,394.7 230.6,402.1 230.8,412.3 231,419.3 231.1,420.5 231.3,417 231.5,410.3 231.6,401.5 231.8,393.8 232,387.5 232.1,381.6 232.3,379.4 232.4,380.2 232.6,383.4 232.8,388.2 232.9,397.1 233.1,404.1 233.3,412.1 233.4,415.3 233.6,416.1 233.7,414.3 233.9,409 234.1,402.6 234.2,392.2 234.4,385.6 234.6,380.6 234.7,377.5 234.9,378.6 235,382.7 235.2,387.3 235.4,396.1 235.5,404.4 235.7,412.3 235.9,417.5 236,419.5 236.2,417.2 236.4,410.2 236.5,400 236.7,390 236.8,384.7 237,381.7 237.2,381.5 237.3,384.4 237.5,389.1 237.7,394.4 237.8,402.2 238,408.3 238.1,413.4 238.3,415 238.5,412.2 238.6,407.1 238.8,401.1 239,392.8 239.1,386.7 239.3,382.2 239.5,379.3 239.6,379 239.8,381.9 239.9,386 240.1,394.2 240.3,403.3 240.4,414.3 240.6,422.9 240.8,426 240.9,423 241.1,416.4 241.2,409 241.4,396.3 241.6,387 241.7,377.6 241.9,370.5 242.1,369.4 242.2,372.6 242.4,378.7 242.5,387.9 242.7,399.2 242.9,410.3 243,421.8 243.2,427 243.4,427.8 243.5,423.2 243.7,412.7 243.9,399.6 244,387.1 244.2,376.6 244.3,369.6 244.5,368.5 244.7,374.2 244.8,383.5 245,395.1 245.2,408.1 245.3,414.8 245.5,420 245.6,420 245.8,415.2 246,408.3 246.1,399.8 246.3,392.3 246.5,384.4 246.6,378.7 246.8,377.2 247,379.4 247.1,384.2 247.3,395.2 247.4,404.8 247.6,412.3 247.8,417.4 247.9,418.5 248.1,415.6 248.3,408.6 248.4,401.4 248.6,392.8 248.7,387.8 248.9,384.2 249.1,382.2 249.2,383.2 249.4,386.3 249.6,391.6 249.7,396.5 249.9,401.7 250.1,408.8 250.2,413.9 250.4,415.1 250.5,411.2 250.7,404.7 250.9,397.3 251,391.9 251.2,385.1 251.4,381.5 251.5,380.3 251.7,382.3 251.8,386 252,394.9 252.2,401.9 252.3,408.7 252.5,415.1 252.7,418.7 252.8,418.8 253,415.1 253.1,405.4 253.3,394.1 253.5,386.1 253.6,376.8 253.8,372 254,371.4 254.1,375.6 254.3,384.5 254.5,399.5 254.6,413 254.8,427.2 254.9,432.9 255.1,431.5 255.3,423.9 255.4,411.3 255.6,396 255.8,387.5 255.9,381.2 256.1,374.9 256.2,372.7 256.4,374.7 256.6,381.4 256.7,390.1 256.9,402.5 257.1,412.4 257.2,418.9 257.4,420.8 257.6,417.4 257.7,410.4 257.9,401.2 258,393.7 258.2,388.3 258.4,384.6 258.5,383.5 258.7,384.5 258.9,388.1 259,394.1 259.2,401.4 259.3,405.5 259.5,407.5 259.7,406.6 259.8,404.1 260,400.4 260.2,395.9 260.3,392.1 260.5,390.1 260.7,389.7 260.8,390.6 261,392.6 261.1,395.2 261.3,398.8 261.5,404.7 261.6,408.7 261.8,409.5 262,408.3 262.1,404.6 262.3,399.7 262.4,395.5 262.6,391.7 262.8,389.4 262.9,388.6 263.1,389.3 263.3,391 263.4,393.8 263.6,396.8 263.7,403.2 263.9,408.8 264.1,411.5 264.2,411.9 264.4,409.5 264.6,405.3 264.7,397.8 264.9,392.9 265.1,389.1 265.2,386.5 265.4,385.5 265.5,386.8 265.7,389.7 265.9,394.6 266,397.8 266.2,401.3 266.4,406.3 266.5,409.8 266.7,412.4 266.8,412.4 267,408.4 267.2,401 267.3,391.8 267.5,384.4 267.7,379.9 267.8,379.4 268,383 268.2,389.4 268.3,396.2 268.5,405 268.6,412.9 268.8,418.6 269,419 269.1,416.5 269.3,411.3 269.5,403 269.6,395.1 269.8,389.7 269.9,385.4 270.1,383.9 270.3,383.8 270.4,386.2 270.6,389.2 270.8,394.4 270.9,399.6 271.1,405 271.2,408.3 271.4,410.5 271.6,409.6 271.7,406.1 271.9,401.6 272.1,395.3 272.2,390.7 272.4,387.7 272.6,386.4 272.7,387.2 272.9,389.8 273,394.1 273.2,399.4 273.4,406 273.5,408.1 273.7,407.6 273.9,405.2 274,402.1 274.2,397.8 274.3,394.1 274.5,391.7 274.7,389.4 274.8,388.1 275,388.2 275.2,389.8 275.3,394.5 275.5,400.4 275.7,405.7 275.8,408.9 276,410.7 276.1,408.5 276.3,403.7 276.5,397.7 276.6,393.4 276.8,390.5 277,388 277.1,387.7 277.3,388.8 277.4,391.2 277.6,393.5 277.8,398.4 277.9,403.9 278.1,407.9 278.3,408.4 278.4,406.6 278.6,402.6 278.8,396.9 278.9,393 279.1,390.9 279.2,389.8 279.4,390.3 279.6,392.3 279.7,394.5 279.9,397.2 280.1,401.1 280.2,404.1 280.4,405.4 280.5,405.3 280.7,403.4 280.9,400.4 281,396.4 281.2,393.6 281.4,392.1 281.5,391.9 281.7,392.5 281.8,393.6 282,394.6 282.2,396.1 282.3,398.4 282.5,400.6 282.7,402.5 282.8,403.5 283,403.2 283.2,402 283.3,399.5 283.5,396.5 283.6,393.6 283.8,390.8 284,389.7 284.1,390 284.3,391.4 284.5,393.9 284.6,396.7 284.8,401.4 284.9,404.8 285.1,408.5 285.3,409.3 285.4,407.4 285.6,403 285.8,397.3 285.9,392.9 286.1,390.3 286.3,388.5 286.4,388.3 286.6,389.6 286.7,391.7 286.9,395.4 287.1,400 287.2,403.8 287.4,406.5 287.6,407.5 287.7,407.6 287.9,405.9 288,401.5 288.2,398 288.4,394.1 288.5,390.2 288.7,388.6 288.9,388.9 289,390.9 289.2,393.5 289.3,396.4 289.5,401.1 289.7,404.6 289.8,405.8 290,405.4 290.2,404 290.3,401.3 290.5,396.1 290.7,393.7 290.8,391.2 291,389.9 291.1,389.5 291.3,390.3 291.5,392.3 291.6,395.6 291.8,401.1 292,406.2 292.1,409.6 292.3,410.2 292.4,407.1 292.6,401.1 292.8,394.5 292.9,390.4 293.1,386.4 293.3,383.7 293.4,384.1 293.6,388.1 293.8,393.1 293.9,399.8 294.1,407.3 294.2,412.3 294.4,413.5 294.6,411.9 294.7,407.3 294.9,402 295.1,394.8 295.2,389.6 295.4,385.7 295.5,384.2 295.7,383.7 295.9,384.9 296,387.8 296.2,391.8 296.4,397.3 296.5,401.8 296.7,405.6 296.9,407.8 297,408.8 297.2,407.3 297.3,403.1 297.5,398 297.7,392.9 297.8,388.5 298,385.6 298.2,384.5 298.3,385.8 298.5,390.9 298.6,395 298.8,402.4 299,410.8 299.1,415.2 299.3,416.4 299.5,414.7 299.6,408.7 299.8,403.3 299.9,395.5 300.1,390.5 300.3,386.6 300.4,384.9 300.6,384.7 300.8,386.6 300.9,390.6 301.1,395.1 301.3,404 301.4,411.1 301.6,415.7 301.7,415.8 301.9,412.8 302.1,407.7 302.2,401 302.4,395.6 302.6,391 302.7,389.2 302.9,387.9 303,387.4 303.2,388.5 303.4,390.8 303.5,396 303.7,401.7 303.9,406 304,409.5 304.2,411.1 304.4,409.8 304.5,404.9 304.7,398.5 304.8,394.6 305,391.9 305.2,390.5 305.3,390.7 305.5,390.4 305.7,391.5 305.8,394.3 306,397.6 306.1,402.1 306.3,405.9 306.5,408.1 306.6,408.3 306.8,406.2 307,403.1 307.1,398.9 307.3,392.8 307.5,388.9 307.6,385 307.8,382.3 307.9,382.4 308.1,384.3 308.3,389.4 308.4,395.5 308.6,402.6 308.8,408.9 308.9,412.3 309.1,413 309.2,410.7 309.4,403.9 309.6,396.9 309.7,390.2 309.9,384.6 310.1,381.3 310.2,380.8 310.4,382.4 310.5,387.6 310.7,392.3 310.9,398.7 311,408.1 311.2,415.4 311.4,417.8 311.5,416.2 311.7,411.1 311.9,400.8 312,391.6 312.2,385 312.3,380 312.5,378.6 312.7,380.3 312.8,387 313,393.8 313.2,405.4 313.3,414.3 313.5,419.6 313.6,422.5 313.8,420.9 314,414.3 314.1,402.7 314.3,393.2 314.5,385.9 314.6,381.2 314.8,378.8 315,380 315.1,382.7 315.3,389.1 315.4,396.5 315.6,404.5 315.8,407.7 315.9,409 316.1,407.9 316.3,406.1 316.4,403.3 316.6,399.3 316.7,393.8 316.9,389.4 317.1,386.2 317.2,385.5 317.4,386.4 317.6,389.3 317.7,393.7 317.9,400.4 318,408.7 318.2,413.4 318.4,415.6 318.5,414.4 318.7,409.6 318.9,401.5 319,394.4 319.2,388.5 319.4,384.2 319.5,380.8 319.7,381 319.8,383.4 320,387.7 320.2,396.1 320.3,403.7 320.5,409.5 320.7,413.6 320.8,415.4 321,414.6 321.1,410.5 321.3,402.7 321.5,395.3 321.6,388.1 321.8,383.1"/>
<polyline fill="none" stroke="#1a6cb8" stroke-width="0.64" stroke-linejoin="round" points="77.2,392.6 77.4,393 77.5,393.9 77.7,395.6 77.9,397.3 78,399 78.2,400.6 78.3,402.1 78.5,402.7 78.7,402.3 78.8,400.4 79,397.2 79.2,393.8 79.3,390.2 79.5,387.1 79.6,386.2 79.8,387 80,392.1 80.1,397.9 80.3,405.9 80.5,411.7 80.6,416 80.8,416.5 81,412.7 81.1,403.8 81.3,393.6 81.4,387 81.6,380.5 81.8,376.2 81.9,376.4 82.1,380.5 82.3,388.3 82.4,398.3 82.6,408.2 82.7,416.6 82.9,424.2 83.1,425.1 83.2,420.6 83.4,412.4 83.6,397.8 83.7,383.9 83.9,375.4 84,370.3 84.2,370.3 84.4,376.9 84.5,388 84.7,398.2 84.9,408.9 85,414.6 85.2,417.6 85.4,416 85.5,411.4 85.7,404.2 85.8,394.3 86,385.7 86.2,380.5 86.3,377.2 86.5,379 86.7,383.4 86.8,389.3 87,397.1 87.1,405 87.3,410.3 87.5,412.9 87.6,412.4 87.8,409.4 88,404.3 88.1,397.4 88.3,392.6 88.5,390.3 88.6,387.9 88.8,387.5 88.9,388.2 89.1,391.4 89.3,396.9 89.4,404.9 89.6,409.6 89.8,415.1 89.9,418.5 90.1,417.8 90.2,413.7 90.4,408.3 90.6,396.3 90.7,386.6 90.9,379.4 91.1,374 91.2,372.4 91.4,374.6 91.5,381 91.7,391.6 91.9,404.9 92,418.8 92.2,426.5 92.4,428.7 92.5,424.8 92.7,416.5 92.9,405.9 93,390.9 93.2,381.5 93.3,374.8 93.5,372.6 93.7,374.7 93.8,381.1 94,390.2 94.2,398.8 94.3,406.4 94.5,411.7 94.6,414.5 94.8,415.7 95,414.3 95.1,408.1 95.3,399.3 95.5,390.6 95.6,382.3 95.8,376.1 96,375.2 96.1,379 96.3,386.4 96.4,394.9 96.6,406.1 96.8,417.1 96.9,423.1 97.1,424.2 97.3,421 97.4,415.3 97.6,407.5 97.7,396.5 97.9,386 98.1,379.1 98.2,377.4 98.4,378.3 98.6,382.6 98.7,389.2 98.9,394.8 99.1,405.5 99.2,413.7 99.4,418.7 99.5,418 99.7,412.7 99.9,404.6 100,397 100.2,391.6 100.4,387.4 100.5,384 100.7,383.3 100.8,384.4 101,388.8 101.2,394.5 101.3,402.1 101.5,408.6 101.7,411.2 101.8,412.1 102,410.2 102.1,406 102.3,402.1 102.5,396.4 102.6,392.1 102.8,388.8 103,386.2 103.1,386.6 103.3,389 103.5,392.9 103.6,397.3 103.8,401.4 103.9,404.3 104.1,405.4 104.3,404.8 104.4,402.7 104.6,399.9 104.8,396.3 104.9,395.1 105.1,393.5 105.2,392.3 105.4,391.8 105.6,392.4 105.7,394.3 105.9,397 106.1,398.7 106.2,400.4 106.4,402.4 106.6,403.2 106.7,403.1 106.9,401.9 107,399 107.2,396.1 107.4,394.2 107.5,392.3 107.7,391 107.9,390.5 108,391.4 108.2,394.4 108.3,397.5 108.5,402.3 108.7,405.5 108.8,406.6 109,405.9 109.2,403.8 109.3,400.5 109.5,395.6 109.7,391.2 109.8,388 110,386.3 110.1,386.7 110.3,389.1 110.5,392.7 110.6,399.2 110.8,407.6 111,414.7 111.1,418.7 111.3,418.7 111.4,415.9 111.6,408.8 111.8,400.7 111.9,391.7 112.1,383.6 112.3,377.9 112.4,375.7 112.6,377.4 112.7,380.7 112.9,389.5 113.1,401.8 113.2,414 113.4,421.2 113.6,424.5 113.7,422.2 113.9,416.5 114.1,406.1 114.2,391.9 114.4,381.5 114.5,370.8 114.7,367.5 114.9,368 115,375.3 115.2,385.3 115.4,396.4 115.5,409.3 115.7,419.3 115.8,425.3 116,423.1 116.2,415.7 116.3,407.8 116.5,397.8 116.7,386.7 116.8,378.9 117,373.9 117.2,372.9 117.3,377.2 117.5,384 117.6,393.7 117.8,405.4 118,412.7 118.1,417.8 118.3,420.4 118.5,417.6 118.6,410.6 118.8,399.8 118.9,388.8 119.1,378 119.3,372 119.4,370.4 119.6,373.2 119.8,379.4 119.9,389.3 120.1,399.3 120.2,409.2 120.4,415 120.6,417.9 120.7,420.1 120.9,417.7 121.1,411.9 121.2,401.6 121.4,389.6 121.6,379.4 121.7,371.7 121.9,369 122,372.5 122.2,382.6 122.4,395.5 122.5,410.5 122.7,426 122.9,433.2 123,431.4 123.2,422.1 123.3,407.5 123.5,394 123.7,382.3 123.8,374.4 124,371 124.2,372.9 124.3,379.6 124.5,388.6 124.7,401.2 124.8,411.1 125,422.4 125.1,429.4 125.3,428.6 125.5,421.4 125.6,407.5 125.8,394.4 126,384.9 126.1,376.4 126.3,371 126.4,370.4 126.6,374.3 126.8,384.3 126.9,393.3 127.1,404.6 127.3,416.3 127.4,425.4 127.6,427.8 127.8,426.3 127.9,418.6 128.1,406.8 128.2,395.3 128.4,385.5 128.6,376.4 128.7,369.8 128.9,368.2 129.1,371 129.2,382.5 129.4,394.8 129.5,406.9 129.7,419.1 129.9,426.9 130,428.3 130.2,420.8 130.4,409.5 130.5,395.4 130.7,384.8 130.8,376 131,369.8 131.2,369 131.3,374.9 131.5,384.2 131.7,396 131.8,409.7 132,415.7 132.2,420.5 132.3,423.5 132.5,421 132.6,413.5 132.8,401.4 133,390.7 133.1,381.8 133.3,376.9 133.5,375 133.6,375.4 133.8,379.1 133.9,385.5 134.1,396.5 134.3,407.9 134.4,413.7 134.6,416.2 134.8,416 134.9,412.9 135.1,406.4 135.3,398.5 135.4,390.8 135.6,384.5 135.7,381.5 135.9,382.3 136.1,386.8 136.2,390.5 136.4,397.2 136.6,403.4 136.7,409 136.9,414.3 137,416 137.2,414.5 137.4,408.2 137.5,400.4 137.7,393.9 137.9,389 138,386.1 138.2,386.2 138.4,387.2 138.5,389.1 138.7,392.7 138.8,398.5 139,403.1 139.2,406.1 139.3,406.7 139.5,405.6 139.7,402.5 139.8,397.8 140,392.8 140.1,387.2 140.3,383.2 140.5,382 140.6,383.4 140.8,387.8 141,394.4 141.1,401.2 141.3,409.4 141.4,416.4 141.6,418.5 141.8,416.7 141.9,410.4 142.1,398.8 142.3,389.8 142.4,381.7 142.6,376.1 142.8,376.3 142.9,380.2 143.1,386.1 143.2,394 143.4,408.6 143.6,419.5 143.7,425.9 143.9,428.5 144.1,425.8 144.2,416.3 144.4,405 144.5,390.8 144.7,380.7 144.9,372.1 145,368.1 145.2,370.5 145.4,378.1 145.5,388.7 145.7,401.4 145.9,409.2 146,414.9 146.2,415.9 146.3,414 146.5,409.3 146.7,402.6 146.8,394.3 147,386.3 147.2,379.8 147.3,376.4 147.5,377.2 147.6,380.7 147.8,386.9 148,392.3 148.1,400.8 148.3,408.3 148.5,415.6 148.6,419.9 148.8,420.8 148.9,415 149.1,404.2 149.3,395.5 149.4,386.3 149.6,379.6 149.8,375.8 149.9,375.2 150.1,378.5 150.3,385.2 150.4,393.9 150.6,406 150.7,417.1 150.9,424.1 151.1,426.2 151.2,423.8 151.4,415.9 151.6,402.6 151.7,392.6 151.9,384.5 152,380.3 152.2,379.2 152.4,381 152.5,384.9 152.7,391.5 152.9,399.8 153,406.1 153.2,411.1 153.4,413.5 153.5,411.5 153.7,406.8 153.8,399.3 154,393.1 154.2,388 154.3,383.9 154.5,382.3 154.7,382.7 154.8,385.3 155,389.6 155.1,396.7 155.3,403.7 155.5,408.5 155.6,412.3 155.8,413.1 156,411.5 156.1,408.3 156.3,403.1 156.5,395.8 156.6,389.3 156.8,384.2 156.9,381.5 157.1,381.1 157.3,383.2 157.4,388.2 157.6,397.5 157.8,406.4 157.9,414.6 158.1,419.6 158.2,420.6 158.4,415.6 158.6,407.2 158.7,397 158.9,389.3 159.1,383.1 159.2,378.6 159.4,378 159.5,381.5 159.7,387.4 159.9,393.8 160,402.5 160.2,409.2 160.4,411.6 160.5,411.9 160.7,409 160.9,403.2 161,398.7 161.2,394.1 161.3,389.1 161.5,387.5 161.7,387 161.8,387.9 162,389 162.2,390.7 162.3,393.9 162.5,399.4 162.6,405.2 162.8,409.1 163,410.3 163.1,408.5 163.3,404.3 163.5,398.2 163.6,394.7 163.8,392 164,391.4 164.1,391.8 164.3,393.3 164.4,394.3 164.6,395 164.8,397.3 164.9,400.5 165.1,403.4 165.3,405.4 165.4,406.2 165.6,405.5 165.7,402.5 165.9,396.9 166.1,391.3 166.2,386.4 166.4,383.1 166.6,381.6 166.7,382.9 166.9,385.6 167,389.9 167.2,396.9 167.4,402.7 167.5,410.1 167.7,414.1 167.9,415.3 168,413.5 168.2,406.1 168.4,398.5 168.5,385.3 168.7,374.4 168.8,368.5 169,369.8 169.2,375.5 169.3,385.7 169.5,396.7 169.7,407.1 169.8,413.9 170,417.6 170.1,416 170.3,411.1 170.5,404.3 170.6,395.1 170.8,386.4 171,379.6 171.1,376 171.3,376.7 171.5,380.2 171.6,388.2 171.8,396.3 171.9,404.9 172.1,414 172.3,418.9 172.4,419.7 172.6,417.3 172.8,410 172.9,399.3 173.1,390.8 173.2,381.7 173.4,377.3 173.6,375.7 173.7,377.9 173.9,383.7 174.1,393 174.2,403.7 174.4,411.5 174.6,416.9 174.7,417.3 174.9,414.2 175,406.5 175.2,397.9 175.4,386.2 175.5,377.5 175.7,371.4 175.9,369.5 176,372.8 176.2,380.8 176.3,392.2 176.5,404.5 176.7,415.2 176.8,420.8 177,421.5 177.2,416.5 177.3,409.5 177.5,401.6 177.6,387.4 177.8,374.9 178,367.9 178.1,366.1 178.3,369.3 178.5,376.1 178.6,389.3 178.8,402.5 179,423 179.1,435.7 179.3,442.8 179.4,438.9 179.6,422.3 179.8,403.8 179.9,384.1 180.1,372.4 180.3,363.5 180.4,359.7 180.6,364.4 180.7,374 180.9,389.9 181.1,409.3 181.2,425.1 181.4,438 181.6,442.1 181.7,435.9 181.9,422.2 182.1,403.8 182.2,389.6 182.4,374.9 182.5,366 182.7,365.6 182.9,373 183,383.1 183.2,394.9 183.4,407.2 183.5,418.1 183.7,426 183.8,429.7 184,424.9 184.2,416 184.3,401 184.5,391.1 184.7,382.3 184.8,377.2 185,375.3 185.2,376.3 185.3,380.9 185.5,387.4 185.6,394.6 185.8,400.9 186,407.1 186.1,411.4 186.3,413.4 186.5,412.5 186.6,408.6 186.8,402 186.9,393.7 187.1,386.8 187.3,382.9 187.4,381.7 187.6,382.5 187.8,385.6 187.9,391.7 188.1,399.5 188.2,403.8 188.4,408.5 188.6,411.4 188.7,411.8 188.9,409.9 189.1,405.5 189.2,399.9 189.4,393 189.6,387.8 189.7,383.3 189.9,380.7 190,380.7 190.2,382.9 190.4,387.6 190.5,394.8 190.7,401.6 190.9,408.6 191,412.7 191.2,414.5 191.3,412.1 191.5,404.4 191.7,395.8 191.8,389.3 192,385.6 192.2,384.1 192.3,385.9 192.5,389.7 192.7,394.8 192.8,400.7 193,406.4 193.1,409.1 193.3,408.6 193.5,405.1 193.6,400.7 193.8,394.7 194,389 194.1,383.5 194.3,380.5 194.4,379.6 194.6,381.4 194.8,387.4 194.9,396.4 195.1,406.2 195.3,413 195.4,415.8 195.6,415.5 195.7,412.1 195.9,406.6 196.1,398.9 196.2,390 196.4,383.6 196.6,378.9 196.7,377.1 196.9,378.1 197.1,382.8 197.2,389.8 197.4,400.7 197.5,410.7 197.7,419.5 197.9,425.5 198,423.7 198.2,415.5 198.4,402.9 198.5,390.3 198.7,380.7 198.8,372.6 199,371.1 199.2,375 199.3,382.8 199.5,393.2 199.7,402.6 199.8,413.7 200,427.8 200.2,431.9 200.3,428.1 200.5,418.2 200.6,404.7 200.8,394.4 201,382.7 201.1,377.5 201.3,374.7 201.5,374.9 201.6,379.1 201.8,386.1 201.9,396.8 202.1,405.9 202.3,415.2 202.4,420.7 202.6,420.5 202.8,414.3 202.9,403 203.1,392.9 203.3,387.6 203.4,383.8 203.6,383.3 203.7,385.3 203.9,389.7 204.1,395.3 204.2,400.7 204.4,405.9 204.6,408.9 204.7,408.4 204.9,406.1 205,402 205.2,398.8 205.4,394.6 205.5,392 205.7,389.9 205.9,389.2 206,389.5 206.2,390.5 206.3,392.1 206.5,394.7 206.7,397 206.8,403 207,406.5 207.2,408.3 207.3,408.4 207.5,406.3 207.7,403.1 207.8,398.5 208,393.9 208.1,389.4 208.3,386.6 208.5,385.1 208.6,385.9 208.8,388.8 209,394.2 209.1,401.5 209.3,408.3 209.4,414.7 209.6,417.4 209.8,416.2 209.9,411.1 210.1,400.5 210.3,392.5 210.4,386 210.6,381.9 210.8,380.3 210.9,382.2 211.1,386.2 211.2,391.3 211.4,398.9 211.6,406.3 211.7,411.1 211.9,414.9 212.1,415.8 212.2,411.9 212.4,406.5 212.5,397.9 212.7,388.2 212.9,381.4 213,376.9 213.2,375.5 213.4,377 213.5,382.2 213.7,390.7 213.8,398.9 214,411.8 214.2,423 214.3,425.8 214.5,422 214.7,414.6 214.8,402.8 215,393.9 215.2,382.9 215.3,377.2 215.5,374.6 215.6,375.2 215.8,379.3 216,386.1 216.1,394.3 216.3,404.3 216.5,415.2 216.6,422.8 216.8,425 216.9,420.8 217.1,412.8 217.3,402.6 217.4,392.5 217.6,381.3 217.8,374.6 217.9,369.9 218.1,369.7 218.3,377.3 218.4,389.5 218.6,399.1 218.7,412.5 218.9,424.1 219.1,429.4 219.2,429.4 219.4,423.7 219.6,415.4 219.7,404.7 219.9,388.7 220,377.7 220.2,371.9 220.4,368.9 220.5,370.1 220.7,375.5 220.9,386.3 221,397.3 221.2,408.5 221.4,420.3 221.5,428.3 221.7,432.4 221.8,432 222,424.3 222.2,410.2 222.3,395.2 222.5,384.2 222.7,375 222.8,370.8 223,371.1 223.1,378.6 223.3,388.9 223.5,400.3 223.6,412.8 223.8,420.9 224,423.9 224.1,421.8 224.3,415.8 224.4,407.5 224.6,394.9 224.8,384.6 224.9,379.1 225.1,375.9 225.3,376.5 225.4,380.4 225.6,386.5 225.8,394.1 225.9,399.7 226.1,405.7 226.2,409.4 226.4,410.6 226.6,408.1 226.7,404 226.9,399 227.1,393.3 227.2,388.6 227.4,386.2 227.5,385.7 227.7,386.7 227.9,389.5 228,393.7 228.2,398.1 228.4,403.6 228.5,406.1 228.7,408.3 228.9,408.5 229,406.1 229.2,400.2 229.3,395.5 229.5,390.8 229.7,386.5 229.8,384 230,383.9 230.2,385.6 230.3,390 230.5,394.7 230.6,402.1 230.8,412.3 231,419.3 231.1,420.5 231.3,417 231.5,410.3 231.6,401.5 231.8,393.8 232,387.5 232.1,381.6 232.3,379.4 232.4,380.2 232.6,383.4 232.8,388.2 232.9,397.1 233.1,404.1 233.3,412.1 233.4,415.3 233.6,416.1 233.7,414.3 233.9,409 234.1,402.6 234.2,392.2 234.4,385.6 234.6,380.6 234.7,377.5 234.9,378.6 235,382.7 235.2,387.3 235.4,396.1 235.5,404.4 235.7,412.3 235.9,417.5 236,419.5 236.2,417.2 236.4,410.2 236.5,400 236.7,390 236.8,384.7 237,381.7 237.2,381.5 237.3,384.4 237.5,389.1 237.7,394.4 237.8,402.2 238,408.3 238.1,413.4 238.3,415 238.5,412.2 238.6,407.1 238.8,401.1 239,392.8 239.1,386.7 239.3,382.2 239.5,379.3 239.6,379 239.8,381.9 239.9,386 240.1,394.2 240.3,403.3 240.4,414.3 240.6,422.9 240.8,426 240.9,423 241.1,416.4 241.2,409 241.4,396.3 241.6,387 241.7,377.6 241.9,370.5 242.1,369.4 242.2,372.6 242.4,378.7 242.5,387.9 242.7,399.2 242.9,410.3 243,421.8 243.2,427 243.4,427.8 243.5,423.2 243.7,412.7 243.9,399.6 244,387.1 244.2,376.6 244.3,369.6 244.5,368.5 244.7,374.2 244.8,383.5 245,395.1 245.2,408.1 245.3,414.8 245.5,420 245.6,420 245.8,415.2 246,408.3 246.1,399.8 246.3,392.3 246.5,384.4 246.6,378.7 246.8,377.2 247,379.4 247.1,384.2 247.3,395.2 247.4,404.8 247.6,412.3 247.8,417.4 247.9,418.5 248.1,415.6 248.3,408.6 248.4,401.4 248.6,392.8 248.7,387.8 248.9,384.2 249.1,382.2 249.2,383.2 249.4,386.3 249.6,391.6 249.7,396.5 249.9,401.7 250.1,408.8 250.2,413.9 250.4,415.1 250.5,411.2 250.7,404.7 250.9,397.3 251,391.9 251.2,385.1 251.4,381.5 251.5,380.3 251.7,382.3 251.8,386 252,394.9 252.2,401.9 252.3,408.7 252.5,415.1 252.7,418.7 252.8,418.8 253,415.1 253.1,405.4 253.3,394.1 253.5,386.1 253.6,376.8 253.8,372 254,371.4 254.1,375.6 254.3,384.5 254.5,399.5 254.6,413 254.8,427.2 254.9,432.9 255.1,431.5 255.3,423.9 255.4,411.3 255.6,396 255.8,387.5 255.9,381.2 256.1,374.9 256.2,372.7 256.4,374.7 256.6,381.4 256.7,390.1 256.9,402.5 257.1,412.4 257.2,418.9 257.4,420.8 257.6,417.4 257.7,410.4 257.9,401.2 258,393.7 258.2,388.3 258.4,384.6 258.5,383.5 258.7,384.5 258.9,388.1 259,394.1 259.2,401.4 259.3,405.5 259.5,407.5 259.7,406.6 259.8,404.1 260,400.4 260.2,395.9 260.3,392.1 260.5,390.1 260.7,389.7 260.8,390.6 261,392.6 261.1,395.2 261.3,398.8 261.5,404.7 261.6,408.7 261.8,409.5 262,408.3 262.1,404.6 262.3,399.7 262.4,395.5 262.6,391.7 262.8,389.4 262.9,388.6 263.1,389.3 263.3,391 263.4,393.8 263.6,396.8 263.7,403.2 263.9,408.8 264.1,411.5 264.2,411.9 264.4,409.5 264.6,405.3 264.7,397.8 264.9,392.9 265.1,389.1 265.2,386.5 265.4,385.5 265.5,386.8 265.7,389.7 265.9,394.6 266,397.8 266.2,401.3 266.4,406.3 266.5,409.8 266.7,412.4 266.8,412.4 267,408.4 267.2,401 267.3,391.8 267.5,384.4 267.7,379.9 267.8,379.4 268,383 268.2,389.4 268.3,396.2 268.5,405 268.6,412.9 268.8,418.6 269,419 269.1,416.5 269.3,411.3 269.5,403 269.6,395.1 269.8,389.7 269.9,385.4 270.1,383.9 270.3,383.8 270.4,386.2 270.6,389.2 270.8,394.4 270.9,399.6 271.1,405 271.2,408.3 271.4,410.5 271.6,409.6 271.7,406.1 271.9,401.6 272.1,395.3 272.2,390.7 272.4,387.7 272.6,386.4 272.7,387.2 272.9,389.8 273,394.1 273.2,399.4 273.4,406 273.5,408.1 273.7,407.6 273.9,405.2 274,402.1 274.2,397.8 274.3,394.1 274.5,391.7 274.7,389.4 274.8,388.1 275,388.2 275.2,389.8 275.3,394.5 275.5,400.4 275.7,405.7 275.8,408.9 276,410.7 276.1,408.5 276.3,403.7 276.5,397.7 276.6,393.4 276.8,390.5 277,388 277.1,387.7 277.3,388.8 277.4,391.2 277.6,393.5 277.8,398.4 277.9,403.9 278.1,407.9 278.3,408.4 278.4,406.6 278.6,402.6 278.8,396.9 278.9,393 279.1,390.9 279.2,389.8 279.4,390.3 279.6,392.3 279.7,394.5 279.9,397.2 280.1,401.1 280.2,404.1 280.4,405.4 280.5,405.3 280.7,403.4 280.9,400.4 281,396.4 281.2,393.6 281.4,392.1 281.5,391.9 281.7,392.5 281.8,393.6 282,394.6 282.2,396.1 282.3,398.4 282.5,400.6 282.7,402.5 282.8,403.5 283,403.2 283.2,402 283.3,399.5 283.5,396.5 283.6,393.6 283.8,390.8 284,389.7 284.1,390 284.3,391.4 284.5,393.9 284.6,396.7 284.8,401.4 284.9,404.8 285.1,408.5 285.3,409.3 285.4,407.4 285.6,403 285.8,397.3 285.9,392.9 286.1,390.3 286.3,388.5 286.4,388.3 286.6,389.6 286.7,391.7 286.9,395.4 287.1,400 287.2,403.8 287.4,406.5 287.6,407.5 287.7,407.6 287.9,405.9 288,401.5 288.2,398 288.4,394.1 288.5,390.2 288.7,388.6 288.9,388.9 289,390.9 289.2,393.5 289.3,396.4 289.5,401.1 289.7,404.6 289.8,405.8 290,405.4 290.2,404 290.3,401.3 290.5,396.1 290.7,393.7 290.8,391.2 291,389.9 291.1,389.5 291.3,390.3 291.5,392.3 291.6,395.6 291.8,401.1 292,406.2 292.1,409.6 292.3,410.2 292.4,407.1 292.6,401.1 292.8,394.5 292.9,390.4 293.1,386.4 293.3,383.7 293.4,384.1 293.6,388.1 293.8,393.1 293.9,399.8 294.1,407.3 294.2,412.3 294.4,413.5 294.6,411.9 294.7,407.3 294.9,402 295.1,394.8 295.2,389.6 295.4,385.7 295.5,384.2 295.7,383.7 295.9,384.9 296,387.8 296.2,391.8 296.4,397.3 296.5,401.8 296.7,405.6 296.9,407.8 297,408.8 297.2,407.3 297.3,403.1 297.5,398 297.7,392.9 297.8,388.5 298,385.6 298.2,384.5 298.3,385.8 298.5,390.9 298.6,395 298.8,402.4 299,410.8 299.1,415.2 299.3,416.4 299.5,414.7 299.6,408.7 299.8,403.3 299.9,395.5 300.1,390.5 300.3,386.6 300.4,384.9 300.6,384.7 300.8,386.6 300.9,390.6 301.1,395.1 301.3,404 301.4,411.1 301.6,415.7 301.7,415.8 301.9,412.8 302.1,407.7 302.2,401 302.4,395.6 302.6,391 302.7,389.2 302.9,387.9 303,387.4 303.2,388.5 303.4,390.8 303.5,396 303.7,401.7 303.9,406 304,409.5 304.2,411.1 304.4,409.8 304.5,404.9 304.7,398.5 304.8,394.6 305,391.9 305.2,390.5 305.3,390.7 305.5,390.4 305.7,391.5 305.8,394.3 306,397.6 306.1,402.1 306.3,405.9 306.5,408.1 306.6,408.3 306.8,406.2 307,403.1 307.1,398.9 307.3,392.8 307.5,388.9 307.6,385 307.8,382.3 307.9,382.4 308.1,384.3 308.3,389.4 308.4,395.5 308.6,402.6 308.8,408.9 308.9,412.3 309.1,413 309.2,410.7 309.4,403.9 309.6,396.9 309.7,390.2 309.9,384.6 310.1,381.3 310.2,380.8 310.4,382.4 310.5,387.6 310.7,392.3 310.9,398.7 311,408.1 311.2,415.4 311.4,417.8 311.5,416.2 311.7,411.1 311.9,400.8 312,391.6 312.2,385 312.3,380 312.5,378.6 312.7,380.3 312.8,387 313,393.8 313.2,405.4 313.3,414.3 313.5,419.6 313.6,422.5 313.8,420.9 314,414.3 314.1,402.7 314.3,393.2 314.5,385.9 314.6,381.2 314.8,378.8 315,380 315.1,382.7 315.3,389.1 315.4,396.5 315.6,404.5 315.8,407.7 315.9,409 316.1,407.9 316.3,406.1 316.4,403.3 316.6,399.3 316.7,393.8 316.9,389.4 317.1,386.2 317.2,385.5 317.4,386.4 317.6,389.3 317.7,393.7 317.9,400.4 318,408.7 318.2,413.4 318.4,415.6 318.5,414.4 318.7,409.6 318.9,401.5 319,394.4 319.2,388.5 319.4,384.2 319.5,380.8 319.7,381 319.8,383.4 320,387.7 320.2,396.1 320.3,403.7 320.5,409.5 320.7,413.6 320.8,415.4 321,414.6 321.1,410.5 321.3,402.7 321.5,395.3 321.6,388.1 321.8,383.1"/>
<polygon fill="#000" stroke="#000" stroke-width="0.8" stroke-linejoin="round" points="77.2,390.3 78.3,391.6 80,375.6 81.2,374.9 82.2,365.5 83.7,365.8 85,360.8 86.1,372.9 87.8,377.8 88.7,384.9 90.2,371.1 91.6,367.5 92.8,362.3 94.2,373.2 95.6,366.6 97.1,370.7 97.9,369 99.5,381.1 100.8,378.4 101.9,385.3 103,380.5 104.9,390.8 105.8,386 107.1,391.2 108.8,379.9 109.9,384.3 111.1,376.2 112.6,371.4 113.4,364.1 115.2,362.1 116.3,360.9 117.4,370.2 119,365.5 120.5,368 121.4,361.2 122.9,367.4 124,365.4 125.6,367.3 126.9,361.2 127.9,365.8 129.6,359.6 130.8,367 132.1,360.1 133.5,371.5 134.6,368.8 136.1,378.2 137.5,376.2 138.3,382.1 140,375.5 141.1,379.9 142.4,370.4 143.5,372.1 145.2,362.2 146.2,367.3 147.9,370.5 148.8,377.1 150.3,368.9 151.5,375.1 152.9,372.9 154,381.1 155.3,372 156.9,375.7 158.2,369.2 159.4,375.4 161,376.4 161.8,383.9 163.5,380.8 164.4,392 166.2,379.2 167.3,373.4 168.6,359.7 170.1,368.4 171.3,369.5 172.6,374.3 173.4,368.8 175,370.7 176.1,363 177.4,366.2 178.8,356.1 180.5,354.5 181.3,352.8 182.7,361.5 184.2,362.2 185.7,377.3 187.1,373.5 188.2,379.2 189.2,374.3 190.7,378.2 192.1,376.9 193,383.8 194.7,371.3 195.8,376.2 197.3,366.4 198.6,369.1 199.9,364.1 201.1,370.5 202.5,371.5 203.5,380.3 205,380.2 206.1,387.5 207.6,379.8 209,382.3 210.4,372.3 211.5,375.2 212.6,370.1 214.2,369.9 215.3,365.7 216.9,372.4 218,362.8 219.3,367.6 221,359.5 221.9,367.6 223.2,365 224.5,372 225.9,369.4 227,380.5 228.6,375.6 230.1,379.6 231.2,374.2 232.6,373.2 234,369.3 235.3,375.7 236.5,371.6 237.9,379.1 239.2,371 240.1,374.4 241.6,360.8 242.8,368.9 244,360 245.5,368.3 246.7,367.5 248.2,380.2 249.5,376.8 250.4,383.8 252,370.9 253.2,369.2 254.8,363 255.7,367.4 257,366.5 258.5,379.1 259.8,378.1 261.2,389.4 262.3,384 263.6,387.4 265.3,378.8 266.2,382.8 267.4,374.5 268.8,373.6 270.2,377 271.4,384.8 272.9,380.9 274.5,387.1 275.2,379.2 276.7,382.7 278.2,382.1 279.7,387.7 281,385.7 281.8,390.1 283.3,382.1 284.9,387.1 285.6,381.7 287.3,386.5 288.3,380.6 290,387.9 291.4,383.2 292.5,385 293.4,376.2 294.8,380.6 296.3,377.5 297.9,380.2 298.8,377 300.4,381.1 301.5,373.4 302.7,383.5 304.3,380.2 305.4,386.7 306.7,376.3 308.3,379.3 309.4,371.2 310.9,379.3 312,372.9 313.1,375.9 314.6,373.7 316.2,381.8 317.3,379 318.8,380.4 319.5,374 321,378.1 321.8,373 321.8,386.6 321,387 319.5,387 318.8,391.4 317.3,393.3 316.2,388.5 314.6,382 313.1,382.3 312,386 310.9,385.4 309.4,386.9 308.3,384.7 306.7,386.7 305.4,395.6 304.3,392.5 302.7,391.9 301.5,386.1 300.4,389.3 298.8,386.7 297.9,391.5 296.3,390.2 294.8,386 293.4,390.2 292.5,395.2 291.4,395 290,395.2 288.3,396 287.3,394.8 285.6,392.3 284.9,396.2 283.3,394.9 281.8,395.4 281,394.8 279.7,394.8 278.2,391.5 276.7,393.8 275.2,394.9 274.5,391.7 272.9,392.9 271.4,391.2 270.2,389.8 268.8,383.5 267.4,385.8 266.2,389.4 265.3,394.1 263.6,392 262.3,392.5 261.2,396.1 259.8,394.1 258.5,388.6 257,381.9 255.7,377.3 254.8,374.7 253.2,379.3 252,384.9 250.4,386.7 249.5,386.9 248.2,385.8 246.7,385.5 245.5,375.7 244,372.2 242.8,376.2 241.6,376.4 240.1,386.4 239.2,387.9 237.9,390.9 236.5,387.4 235.3,379.8 234,380.6 232.6,386.1 231.2,390 230.1,388.3 228.6,392.9 227,392.3 225.9,385.4 224.5,376.5 223.2,375.3 221.9,372.8 221,374.1 219.3,376 218,375.7 216.9,376.7 215.3,382.5 214.2,378.7 212.6,383.7 211.5,383.9 210.4,390.4 209,387.1 207.6,394.5 206.1,392.4 205,391 203.5,387.2 202.5,385.9 201.1,376.4 199.9,371.8 198.6,376.6 197.3,383.5 195.8,387.5 194.7,384.3 193,395.5 192.1,392.9 190.7,382.7 189.2,384.8 188.2,386.9 187.1,389.3 185.7,380.5 184.2,378 182.7,367.9 181.3,366 180.5,366.7 178.8,369.2 177.4,372.2 176.1,372.4 175,375.6 173.4,383.5 172.6,379.7 171.3,382.8 170.1,379.8 168.6,372.2 167.3,381 166.2,387.1 164.4,396.4 163.5,395.2 161.8,392.3 161,387.1 159.4,381.4 158.2,379.7 156.9,386.4 155.3,387.9 154,386.8 152.9,388.5 151.5,382.6 150.3,378.6 148.8,382.3 147.9,385 146.2,373.6 145.2,374.2 143.5,379.7 142.4,383.8 141.1,384.2 140,388.4 138.3,391.1 137.5,387.5 136.1,387.2 134.6,378.7 133.5,379.7 132.1,372.8 130.8,373.8 129.6,371.9 127.9,376.3 126.9,376.7 125.6,377.9 124,375.8 122.9,379 121.4,376.6 120.5,374.1 119,373.9 117.4,376.2 116.3,372.9 115.2,371.3 113.4,380.8 112.6,379.1 111.1,383.6 109.9,389.4 108.8,395 107.1,396 105.8,395.6 104.9,396.2 103,391.7 101.9,392.8 100.8,388.9 99.5,390 97.9,383.4 97.1,381.7 95.6,383.8 94.2,376.8 92.8,377.4 91.6,372.3 90.2,386.6 88.7,391.7 87.8,393.2 86.1,378.2 85,375.3 83.7,374.6 82.2,382.5 81.2,387.3 80,392.3 78.3,395.5 77.2,394.9"/>
<polyline fill="none" stroke="#3b9be0" stroke-width="0.55" stroke-opacity="0.25" stroke-linejoin="round" points="77.2,392.6 77.4,393 77.5,393.9 77.7,395.6 77.9,397.3 78,399 78.2,400.6 78.3,402.1 78.5,402.7 78.7,402.3 78.8,400.4 79,397.2 79.2,393.8 79.3,390.2 79.5,387.1 79.6,386.2 79.8,387 80,392.1 80.1,397.9 80.3,405.9 80.5,411.7 80.6,416 80.8,416.5 81,412.7 81.1,403.8 81.3,393.6 81.4,387 81.6,380.5 81.8,376.2 81.9,376.4 82.1,380.5 82.3,388.3 82.4,398.3 82.6,408.2 82.7,416.6 82.9,424.2 83.1,425.1 83.2,420.6 83.4,412.4 83.6,397.8 83.7,383.9 83.9,375.4 84,370.3 84.2,370.3 84.4,376.9 84.5,388 84.7,398.2 84.9,408.9 85,414.6 85.2,417.6 85.4,416 85.5,411.4 85.7,404.2 85.8,394.3 86,385.7 86.2,380.5 86.3,377.2 86.5,379 86.7,383.4 86.8,389.3 87,397.1 87.1,405 87.3,410.3 87.5,412.9 87.6,412.4 87.8,409.4 88,404.3 88.1,397.4 88.3,392.6 88.5,390.3 88.6,387.9 88.8,387.5 88.9,388.2 89.1,391.4 89.3,396.9 89.4,404.9 89.6,409.6 89.8,415.1 89.9,418.5 90.1,417.8 90.2,413.7 90.4,408.3 90.6,396.3 90.7,386.6 90.9,379.4 91.1,374 91.2,372.4 91.4,374.6 91.5,381 91.7,391.6 91.9,404.9 92,418.8 92.2,426.5 92.4,428.7 92.5,424.8 92.7,416.5 92.9,405.9 93,390.9 93.2,381.5 93.3,374.8 93.5,372.6 93.7,374.7 93.8,381.1 94,390.2 94.2,398.8 94.3,406.4 94.5,411.7 94.6,414.5 94.8,415.7 95,414.3 95.1,408.1 95.3,399.3 95.5,390.6 95.6,382.3 95.8,376.1 96,375.2 96.1,379 96.3,386.4 96.4,394.9 96.6,406.1 96.8,417.1 96.9,423.1 97.1,424.2 97.3,421 97.4,415.3 97.6,407.5 97.7,396.5 97.9,386 98.1,379.1 98.2,377.4 98.4,378.3 98.6,382.6 98.7,389.2 98.9,394.8 99.1,405.5 99.2,413.7 99.4,418.7 99.5,418 99.7,412.7 99.9,404.6 100,397 100.2,391.6 100.4,387.4 100.5,384 100.7,383.3 100.8,384.4 101,388.8 101.2,394.5 101.3,402.1 101.5,408.6 101.7,411.2 101.8,412.1 102,410.2 102.1,406 102.3,402.1 102.5,396.4 102.6,392.1 102.8,388.8 103,386.2 103.1,386.6 103.3,389 103.5,392.9 103.6,397.3 103.8,401.4 103.9,404.3 104.1,405.4 104.3,404.8 104.4,402.7 104.6,399.9 104.8,396.3 104.9,395.1 105.1,393.5 105.2,392.3 105.4,391.8 105.6,392.4 105.7,394.3 105.9,397 106.1,398.7 106.2,400.4 106.4,402.4 106.6,403.2 106.7,403.1 106.9,401.9 107,399 107.2,396.1 107.4,394.2 107.5,392.3 107.7,391 107.9,390.5 108,391.4 108.2,394.4 108.3,397.5 108.5,402.3 108.7,405.5 108.8,406.6 109,405.9 109.2,403.8 109.3,400.5 109.5,395.6 109.7,391.2 109.8,388 110,386.3 110.1,386.7 110.3,389.1 110.5,392.7 110.6,399.2 110.8,407.6 111,414.7 111.1,418.7 111.3,418.7 111.4,415.9 111.6,408.8 111.8,400.7 111.9,391.7 112.1,383.6 112.3,377.9 112.4,375.7 112.6,377.4 112.7,380.7 112.9,389.5 113.1,401.8 113.2,414 113.4,421.2 113.6,424.5 113.7,422.2 113.9,416.5 114.1,406.1 114.2,391.9 114.4,381.5 114.5,370.8 114.7,367.5 114.9,368 115,375.3 115.2,385.3 115.4,396.4 115.5,409.3 115.7,419.3 115.8,425.3 116,423.1 116.2,415.7 116.3,407.8 116.5,397.8 116.7,386.7 116.8,378.9 117,373.9 117.2,372.9 117.3,377.2 117.5,384 117.6,393.7 117.8,405.4 118,412.7 118.1,417.8 118.3,420.4 118.5,417.6 118.6,410.6 118.8,399.8 118.9,388.8 119.1,378 119.3,372 119.4,370.4 119.6,373.2 119.8,379.4 119.9,389.3 120.1,399.3 120.2,409.2 120.4,415 120.6,417.9 120.7,420.1 120.9,417.7 121.1,411.9 121.2,401.6 121.4,389.6 121.6,379.4 121.7,371.7 121.9,369 122,372.5 122.2,382.6 122.4,395.5 122.5,410.5 122.7,426 122.9,433.2 123,431.4 123.2,422.1 123.3,407.5 123.5,394 123.7,382.3 123.8,374.4 124,371 124.2,372.9 124.3,379.6 124.5,388.6 124.7,401.2 124.8,411.1 125,422.4 125.1,429.4 125.3,428.6 125.5,421.4 125.6,407.5 125.8,394.4 126,384.9 126.1,376.4 126.3,371 126.4,370.4 126.6,374.3 126.8,384.3 126.9,393.3 127.1,404.6 127.3,416.3 127.4,425.4 127.6,427.8 127.8,426.3 127.9,418.6 128.1,406.8 128.2,395.3 128.4,385.5 128.6,376.4 128.7,369.8 128.9,368.2 129.1,371 129.2,382.5 129.4,394.8 129.5,406.9 129.7,419.1 129.9,426.9 130,428.3 130.2,420.8 130.4,409.5 130.5,395.4 130.7,384.8 130.8,376 131,369.8 131.2,369 131.3,374.9 131.5,384.2 131.7,396 131.8,409.7 132,415.7 132.2,420.5 132.3,423.5 132.5,421 132.6,413.5 132.8,401.4 133,390.7 133.1,381.8 133.3,376.9 133.5,375 133.6,375.4 133.8,379.1 133.9,385.5 134.1,396.5 134.3,407.9 134.4,413.7 134.6,416.2 134.8,416 134.9,412.9 135.1,406.4 135.3,398.5 135.4,390.8 135.6,384.5 135.7,381.5 135.9,382.3 136.1,386.8 136.2,390.5 136.4,397.2 136.6,403.4 136.7,409 136.9,414.3 137,416 137.2,414.5 137.4,408.2 137.5,400.4 137.7,393.9 137.9,389 138,386.1 138.2,386.2 138.4,387.2 138.5,389.1 138.7,392.7 138.8,398.5 139,403.1 139.2,406.1 139.3,406.7 139.5,405.6 139.7,402.5 139.8,397.8 140,392.8 140.1,387.2 140.3,383.2 140.5,382 140.6,383.4 140.8,387.8 141,394.4 141.1,401.2 141.3,409.4 141.4,416.4 141.6,418.5 141.8,416.7 141.9,410.4 142.1,398.8 142.3,389.8 142.4,381.7 142.6,376.1 142.8,376.3 142.9,380.2 143.1,386.1 143.2,394 143.4,408.6 143.6,419.5 143.7,425.9 143.9,428.5 144.1,425.8 144.2,416.3 144.4,405 144.5,390.8 144.7,380.7 144.9,372.1 145,368.1 145.2,370.5 145.4,378.1 145.5,388.7 145.7,401.4 145.9,409.2 146,414.9 146.2,415.9 146.3,414 146.5,409.3 146.7,402.6 146.8,394.3 147,386.3 147.2,379.8 147.3,376.4 147.5,377.2 147.6,380.7 147.8,386.9 148,392.3 148.1,400.8 148.3,408.3 148.5,415.6 148.6,419.9 148.8,420.8 148.9,415 149.1,404.2 149.3,395.5 149.4,386.3 149.6,379.6 149.8,375.8 149.9,375.2 150.1,378.5 150.3,385.2 150.4,393.9 150.6,406 150.7,417.1 150.9,424.1 151.1,426.2 151.2,423.8 151.4,415.9 151.6,402.6 151.7,392.6 151.9,384.5 152,380.3 152.2,379.2 152.4,381 152.5,384.9 152.7,391.5 152.9,399.8 153,406.1 153.2,411.1 153.4,413.5 153.5,411.5 153.7,406.8 153.8,399.3 154,393.1 154.2,388 154.3,383.9 154.5,382.3 154.7,382.7 154.8,385.3 155,389.6 155.1,396.7 155.3,403.7 155.5,408.5 155.6,412.3 155.8,413.1 156,411.5 156.1,408.3 156.3,403.1 156.5,395.8 156.6,389.3 156.8,384.2 156.9,381.5 157.1,381.1 157.3,383.2 157.4,388.2 157.6,397.5 157.8,406.4 157.9,414.6 158.1,419.6 158.2,420.6 158.4,415.6 158.6,407.2 158.7,397 158.9,389.3 159.1,383.1 159.2,378.6 159.4,378 159.5,381.5 159.7,387.4 159.9,393.8 160,402.5 160.2,409.2 160.4,411.6 160.5,411.9 160.7,409 160.9,403.2 161,398.7 161.2,394.1 161.3,389.1 161.5,387.5 161.7,387 161.8,387.9 162,389 162.2,390.7 162.3,393.9 162.5,399.4 162.6,405.2 162.8,409.1 163,410.3 163.1,408.5 163.3,404.3 163.5,398.2 163.6,394.7 163.8,392 164,391.4 164.1,391.8 164.3,393.3 164.4,394.3 164.6,395 164.8,397.3 164.9,400.5 165.1,403.4 165.3,405.4 165.4,406.2 165.6,405.5 165.7,402.5 165.9,396.9 166.1,391.3 166.2,386.4 166.4,383.1 166.6,381.6 166.7,382.9 166.9,385.6 167,389.9 167.2,396.9 167.4,402.7 167.5,410.1 167.7,414.1 167.9,415.3 168,413.5 168.2,406.1 168.4,398.5 168.5,385.3 168.7,374.4 168.8,368.5 169,369.8 169.2,375.5 169.3,385.7 169.5,396.7 169.7,407.1 169.8,413.9 170,417.6 170.1,416 170.3,411.1 170.5,404.3 170.6,395.1 170.8,386.4 171,379.6 171.1,376 171.3,376.7 171.5,380.2 171.6,388.2 171.8,396.3 171.9,404.9 172.1,414 172.3,418.9 172.4,419.7 172.6,417.3 172.8,410 172.9,399.3 173.1,390.8 173.2,381.7 173.4,377.3 173.6,375.7 173.7,377.9 173.9,383.7 174.1,393 174.2,403.7 174.4,411.5 174.6,416.9 174.7,417.3 174.9,414.2 175,406.5 175.2,397.9 175.4,386.2 175.5,377.5 175.7,371.4 175.9,369.5 176,372.8 176.2,380.8 176.3,392.2 176.5,404.5 176.7,415.2 176.8,420.8 177,421.5 177.2,416.5 177.3,409.5 177.5,401.6 177.6,387.4 177.8,374.9 178,367.9 178.1,366.1 178.3,369.3 178.5,376.1 178.6,389.3 178.8,402.5 179,423 179.1,435.7 179.3,442.8 179.4,438.9 179.6,422.3 179.8,403.8 179.9,384.1 180.1,372.4 180.3,363.5 180.4,359.7 180.6,364.4 180.7,374 180.9,389.9 181.1,409.3 181.2,425.1 181.4,438 181.6,442.1 181.7,435.9 181.9,422.2 182.1,403.8 182.2,389.6 182.4,374.9 182.5,366 182.7,365.6 182.9,373 183,383.1 183.2,394.9 183.4,407.2 183.5,418.1 183.7,426 183.8,429.7 184,424.9 184.2,416 184.3,401 184.5,391.1 184.7,382.3 184.8,377.2 185,375.3 185.2,376.3 185.3,380.9 185.5,387.4 185.6,394.6 185.8,400.9 186,407.1 186.1,411.4 186.3,413.4 186.5,412.5 186.6,408.6 186.8,402 186.9,393.7 187.1,386.8 187.3,382.9 187.4,381.7 187.6,382.5 187.8,385.6 187.9,391.7 188.1,399.5 188.2,403.8 188.4,408.5 188.6,411.4 188.7,411.8 188.9,409.9 189.1,405.5 189.2,399.9 189.4,393 189.6,387.8 189.7,383.3 189.9,380.7 190,380.7 190.2,382.9 190.4,387.6 190.5,394.8 190.7,401.6 190.9,408.6 191,412.7 191.2,414.5 191.3,412.1 191.5,404.4 191.7,395.8 191.8,389.3 192,385.6 192.2,384.1 192.3,385.9 192.5,389.7 192.7,394.8 192.8,400.7 193,406.4 193.1,409.1 193.3,408.6 193.5,405.1 193.6,400.7 193.8,394.7 194,389 194.1,383.5 194.3,380.5 194.4,379.6 194.6,381.4 194.8,387.4 194.9,396.4 195.1,406.2 195.3,413 195.4,415.8 195.6,415.5 195.7,412.1 195.9,406.6 196.1,398.9 196.2,390 196.4,383.6 196.6,378.9 196.7,377.1 196.9,378.1 197.1,382.8 197.2,389.8 197.4,400.7 197.5,410.7 197.7,419.5 197.9,425.5 198,423.7 198.2,415.5 198.4,402.9 198.5,390.3 198.7,380.7 198.8,372.6 199,371.1 199.2,375 199.3,382.8 199.5,393.2 199.7,402.6 199.8,413.7 200,427.8 200.2,431.9 200.3,428.1 200.5,418.2 200.6,404.7 200.8,394.4 201,382.7 201.1,377.5 201.3,374.7 201.5,374.9 201.6,379.1 201.8,386.1 201.9,396.8 202.1,405.9 202.3,415.2 202.4,420.7 202.6,420.5 202.8,414.3 202.9,403 203.1,392.9 203.3,387.6 203.4,383.8 203.6,383.3 203.7,385.3 203.9,389.7 204.1,395.3 204.2,400.7 204.4,405.9 204.6,408.9 204.7,408.4 204.9,406.1 205,402 205.2,398.8 205.4,394.6 205.5,392 205.7,389.9 205.9,389.2 206,389.5 206.2,390.5 206.3,392.1 206.5,394.7 206.7,397 206.8,403 207,406.5 207.2,408.3 207.3,408.4 207.5,406.3 207.7,403.1 207.8,398.5 208,393.9 208.1,389.4 208.3,386.6 208.5,385.1 208.6,385.9 208.8,388.8 209,394.2 209.1,401.5 209.3,408.3 209.4,414.7 209.6,417.4 209.8,416.2 209.9,411.1 210.1,400.5 210.3,392.5 210.4,386 210.6,381.9 210.8,380.3 210.9,382.2 211.1,386.2 211.2,391.3 211.4,398.9 211.6,406.3 211.7,411.1 211.9,414.9 212.1,415.8 212.2,411.9 212.4,406.5 212.5,397.9 212.7,388.2 212.9,381.4 213,376.9 213.2,375.5 213.4,377 213.5,382.2 213.7,390.7 213.8,398.9 214,411.8 214.2,423 214.3,425.8 214.5,422 214.7,414.6 214.8,402.8 215,393.9 215.2,382.9 215.3,377.2 215.5,374.6 215.6,375.2 215.8,379.3 216,386.1 216.1,394.3 216.3,404.3 216.5,415.2 216.6,422.8 216.8,425 216.9,420.8 217.1,412.8 217.3,402.6 217.4,392.5 217.6,381.3 217.8,374.6 217.9,369.9 218.1,369.7 218.3,377.3 218.4,389.5 218.6,399.1 218.7,412.5 218.9,424.1 219.1,429.4 219.2,429.4 219.4,423.7 219.6,415.4 219.7,404.7 219.9,388.7 220,377.7 220.2,371.9 220.4,368.9 220.5,370.1 220.7,375.5 220.9,386.3 221,397.3 221.2,408.5 221.4,420.3 221.5,428.3 221.7,432.4 221.8,432 222,424.3 222.2,410.2 222.3,395.2 222.5,384.2 222.7,375 222.8,370.8 223,371.1 223.1,378.6 223.3,388.9 223.5,400.3 223.6,412.8 223.8,420.9 224,423.9 224.1,421.8 224.3,415.8 224.4,407.5 224.6,394.9 224.8,384.6 224.9,379.1 225.1,375.9 225.3,376.5 225.4,380.4 225.6,386.5 225.8,394.1 225.9,399.7 226.1,405.7 226.2,409.4 226.4,410.6 226.6,408.1 226.7,404 226.9,399 227.1,393.3 227.2,388.6 227.4,386.2 227.5,385.7 227.7,386.7 227.9,389.5 228,393.7 228.2,398.1 228.4,403.6 228.5,406.1 228.7,408.3 228.9,408.5 229,406.1 229.2,400.2 229.3,395.5 229.5,390.8 229.7,386.5 229.8,384 230,383.9 230.2,385.6 230.3,390 230.5,394.7 230.6,402.1 230.8,412.3 231,419.3 231.1,420.5 231.3,417 231.5,410.3 231.6,401.5 231.8,393.8 232,387.5 232.1,381.6 232.3,379.4 232.4,380.2 232.6,383.4 232.8,388.2 232.9,397.1 233.1,404.1 233.3,412.1 233.4,415.3 233.6,416.1 233.7,414.3 233.9,409 234.1,402.6 234.2,392.2 234.4,385.6 234.6,380.6 234.7,377.5 234.9,378.6 235,382.7 235.2,387.3 235.4,396.1 235.5,404.4 235.7,412.3 235.9,417.5 236,419.5 236.2,417.2 236.4,410.2 236.5,400 236.7,390 236.8,384.7 237,381.7 237.2,381.5 237.3,384.4 237.5,389.1 237.7,394.4 237.8,402.2 238,408.3 238.1,413.4 238.3,415 238.5,412.2 238.6,407.1 238.8,401.1 239,392.8 239.1,386.7 239.3,382.2 239.5,379.3 239.6,379 239.8,381.9 239.9,386 240.1,394.2 240.3,403.3 240.4,414.3 240.6,422.9 240.8,426 240.9,423 241.1,416.4 241.2,409 241.4,396.3 241.6,387 241.7,377.6 241.9,370.5 242.1,369.4 242.2,372.6 242.4,378.7 242.5,387.9 242.7,399.2 242.9,410.3 243,421.8 243.2,427 243.4,427.8 243.5,423.2 243.7,412.7 243.9,399.6 244,387.1 244.2,376.6 244.3,369.6 244.5,368.5 244.7,374.2 244.8,383.5 245,395.1 245.2,408.1 245.3,414.8 245.5,420 245.6,420 245.8,415.2 246,408.3 246.1,399.8 246.3,392.3 246.5,384.4 246.6,378.7 246.8,377.2 247,379.4 247.1,384.2 247.3,395.2 247.4,404.8 247.6,412.3 247.8,417.4 247.9,418.5 248.1,415.6 248.3,408.6 248.4,401.4 248.6,392.8 248.7,387.8 248.9,384.2 249.1,382.2 249.2,383.2 249.4,386.3 249.6,391.6 249.7,396.5 249.9,401.7 250.1,408.8 250.2,413.9 250.4,415.1 250.5,411.2 250.7,404.7 250.9,397.3 251,391.9 251.2,385.1 251.4,381.5 251.5,380.3 251.7,382.3 251.8,386 252,394.9 252.2,401.9 252.3,408.7 252.5,415.1 252.7,418.7 252.8,418.8 253,415.1 253.1,405.4 253.3,394.1 253.5,386.1 253.6,376.8 253.8,372 254,371.4 254.1,375.6 254.3,384.5 254.5,399.5 254.6,413 254.8,427.2 254.9,432.9 255.1,431.5 255.3,423.9 255.4,411.3 255.6,396 255.8,387.5 255.9,381.2 256.1,374.9 256.2,372.7 256.4,374.7 256.6,381.4 256.7,390.1 256.9,402.5 257.1,412.4 257.2,418.9 257.4,420.8 257.6,417.4 257.7,410.4 257.9,401.2 258,393.7 258.2,388.3 258.4,384.6 258.5,383.5 258.7,384.5 258.9,388.1 259,394.1 259.2,401.4 259.3,405.5 259.5,407.5 259.7,406.6 259.8,404.1 260,400.4 260.2,395.9 260.3,392.1 260.5,390.1 260.7,389.7 260.8,390.6 261,392.6 261.1,395.2 261.3,398.8 261.5,404.7 261.6,408.7 261.8,409.5 262,408.3 262.1,404.6 262.3,399.7 262.4,395.5 262.6,391.7 262.8,389.4 262.9,388.6 263.1,389.3 263.3,391 263.4,393.8 263.6,396.8 263.7,403.2 263.9,408.8 264.1,411.5 264.2,411.9 264.4,409.5 264.6,405.3 264.7,397.8 264.9,392.9 265.1,389.1 265.2,386.5 265.4,385.5 265.5,386.8 265.7,389.7 265.9,394.6 266,397.8 266.2,401.3 266.4,406.3 266.5,409.8 266.7,412.4 266.8,412.4 267,408.4 267.2,401 267.3,391.8 267.5,384.4 267.7,379.9 267.8,379.4 268,383 268.2,389.4 268.3,396.2 268.5,405 268.6,412.9 268.8,418.6 269,419 269.1,416.5 269.3,411.3 269.5,403 269.6,395.1 269.8,389.7 269.9,385.4 270.1,383.9 270.3,383.8 270.4,386.2 270.6,389.2 270.8,394.4 270.9,399.6 271.1,405 271.2,408.3 271.4,410.5 271.6,409.6 271.7,406.1 271.9,401.6 272.1,395.3 272.2,390.7 272.4,387.7 272.6,386.4 272.7,387.2 272.9,389.8 273,394.1 273.2,399.4 273.4,406 273.5,408.1 273.7,407.6 273.9,405.2 274,402.1 274.2,397.8 274.3,394.1 274.5,391.7 274.7,389.4 274.8,388.1 275,388.2 275.2,389.8 275.3,394.5 275.5,400.4 275.7,405.7 275.8,408.9 276,410.7 276.1,408.5 276.3,403.7 276.5,397.7 276.6,393.4 276.8,390.5 277,388 277.1,387.7 277.3,388.8 277.4,391.2 277.6,393.5 277.8,398.4 277.9,403.9 278.1,407.9 278.3,408.4 278.4,406.6 278.6,402.6 278.8,396.9 278.9,393 279.1,390.9 279.2,389.8 279.4,390.3 279.6,392.3 279.7,394.5 279.9,397.2 280.1,401.1 280.2,404.1 280.4,405.4 280.5,405.3 280.7,403.4 280.9,400.4 281,396.4 281.2,393.6 281.4,392.1 281.5,391.9 281.7,392.5 281.8,393.6 282,394.6 282.2,396.1 282.3,398.4 282.5,400.6 282.7,402.5 282.8,403.5 283,403.2 283.2,402 283.3,399.5 283.5,396.5 283.6,393.6 283.8,390.8 284,389.7 284.1,390 284.3,391.4 284.5,393.9 284.6,396.7 284.8,401.4 284.9,404.8 285.1,408.5 285.3,409.3 285.4,407.4 285.6,403 285.8,397.3 285.9,392.9 286.1,390.3 286.3,388.5 286.4,388.3 286.6,389.6 286.7,391.7 286.9,395.4 287.1,400 287.2,403.8 287.4,406.5 287.6,407.5 287.7,407.6 287.9,405.9 288,401.5 288.2,398 288.4,394.1 288.5,390.2 288.7,388.6 288.9,388.9 289,390.9 289.2,393.5 289.3,396.4 289.5,401.1 289.7,404.6 289.8,405.8 290,405.4 290.2,404 290.3,401.3 290.5,396.1 290.7,393.7 290.8,391.2 291,389.9 291.1,389.5 291.3,390.3 291.5,392.3 291.6,395.6 291.8,401.1 292,406.2 292.1,409.6 292.3,410.2 292.4,407.1 292.6,401.1 292.8,394.5 292.9,390.4 293.1,386.4 293.3,383.7 293.4,384.1 293.6,388.1 293.8,393.1 293.9,399.8 294.1,407.3 294.2,412.3 294.4,413.5 294.6,411.9 294.7,407.3 294.9,402 295.1,394.8 295.2,389.6 295.4,385.7 295.5,384.2 295.7,383.7 295.9,384.9 296,387.8 296.2,391.8 296.4,397.3 296.5,401.8 296.7,405.6 296.9,407.8 297,408.8 297.2,407.3 297.3,403.1 297.5,398 297.7,392.9 297.8,388.5 298,385.6 298.2,384.5 298.3,385.8 298.5,390.9 298.6,395 298.8,402.4 299,410.8 299.1,415.2 299.3,416.4 299.5,414.7 299.6,408.7 299.8,403.3 299.9,395.5 300.1,390.5 300.3,386.6 300.4,384.9 300.6,384.7 300.8,386.6 300.9,390.6 301.1,395.1 301.3,404 301.4,411.1 301.6,415.7 301.7,415.8 301.9,412.8 302.1,407.7 302.2,401 302.4,395.6 302.6,391 302.7,389.2 302.9,387.9 303,387.4 303.2,388.5 303.4,390.8 303.5,396 303.7,401.7 303.9,406 304,409.5 304.2,411.1 304.4,409.8 304.5,404.9 304.7,398.5 304.8,394.6 305,391.9 305.2,390.5 305.3,390.7 305.5,390.4 305.7,391.5 305.8,394.3 306,397.6 306.1,402.1 306.3,405.9 306.5,408.1 306.6,408.3 306.8,406.2 307,403.1 307.1,398.9 307.3,392.8 307.5,388.9 307.6,385 307.8,382.3 307.9,382.4 308.1,384.3 308.3,389.4 308.4,395.5 308.6,402.6 308.8,408.9 308.9,412.3 309.1,413 309.2,410.7 309.4,403.9 309.6,396.9 309.7,390.2 309.9,384.6 310.1,381.3 310.2,380.8 310.4,382.4 310.5,387.6 310.7,392.3 310.9,398.7 311,408.1 311.2,415.4 311.4,417.8 311.5,416.2 311.7,411.1 311.9,400.8 312,391.6 312.2,385 312.3,380 312.5,378.6 312.7,380.3 312.8,387 313,393.8 313.2,405.4 313.3,414.3 313.5,419.6 313.6,422.5 313.8,420.9 314,414.3 314.1,402.7 314.3,393.2 314.5,385.9 314.6,381.2 314.8,378.8 315,380 315.1,382.7 315.3,389.1 315.4,396.5 315.6,404.5 315.8,407.7 315.9,409 316.1,407.9 316.3,406.1 316.4,403.3 316.6,399.3 316.7,393.8 316.9,389.4 317.1,386.2 317.2,385.5 317.4,386.4 317.6,389.3 317.7,393.7 317.9,400.4 318,408.7 318.2,413.4 318.4,415.6 318.5,414.4 318.7,409.6 318.9,401.5 319,394.4 319.2,388.5 319.4,384.2 319.5,380.8 319.7,381 319.8,383.4 320,387.7 320.2,396.1 320.3,403.7 320.5,409.5 320.7,413.6 320.8,415.4 321,414.6 321.1,410.5 321.3,402.7 321.5,395.3 321.6,388.1 321.8,383.1"/>
</g>
<rect x="77.2" y="295.6" width="244.6" height="201.8" fill="none" stroke="#4a4a4a" stroke-width="1"/>
<path d="M158.73 497.4v-2.6 M158.73 295.6v2.6" stroke="#4a4a4a" stroke-width="0.9" fill="none"/>
<path d="M240.27 497.4v-2.6 M240.27 295.6v2.6" stroke="#4a4a4a" stroke-width="0.9" fill="none"/>
<path d="M77.2 396.5h2.6 M321.8 396.5h-2.6" stroke="#4a4a4a" stroke-width="0.9" fill="none"/>
<text x="77.2" y="531.8" font-size="25" text-anchor="middle" class="b">0</text>
<text x="158.73" y="531.8" font-size="25" text-anchor="middle" class="b">500</text>
<text x="240.27" y="531.8" font-size="25" text-anchor="middle" class="b">1000</text>
<text x="321.8" y="531.8" font-size="25" text-anchor="middle" class="b">1500</text>
<text x="67.9" y="305.6" font-size="25" text-anchor="end" class="b">10</text>
<text x="67.9" y="406.5" font-size="25" text-anchor="end" class="b">0</text>
<text x="67.9" y="508.3" font-size="25" text-anchor="end" class="b">-10</text>
<text x="318.5" y="328.2" font-size="25.5" text-anchor="end" class="b">(c)</text>
<rect x="227.7" y="421.4" width="78.9" height="52.1" fill="#fff" stroke="#4a4a4a" stroke-width="0.9"/>
<polygon fill="#000" points="227.7,473.5 228.36,471.15 229.03,468.8 229.69,466.46 230.35,464.15 231.02,461.86 231.68,459.6 232.34,457.38 233,455.2 233.67,453.08 234.33,451 234.99,448.99 235.66,447.04 236.32,445.16 236.98,443.35 237.65,441.62 238.31,439.97 238.97,438.41 239.63,436.93 240.3,435.55 240.96,434.25 241.62,433.05 242.29,431.95 242.95,430.94 243.61,430.03 244.28,429.22 244.94,428.51 245.6,427.89 246.26,427.38 246.93,426.95 247.59,426.63 248.25,426.39 248.92,426.25 249.58,426.19 250.24,426.23 250.91,426.34 251.57,426.54 252.23,426.82 252.89,427.16 253.56,427.59 254.22,428.07 254.88,428.63 255.55,429.24 256.21,429.91 256.87,430.63 257.54,431.39 258.2,432.21 258.86,433.06 259.53,433.95 260.19,434.87 260.85,435.82 261.51,436.8 262.18,437.8 262.84,438.81 263.5,439.84 264.17,440.88 264.83,441.92 265.49,442.97 266.16,444.02 266.82,445.07 267.48,446.11 268.14,447.15 268.81,448.18 269.47,449.2 270.13,450.2 270.8,451.19 271.46,452.16 272.12,453.11 272.79,454.04 273.45,454.95 274.11,455.83 274.77,456.7 275.44,457.53 276.1,458.35 276.76,459.14 277.43,459.9 278.09,460.63 278.75,461.34 279.42,462.02 280.08,462.68 280.74,463.31 281.41,463.91 282.07,464.49 282.73,465.04 283.39,465.56 284.06,466.07 284.72,466.54 285.38,466.99 286.05,467.42 286.71,467.83 287.37,468.22 288.04,468.58 288.7,468.93 289.36,469.25 290.02,469.55 290.69,469.84 291.35,470.11 292.01,470.36 292.68,470.6 293.34,470.82 294,471.03 294.67,471.22 295.33,471.4 295.99,471.57 296.65,471.73 297.32,471.87 297.98,472.01 298.64,472.13 299.31,472.25 299.97,472.36 300.63,472.46 301.3,472.55 301.96,472.63 302.62,472.71 303.28,472.78 303.95,472.85 304.61,472.91 305.27,472.96 305.94,473.01 306.6,473.06 306.6,473.5 227.7,473.5"/>
<polyline fill="none" stroke="#dd5a1a" stroke-width="2" stroke-linejoin="round" stroke-linecap="round" points="227.7,473.5 228.36,471.15 229.03,468.8 229.69,466.46 230.35,464.15 231.02,461.86 231.68,459.6 232.34,457.38 233,455.2 233.67,453.08 234.33,451 234.99,448.99 235.66,447.04 236.32,445.16 236.98,443.35 237.65,441.62 238.31,439.97 238.97,438.41 239.63,436.93 240.3,435.55 240.96,434.25 241.62,433.05 242.29,431.95 242.95,430.94 243.61,430.03 244.28,429.22 244.94,428.51 245.6,427.89 246.26,427.38 246.93,426.95 247.59,426.63 248.25,426.39 248.92,426.25 249.58,426.19 250.24,426.23 250.91,426.34 251.57,426.54 252.23,426.82 252.89,427.16 253.56,427.59 254.22,428.07 254.88,428.63 255.55,429.24 256.21,429.91 256.87,430.63 257.54,431.39 258.2,432.21 258.86,433.06 259.53,433.95 260.19,434.87 260.85,435.82 261.51,436.8 262.18,437.8 262.84,438.81 263.5,439.84 264.17,440.88 264.83,441.92 265.49,442.97 266.16,444.02 266.82,445.07 267.48,446.11 268.14,447.15 268.81,448.18 269.47,449.2 270.13,450.2 270.8,451.19 271.46,452.16 272.12,453.11 272.79,454.04 273.45,454.95 274.11,455.83 274.77,456.7 275.44,457.53 276.1,458.35 276.76,459.14 277.43,459.9 278.09,460.63 278.75,461.34 279.42,462.02 280.08,462.68 280.74,463.31 281.41,463.91 282.07,464.49 282.73,465.04 283.39,465.56 284.06,466.07 284.72,466.54 285.38,466.99 286.05,467.42 286.71,467.83 287.37,468.22 288.04,468.58 288.7,468.93 289.36,469.25 290.02,469.55 290.69,469.84 291.35,470.11 292.01,470.36 292.68,470.6 293.34,470.82 294,471.03 294.67,471.22 295.33,471.4 295.99,471.57 296.65,471.73 297.32,471.87 297.98,472.01 298.64,472.13 299.31,472.25 299.97,472.36 300.63,472.46 301.3,472.55 301.96,472.63 302.62,472.71 303.28,472.78 303.95,472.85 304.61,472.91 305.27,472.96 305.94,473.01 306.6,473.06"/>
<path d="M227.7 473.5v-1.6 M227.7 421.4v1.6" stroke="#4a4a4a" stroke-width="0.7" fill="none"/>
<path d="M240.85 473.5v-1.6 M240.85 421.4v1.6" stroke="#4a4a4a" stroke-width="0.7" fill="none"/>
<path d="M254 473.5v-1.6 M254 421.4v1.6" stroke="#4a4a4a" stroke-width="0.7" fill="none"/>
<path d="M267.15 473.5v-1.6 M267.15 421.4v1.6" stroke="#4a4a4a" stroke-width="0.7" fill="none"/>
<path d="M280.3 473.5v-1.6 M280.3 421.4v1.6" stroke="#4a4a4a" stroke-width="0.7" fill="none"/>
<path d="M293.45 473.5v-1.6 M293.45 421.4v1.6" stroke="#4a4a4a" stroke-width="0.7" fill="none"/>
<path d="M306.6 473.5v-1.6 M306.6 421.4v1.6" stroke="#4a4a4a" stroke-width="0.7" fill="none"/>
<text x="227.7" y="499.5" font-size="18.3" text-anchor="middle" class="b">0</text>
<text x="240.85" y="499.5" font-size="18.3" text-anchor="middle" class="b">1</text>
<text x="254" y="499.5" font-size="18.3" text-anchor="middle" class="b">2</text>
<text x="267.15" y="499.5" font-size="18.3" text-anchor="middle" class="b">3</text>
<text x="280.3" y="499.5" font-size="18.3" text-anchor="middle" class="b">4</text>
<text x="293.45" y="499.5" font-size="18.3" text-anchor="middle" class="b">5</text>
<text x="306.6" y="499.5" font-size="18.3" text-anchor="middle" class="b">6</text>
<text x="220.5" y="480.8" font-size="18.3" text-anchor="end" class="b">0</text>
<text x="220.5" y="454.75" font-size="18.3" text-anchor="end" class="b">0.2</text>
<text x="220.5" y="428.7" font-size="18.3" text-anchor="end" class="b">0.4</text>
<g clip-path="url(#cpd)">
<polyline fill="none" stroke="#88cff0" stroke-width="1.5" stroke-linejoin="round" points="410.7,393.6 410.9,393.9 411,394.7 411.2,395.8 411.4,398.1 411.5,401 411.7,403.2 411.8,404 412,402.4 412.2,400.2 412.3,396.2 412.5,392.7 412.7,389.8 412.8,388.4 413,388.9 413.2,392 413.3,397.1 413.5,403 413.6,409.8 413.8,413.5 414,414.4 414.1,411.8 414.3,404.6 414.5,394.7 414.6,386.4 414.8,381.2 415,378.1 415.1,379.9 415.3,385.7 415.4,395 415.6,409.1 415.8,418.9 415.9,424 416.1,422.7 416.3,415.1 416.4,401.8 416.6,390.4 416.8,384.4 416.9,381.4 417.1,381.7 417.2,383.3 417.4,388.4 417.6,395.6 417.7,401 417.9,407.9 418.1,413.5 418.2,413.7 418.4,409.2 418.6,401.1 418.7,393 418.9,386.5 419,381.4 419.2,378.9 419.4,380.4 419.5,386.1 419.7,395.8 419.9,405.5 420,412.4 420.2,414.4 420.4,413 420.5,406.6 420.7,398.6 420.8,391.2 421,387 421.2,385.4 421.3,385.9 421.5,388.2 421.7,392.2 421.8,396.1 422,400.3 422.2,403 422.3,403.4 422.5,403.2 422.6,401.6 422.8,399.5 423,395.8 423.1,393.1 423.3,390.7 423.5,388.9 423.6,388.4 423.8,389.8 424,393.9 424.1,400.2 424.3,406.3 424.4,410.8 424.6,411.4 424.8,406.9 424.9,399.8 425.1,394.1 425.3,389.2 425.4,385.2 425.6,382.9 425.8,383.6 425.9,388.3 426.1,396.3 426.2,407.1 426.4,416.5 426.6,420.1 426.7,419 426.9,415.3 427.1,407.6 427.2,397.9 427.4,385.3 427.6,379.3 427.7,375.7 427.9,376.7 428,380.2 428.2,388.9 428.4,399.9 428.5,409.3 428.7,417 428.9,424.3 429,426.3 429.2,421.1 429.4,409.9 429.5,393.4 429.7,380.8 429.8,370.2 430,368.2 430.2,374.5 430.3,385.4 430.5,396.8 430.7,407.8 430.8,419.1 431,426.8 431.1,427.7 431.3,418 431.5,404.2 431.6,388.5 431.8,376.5 432,370 432.1,368.6 432.3,374.9 432.5,387 432.6,398.7 432.8,411.6 432.9,419.9 433.1,422.2 433.3,419.1 433.4,411.4 433.6,397.9 433.8,385 433.9,374 434.1,365.9 434.3,367.2 434.4,377 434.6,391.9 434.7,408.4 434.9,420.1 435.1,425.8 435.2,427.4 435.4,422.2 435.6,409.5 435.7,395.3 435.9,377.6 436.1,367.2 436.2,362.8 436.4,368.4 436.5,380.5 436.7,397.6 436.9,411.5 437,421 437.2,428.3 437.4,427.6 437.5,421.8 437.7,408.9 437.9,390.5 438,372.9 438.2,361.1 438.3,356.7 438.5,358.6 438.7,369.8 438.8,392.1 439,413.3 439.2,430.4 439.3,446.7 439.5,450.1 439.7,446.7 439.8,431.6 440,413.4 440.1,393.5 440.3,367.7 440.5,353.8 440.6,351.2 440.8,358.2 441,378.9 441.1,398.6 441.3,424.7 441.5,443.1 441.6,453.8 441.8,449.5 441.9,434 442.1,402.3 442.3,373.4 442.4,349.7 442.6,342.9 442.8,348.2 442.9,362.6 443.1,389 443.3,414.5 443.4,439.8 443.6,453 443.7,448.4 443.9,431.8 444.1,409 444.2,385.1 444.4,363.4 444.6,351.8 444.7,349.5 444.9,357.7 445.1,371.9 445.2,398.2 445.4,416.1 445.5,432.9 445.7,435.2 445.9,426.7 446,408.6 446.2,391.7 446.4,371 446.5,356.6 446.7,350.3 446.9,352.4 447,359.9 447.2,380 447.3,403.2 447.5,424 447.7,439.8 447.8,445.9 448,441.7 448.2,425.5 448.3,404.8 448.5,382.2 448.7,367.4 448.8,359.6 449,357 449.1,362.6 449.3,373.4 449.5,389.4 449.6,408.1 449.8,428.2 450,439 450.1,435.3 450.3,424.1 450.5,407.3 450.6,389.4 450.8,378 450.9,372.2 451.1,372.3 451.3,377.9 451.4,386.9 451.6,398.3 451.8,407.3 451.9,414.9 452.1,416 452.3,413.4 452.4,406.9 452.6,397.9 452.7,388.6 452.9,383.5 453.1,381.5 453.2,382.7 453.4,386.5 453.6,390.7 453.7,397.2 453.9,403.8 454.1,406.9 454.2,407.8 454.4,406.4 454.5,403.4 454.7,398.7 454.9,395.1 455,392.5 455.2,390.5 455.4,389.2 455.5,389 455.7,390.1 455.9,393.6 456,399.3 456.2,406 456.3,411.3 456.5,413.6 456.7,412.3 456.8,407.9 457,397.9 457.2,388.3 457.3,382.2 457.5,379.1 457.7,380.6 457.8,384.9 458,391.9 458.1,400.2 458.3,409 458.5,415.9 458.6,418.1 458.8,414.1 459,406.3 459.1,397 459.3,386.4 459.5,378.3 459.6,374.7 459.8,375.3 459.9,380 460.1,388 460.3,399.5 460.4,410.5 460.6,418.6 460.8,419.9 460.9,415.2 461.1,407.2 461.3,398.9 461.4,392.3 461.6,387.1 461.7,383.8 461.9,384.5 462.1,388.2 462.2,394.2 462.4,401.3 462.6,405.4 462.7,408.3 462.9,408.1 463.1,405.4 463.2,401 463.4,395.2 463.5,389.9 463.7,385.1 463.9,383.5 464,385 464.2,391.5 464.4,400.5 464.5,409.2 464.7,416.2 464.9,419.6 465,418.6 465.2,413.7 465.3,403.5 465.5,389.8 465.7,379.1 465.8,375.1 466,375.3 466.2,380 466.3,387.4 466.5,399.5 466.7,408.8 466.8,414.9 467,417.7 467.1,414.9 467.3,406.8 467.5,396.2 467.6,389.1 467.8,385.2 468,382.5 468.1,383.6 468.3,388.4 468.5,393 468.6,399.1 468.8,408.2 468.9,414.5 469.1,415.3 469.3,411.2 469.4,401.1 469.6,392 469.8,384.5 469.9,377.4 470.1,374.2 470.3,376.9 470.4,386 470.6,394.7 470.7,404.5 470.9,413.6 471.1,419.2 471.2,421.3 471.4,417.3 471.6,406.5 471.7,393.7 471.9,380.9 472.1,371.2 472.2,365.1 472.4,366.1 472.5,373.4 472.7,388 472.9,404.3 473,416.6 473.2,426.1 473.4,425.9 473.5,418.1 473.7,408.4 473.8,395.1 474,381 474.2,371.7 474.3,364.9 474.5,366.1 474.7,374.3 474.8,388.5 475,408.5 475.2,424.4 475.3,433 475.5,433.7 475.6,425.4 475.8,412.1 476,393.8 476.1,376.1 476.3,364.2 476.5,359.6 476.6,364.8 476.8,376.4 477,392.1 477.1,410 477.3,424.5 477.4,432.7 477.6,433.3 477.8,426.1 477.9,410.9 478.1,392.1 478.3,376.2 478.4,361.7 478.6,356 478.8,359.2 478.9,372.1 479.1,390 479.2,407.7 479.4,424.8 479.6,436.3 479.7,440.4 479.9,436.2 480.1,424.7 480.2,403.4 480.4,380.7 480.6,364.2 480.7,354.5 480.9,353.6 481,363.5 481.2,378.6 481.4,397.8 481.5,417.7 481.7,434.9 481.9,441.9 482,437.2 482.2,424.1 482.4,401.3 482.5,379.2 482.7,364.7 482.8,354.7 483,354.2 483.2,359.5 483.3,373.3 483.5,392.6 483.7,415.8 483.8,434.7 484,441.7 484.2,439.4 484.3,428.9 484.5,414.5 484.6,398.3 484.8,382.4 485,374.4 485.1,370.9 485.3,372.8 485.5,379.6 485.6,389.1 485.8,401.8 486,413.6 486.1,422.5 486.3,426.1 486.4,423.9 486.6,414.2 486.8,395.4 486.9,379.8 487.1,369.5 487.3,364.5 487.4,367.6 487.6,377.2 487.8,391.5 487.9,407.6 488.1,420.4 488.2,428.5 488.4,429.7 488.6,422.3 488.7,411.8 488.9,390 489.1,372.1 489.2,357.1 489.4,353.4 489.6,359.5 489.7,377.2 489.9,398.5 490,420.9 490.2,433.6 490.4,438 490.5,432.2 490.7,417.5 490.9,399 491,380.3 491.2,358.7 491.4,348.8 491.5,349.2 491.7,359.3 491.8,379.3 492,405.6 492.2,428 492.3,441.4 492.5,443.7 492.7,433.6 492.8,412.5 493,391.7 493.2,369 493.3,348.3 493.5,339.5 493.6,341 493.8,356.7 494,382.8 494.1,413 494.3,436.1 494.5,446.9 494.6,446.2 494.8,430.8 495,402.9 495.1,376.9 495.3,352.2 495.4,335.4 495.6,331.4 495.8,338 495.9,363.5 496.1,388.8 496.3,426.2 496.4,453.7 496.6,473.5 496.8,472.5 496.9,448.3 497.1,419.3 497.2,381.8 497.4,353.9 497.6,332.7 497.7,329.2 497.9,342.7 498.1,367.9 498.2,400.1 498.4,435.5 498.6,458.2 498.7,467.6 498.9,462.2 499,445.4 499.2,413.2 499.4,385.2 499.5,347.4 499.7,324.8 499.9,320 500,326.5 500.2,349.9 500.4,379.3 500.5,414.1 500.7,445.9 500.8,463.8 501,465.6 501.2,451.9 501.3,418.4 501.5,383.4 501.7,341.7 501.8,317.8 502,318.2 502.2,337.6 502.3,378.8 502.5,414 502.6,445.8 502.8,462.4 503,460.1 503.1,444 503.3,419.2 503.5,393.9 503.6,352.5 503.8,327.9 504,319.3 504.1,335.1 504.3,362.2 504.4,401.3 504.6,437 504.8,471.2 504.9,485.7 505.1,480.4 505.3,451.7 505.4,410.3 505.6,371.6 505.8,343.9 505.9,324 506.1,326.5 506.2,342 506.4,376.2 506.6,401 506.7,429.4 506.9,453.2 507.1,468 507.2,467.4 507.4,452.4 507.6,418.2 507.7,374.9 507.9,345 508,328.5 508.2,333.2 508.4,348.2 508.5,382 508.7,415.6 508.9,441 509,455.4 509.2,457.6 509.4,448.3 509.5,426.1 509.7,395.3 509.8,365.9 510,343.2 510.2,333.6 510.3,333.4 510.5,345.4 510.7,370.9 510.8,400.7 511,434.3 511.2,462.2 511.3,475 511.5,471.3 511.6,445.4 511.8,410.1 512,379.7 512.1,350 512.3,332.3 512.5,332.2 512.6,344.3 512.8,373.2 513,404.3 513.1,431.1 513.3,449.7 513.4,455.7 513.6,446.4 513.8,420.9 513.9,391.4 514.1,363.1 514.3,341.3 514.4,334 514.6,342.9 514.7,364.8 514.9,396.7 515.1,421.2 515.2,442.3 515.4,449.2 515.6,443.8 515.7,428.9 515.9,406.9 516.1,385 516.2,362.2 516.4,343.4 516.5,338.6 516.7,350.5 516.9,368 517,393.6 517.2,412 517.4,437.8 517.5,450.1 517.7,453.5 517.9,438.5 518,408 518.2,379.4 518.3,344.5 518.5,329.9 518.7,330.9 518.8,346.8 519,376.2 519.2,410.4 519.3,431.2 519.5,453.8 519.7,457.4 519.8,449.7 520,426.3 520.1,398.2 520.3,369.9 520.5,349.5 520.6,338.8 520.8,344.7 521,361.1 521.1,386.4 521.3,410.4 521.5,430.8 521.6,441.5 521.8,446.4 521.9,437.9 522.1,420.7 522.3,395.5 522.4,375.3 522.6,359.2 522.8,354.4 522.9,359.1 523.1,371.5 523.3,390.2 523.4,413 523.6,430.4 523.7,441.7 523.9,443.1 524.1,436.9 524.2,419.7 524.4,397.2 524.6,377.6 524.7,364.4 524.9,358.6 525.1,363.8 525.2,375.2 525.4,393.3 525.5,417.9 525.7,436.3 525.9,440.8 526,434.5 526.2,421.7 526.4,402.3 526.5,384 526.7,370.7 526.9,363.6 527,365.3 527.2,373.2 527.3,385.2 527.5,400.7 527.7,417.3 527.8,428.3 528,429.1 528.2,422.6 528.3,411.5 528.5,395.7 528.7,379.3 528.8,370.3 529,368.3 529.1,371.7 529.3,381 529.5,392.6 529.6,403.9 529.8,412.8 530,419.6 530.1,421.7 530.3,417.4 530.5,407.4 530.6,392.2 530.8,378.5 530.9,364.8 531.1,357 531.3,357.8 531.4,366.2 531.6,380.9 531.8,405.3 531.9,425.8 532.1,439.8 532.3,446.4 532.4,437.9 532.6,418.4 532.7,397.7 532.9,378.6 533.1,363.9 533.2,356.8 533.4,357.8 533.6,365.5 533.7,380.1 533.9,394.5 534.1,415.1 534.2,431 534.4,438.1 534.5,433.3 534.7,420.8 534.9,403.4 535,385.5 535.2,370.9 535.4,363.8 535.5,363.8 535.7,372 535.9,387.2 536,404.8 536.2,422.4 536.3,434 536.5,434.1 536.7,426.7 536.8,414.5 537,396.4 537.2,378.1 537.3,366.3 537.5,360.4 537.7,364.2 537.8,376.1 538,392.1 538.1,410.7 538.3,421.8 538.5,428.2 538.6,425.5 538.8,418.1 539,406.3 539.1,391.7 539.3,374.6 539.5,366.2 539.6,364.2 539.8,372 539.9,384.9 540.1,399.3 540.3,415.2 540.4,425.1 540.6,429.3 540.8,424.4 540.9,414.3 541.1,403.3 541.3,389.9 541.4,377.3 541.6,369.3 541.7,367.5 541.9,372.7 542.1,382.7 542.2,398 542.4,410.9 542.6,424.7 542.7,434.6 542.9,435.5 543.1,426.2 543.2,415.3 543.4,395.8 543.5,379.7 543.7,367.6 543.9,362.2 544,364.6 544.2,373.3 544.4,391.5 544.5,408.8 544.7,422.6 544.9,433.4 545,438.6 545.2,435.6 545.3,420.5 545.5,400.7 545.7,382.4 545.8,368.9 546,360 546.2,361.2 546.3,372.4 546.5,392.6 546.7,408.4 546.8,424.7 547,431.3 547.1,431.3 547.3,422 547.5,406.8 547.6,389 547.8,373.9 548,364.8 548.1,362.4 548.3,366.6 548.5,379.4 548.6,394.2 548.8,409.7 548.9,422.3 549.1,428.7 549.3,429 549.4,420 549.6,405.4 549.8,386.7 549.9,371.2 550.1,360.4 550.3,358 550.4,362.5 550.6,377.1 550.7,395.9 550.9,412.5 551.1,426.6 551.2,433.7 551.4,433.8 551.6,426.7 551.7,412.6 551.9,390.9 552.1,373.9 552.2,361.5 552.4,356.6 552.5,360.9 552.7,375.6 552.9,389.5 553,405.4 553.2,418.6 553.4,425.1 553.5,425.7 553.7,420.7 553.9,410.6 554,396.5 554.2,378.3 554.3,366.6 554.5,362.5 554.7,367.4 554.8,376.3 555,392.6 555.2,404.4 555.3,418.5 555.5,428.5 555.6,431.8 555.8,428.1 556,417.4 556.1,399.9 556.3,384 556.5,369.7 556.6,362.6 556.8,363 557,371.5 557.1,386.5 557.3,405.7 557.4,424.2 557.6,438.9 557.8,441.2 557.9,435.9 558.1,423.6 558.3,399.2 558.4,382 558.6,364.9 558.8,360.3 558.9,364.7 559.1,375.6 559.2,391.3 559.4,410.7 559.6,427.5 559.7,434.6 559.9,432.4 560.1,423.5 560.2,409.7 560.4,394.4 560.6,378.5 560.7,367.8 560.9,362.9 561,364.3 561.2,369.8 561.4,379.6 561.5,393 561.7,406.5 561.9,416.5 562,423.1 562.2,424.8 562.4,419.9 562.5,406.9 562.7,392.8 562.8,380.8 563,371.8 563.2,368 563.3,373.3 563.5,383.5 563.7,397.7 563.8,410.2 564,422.3 564.2,425.8 564.3,422.4 564.5,413.8 564.6,402.1 564.8,391.9 565,383.9 565.1,379.4 565.3,377.6 565.5,380.2 565.6,386.1 565.8,395.1 566,404.1 566.1,411.1 566.3,414 566.4,413.6 566.6,409.5 566.8,404 566.9,394.6 567.1,387.9 567.3,380.6 567.4,375.8 567.6,376.3 567.8,382.1 567.9,392.4 568.1,403.1 568.2,408.9 568.4,413.2 568.6,413.8 568.7,410.3 568.9,404.4 569.1,397.5 569.2,389.4 569.4,385.2 569.6,383.3 569.7,384.4 569.9,388.1 570,394 570.2,399.9 570.4,405.4 570.5,409.9 570.7,409.6 570.9,405.9 571,401.8 571.2,396.2 571.4,394.3 571.5,393.1 571.7,392.5 571.8,392.5 572,393.4 572.2,395.2 572.3,398.2 572.5,401.6 572.7,403.1 572.8,402.8 573,401.6 573.2,399.2 573.3,396.6 573.5,394.8 573.6,393.4 573.8,392.4 574,392.2 574.1,393 574.3,394.8 574.5,397 574.6,399.9 574.8,403.2 575,405.5 575.1,406.3 575.3,404.7 575.4,400.4 575.6,394.4 575.8,389.1 575.9,384.7 576.1,382.3 576.3,383.5 576.4,388.5 576.6,395.8 576.8,404.1 576.9,411.7 577.1,414.7 577.2,413 577.4,406.9 577.6,398.6 577.7,388.3 577.9,378.3 578.1,370.4 578.2,369.9 578.4,376.7 578.6,388.4 578.7,397.9 578.9,408.6 579,418.3 579.2,421 579.4,417.9 579.5,410.3 579.7,399.7 579.9,391.1 580,383.2 580.2,379.7 580.4,378.3 580.5,380.8 580.7,386.6 580.8,396.3 581,402.9 581.2,408.1 581.3,410.6 581.5,411.3 581.7,408.4 581.8,403.6 582,395.5 582.2,387.4 582.3,380.8 582.5,378.8 582.6,380.6 582.8,385.8 583,392 583.1,401.6 583.3,413.5 583.5,421.3 583.6,424.5 583.8,420 584,408.7 584.1,392.1 584.3,382.8 584.4,375.7 584.6,373.1 584.8,374.8 584.9,382 585.1,391.7 585.3,400.3 585.4,410.5 585.6,416.3 585.8,415.8 585.9,411.5 586.1,405 586.2,394.8 586.4,387.1 586.6,381 586.7,378.5 586.9,379.7 587.1,384.4 587.2,391.5 587.4,399.5 587.6,408.7 587.7,415 587.9,418.2 588,416.2 588.2,408.5 588.4,400.8 588.5,390.8 588.7,382.1 588.9,378 589,377.2 589.2,380.3 589.4,386.1 589.5,394.4 589.7,403.1 589.8,413.9 590,420.6 590.2,424.2 590.3,419.4 590.5,407.5 590.7,395.8 590.8,386.8 591,378.5 591.2,376.7 591.3,380.5 591.5,385.5 591.6,393.3 591.8,404.7 592,411.3 592.1,413.3 592.3,411.7 592.5,405.5 592.6,398 592.8,392.7 593,388.1 593.1,384.3 593.3,383.3 593.4,385.3 593.6,389.5 593.8,393.6 593.9,399.3 594.1,404.8 594.3,407.9 594.4,408.2 594.6,406 594.8,402.4 594.9,398.3 595.1,394.2 595.2,392.6 595.4,391.8 595.6,392.1 595.7,392.4 595.9,393.8 596.1,395.7 596.2,397.9 596.4,399.5 596.5,400.5 596.7,401.8 596.9,402.3 597,400.9 597.2,396.8 597.4,392.4 597.5,388.4 597.7,385.7 597.9,385.6 598,388.8 598.2,393.3 598.3,400.8 598.5,408.1 598.7,415.3 598.8,415.4 599,411.6 599.2,406.1 599.3,398.7 599.5,391.6 599.7,387.1 599.8,385.6 600,387.2 600.1,390.7 600.3,394.6 600.5,397 600.6,401.9 600.8,404.5 601,405.4 601.1,404.4 601.3,402.1 601.5,398.5 601.6,396.1 601.8,394.7 601.9,393.8 602.1,393.4 602.3,393.6 602.4,394.5 602.6,395.9 602.8,398.6 602.9,402.2 603.1,404.9 603.3,405.1 603.4,402.7 603.6,398 603.7,394 603.9,390.3 604.1,387.5 604.2,386.3 604.4,387.8 604.6,392.4 604.7,399.7 604.9,406.5 605.1,410.5 605.2,412.6 605.4,411.5 605.5,405.8 605.7,398.6 605.9,391.9 606,386.6 606.2,382 606.4,380.7 606.5,383.8 606.7,389.3 606.9,398.5 607,405.7 607.2,412.2 607.3,415.9 607.5,415.7 607.7,410.7 607.8,405 608,395.3 608.2,385.1 608.3,377.7 608.5,372.7 608.7,373.1 608.8,378.9 609,388.1 609.1,400.3 609.3,408.8 609.5,415.6 609.6,416.7 609.8,412.8 610,405.6 610.1,394.3 610.3,385.4 610.5,377.9 610.6,376.3 610.8,379 610.9,385.9 611.1,394.6 611.3,402.8 611.4,409.3 611.6,412.9 611.8,413.4 611.9,409.9 612.1,403.7 612.3,398.1 612.4,391.4 612.6,385.7 612.7,383.3 612.9,384.1 613.1,388.1 613.2,394.9 613.4,404.6 613.6,411.9 613.7,413.7 613.9,411.7 614.1,406.5 614.2,398.6 614.4,392.8 614.5,387.9 614.7,385.4 614.9,385.2 615,388.4 615.2,392.3 615.4,398.7 615.5,405 615.7,409.2 615.9,411.3 616,409.4 616.2,404.8 616.3,397.4 616.5,391.4 616.7,384.3 616.8,381 617,380.2 617.2,382 617.3,388.3 617.5,397.8 617.7,406.1 617.8,413.5 618,416.4 618.1,414.8 618.3,406.8 618.5,396.3 618.6,385.6 618.8,377.8 619,373.6 619.1,373.7 619.3,380.7 619.5,393 619.6,407.9 619.8,417.2 619.9,426.4 620.1,428.5 620.3,422.2 620.4,411.8 620.6,394.2 620.8,379.1 620.9,370.4 621.1,364.5 621.3,368.3 621.4,379.3 621.6,392.8 621.7,416.4 621.9,432.9 622.1,437.9 622.2,434.5 622.4,420.9 622.6,402.3 622.7,388.1 622.9,375.1 623.1,363.7 623.2,361.6 623.4,369.3 623.5,382.9 623.7,397.5 623.9,410.7 624,421.8 624.2,425.8 624.4,422.2 624.5,411.8 624.7,397.6 624.9,382.7 625,371.3 625.2,364.4 625.3,364.8 625.5,372.1 625.7,381.3 625.8,398.6 626,409.2 626.2,414.9 626.3,417.7 626.5,415.4 626.7,410.5 626.8,402.2 627,392.4 627.1,381.6 627.3,374 627.5,371.1 627.6,373.9 627.8,382.2 628,389.4 628.1,404.1 628.3,416.3 628.5,424.8 628.6,426.8 628.8,420.9 628.9,409.3 629.1,394.2 629.3,382.9 629.4,374.3 629.6,369.7 629.8,370.7 629.9,378.7 630.1,391.1 630.3,410.2 630.4,425.5 630.6,434.3 630.7,433.1 630.9,421 631.1,404.8 631.2,390.2 631.4,377.6 631.6,369.1 631.7,365.5 631.9,367.1 632.1,377.4 632.2,388.9 632.4,404.8 632.5,416.7 632.7,423.4 632.9,423.6 633,417.3 633.2,406.9 633.4,392.7 633.5,379.4 633.7,368.6 633.9,364.5 634,367.3 634.2,377.6 634.3,391 634.5,407.9 634.7,423.1 634.8,430.8 635,430.7 635.2,425.4 635.3,410.9 635.5,394.8 635.6,382.8 635.8,373.8 636,370.5 636.1,372.7 636.3,381.1 636.5,389.9 636.6,401.5 636.8,413.4 637,419.1 637.1,421 637.3,417.3 637.4,406.7 637.6,396.1 637.8,385.8 637.9,378.8 638.1,374.4 638.3,376.1 638.4,382.9 638.6,393.8 638.8,405.8 638.9,417.3 639.1,426.1 639.2,428.9 639.4,425.3 639.6,418.8 639.7,405.6 639.9,388.9 640.1,374.6 640.2,366.2 640.4,365 640.6,371 640.7,381.7 640.9,395.6 641,409.1 641.2,418.2 641.4,423.1 641.5,422.2 641.7,413.9 641.9,401.4 642,385.3 642.2,368.8 642.4,359.3 642.5,357.8 642.7,362 642.8,373.4 643,391.6 643.2,409.6 643.3,432.5 643.5,444.9 643.7,440.2 643.8,426.2 644,400.2 644.2,375.9 644.3,357.7 644.5,350.3 644.6,351.8 644.8,367.9 645,391.3 645.1,424.5 645.3,443.3 645.5,451.3 645.6,443.2 645.8,426.8 646,403.4 646.1,381.8 646.3,360.1 646.4,350.2 646.6,349.5 646.8,359.7 646.9,380.9 647.1,402.4 647.3,424.8 647.4,440.1 647.6,443.9 647.8,437.9 647.9,423.1 648.1,403.9 648.2,382.6 648.4,367.4 648.6,357.7 648.7,357.3 648.9,364.9 649.1,377.6 649.2,391.5 649.4,407.6 649.6,422.6 649.7,430 649.9,429.7 650,422.8 650.2,409.8 650.4,396 650.5,377 650.7,366 650.9,359 651,361.4 651.2,377 651.4,398 651.5,419.5 651.7,434.6 651.8,438.9 652,430.9 652.2,418.4 652.3,399.3 652.5,381.2 652.7,367.6 652.8,358.4 653,358.6 653.2,365.4 653.3,382.8 653.5,404.3 653.6,416.7 653.8,424.1 654,427.3 654.1,424.3 654.3,413.7 654.5,395.5 654.6,375.6 654.8,358 655,353 655.1,354.7 655.3,366.2 655.4,385.7 655.6,407.9 655.8,429.5 655.9,440.5 656.1,444"/>
<polyline fill="none" stroke="#1a6cb8" stroke-width="0.72" stroke-linejoin="round" points="410.7,393.6 410.9,393.9 411,394.7 411.2,395.8 411.4,398.1 411.5,401 411.7,403.2 411.8,404 412,402.4 412.2,400.2 412.3,396.2 412.5,392.7 412.7,389.8 412.8,388.4 413,388.9 413.2,392 413.3,397.1 413.5,403 413.6,409.8 413.8,413.5 414,414.4 414.1,411.8 414.3,404.6 414.5,394.7 414.6,386.4 414.8,381.2 415,378.1 415.1,379.9 415.3,385.7 415.4,395 415.6,409.1 415.8,418.9 415.9,424 416.1,422.7 416.3,415.1 416.4,401.8 416.6,390.4 416.8,384.4 416.9,381.4 417.1,381.7 417.2,383.3 417.4,388.4 417.6,395.6 417.7,401 417.9,407.9 418.1,413.5 418.2,413.7 418.4,409.2 418.6,401.1 418.7,393 418.9,386.5 419,381.4 419.2,378.9 419.4,380.4 419.5,386.1 419.7,395.8 419.9,405.5 420,412.4 420.2,414.4 420.4,413 420.5,406.6 420.7,398.6 420.8,391.2 421,387 421.2,385.4 421.3,385.9 421.5,388.2 421.7,392.2 421.8,396.1 422,400.3 422.2,403 422.3,403.4 422.5,403.2 422.6,401.6 422.8,399.5 423,395.8 423.1,393.1 423.3,390.7 423.5,388.9 423.6,388.4 423.8,389.8 424,393.9 424.1,400.2 424.3,406.3 424.4,410.8 424.6,411.4 424.8,406.9 424.9,399.8 425.1,394.1 425.3,389.2 425.4,385.2 425.6,382.9 425.8,383.6 425.9,388.3 426.1,396.3 426.2,407.1 426.4,416.5 426.6,420.1 426.7,419 426.9,415.3 427.1,407.6 427.2,397.9 427.4,385.3 427.6,379.3 427.7,375.7 427.9,376.7 428,380.2 428.2,388.9 428.4,399.9 428.5,409.3 428.7,417 428.9,424.3 429,426.3 429.2,421.1 429.4,409.9 429.5,393.4 429.7,380.8 429.8,370.2 430,368.2 430.2,374.5 430.3,385.4 430.5,396.8 430.7,407.8 430.8,419.1 431,426.8 431.1,427.7 431.3,418 431.5,404.2 431.6,388.5 431.8,376.5 432,370 432.1,368.6 432.3,374.9 432.5,387 432.6,398.7 432.8,411.6 432.9,419.9 433.1,422.2 433.3,419.1 433.4,411.4 433.6,397.9 433.8,385 433.9,374 434.1,365.9 434.3,367.2 434.4,377 434.6,391.9 434.7,408.4 434.9,420.1 435.1,425.8 435.2,427.4 435.4,422.2 435.6,409.5 435.7,395.3 435.9,377.6 436.1,367.2 436.2,362.8 436.4,368.4 436.5,380.5 436.7,397.6 436.9,411.5 437,421 437.2,428.3 437.4,427.6 437.5,421.8 437.7,408.9 437.9,390.5 438,372.9 438.2,361.1 438.3,356.7 438.5,358.6 438.7,369.8 438.8,392.1 439,413.3 439.2,430.4 439.3,446.7 439.5,450.1 439.7,446.7 439.8,431.6 440,413.4 440.1,393.5 440.3,367.7 440.5,353.8 440.6,351.2 440.8,358.2 441,378.9 441.1,398.6 441.3,424.7 441.5,443.1 441.6,453.8 441.8,449.5 441.9,434 442.1,402.3 442.3,373.4 442.4,349.7 442.6,342.9 442.8,348.2 442.9,362.6 443.1,389 443.3,414.5 443.4,439.8 443.6,453 443.7,448.4 443.9,431.8 444.1,409 444.2,385.1 444.4,363.4 444.6,351.8 444.7,349.5 444.9,357.7 445.1,371.9 445.2,398.2 445.4,416.1 445.5,432.9 445.7,435.2 445.9,426.7 446,408.6 446.2,391.7 446.4,371 446.5,356.6 446.7,350.3 446.9,352.4 447,359.9 447.2,380 447.3,403.2 447.5,424 447.7,439.8 447.8,445.9 448,441.7 448.2,425.5 448.3,404.8 448.5,382.2 448.7,367.4 448.8,359.6 449,357 449.1,362.6 449.3,373.4 449.5,389.4 449.6,408.1 449.8,428.2 450,439 450.1,435.3 450.3,424.1 450.5,407.3 450.6,389.4 450.8,378 450.9,372.2 451.1,372.3 451.3,377.9 451.4,386.9 451.6,398.3 451.8,407.3 451.9,414.9 452.1,416 452.3,413.4 452.4,406.9 452.6,397.9 452.7,388.6 452.9,383.5 453.1,381.5 453.2,382.7 453.4,386.5 453.6,390.7 453.7,397.2 453.9,403.8 454.1,406.9 454.2,407.8 454.4,406.4 454.5,403.4 454.7,398.7 454.9,395.1 455,392.5 455.2,390.5 455.4,389.2 455.5,389 455.7,390.1 455.9,393.6 456,399.3 456.2,406 456.3,411.3 456.5,413.6 456.7,412.3 456.8,407.9 457,397.9 457.2,388.3 457.3,382.2 457.5,379.1 457.7,380.6 457.8,384.9 458,391.9 458.1,400.2 458.3,409 458.5,415.9 458.6,418.1 458.8,414.1 459,406.3 459.1,397 459.3,386.4 459.5,378.3 459.6,374.7 459.8,375.3 459.9,380 460.1,388 460.3,399.5 460.4,410.5 460.6,418.6 460.8,419.9 460.9,415.2 461.1,407.2 461.3,398.9 461.4,392.3 461.6,387.1 461.7,383.8 461.9,384.5 462.1,388.2 462.2,394.2 462.4,401.3 462.6,405.4 462.7,408.3 462.9,408.1 463.1,405.4 463.2,401 463.4,395.2 463.5,389.9 463.7,385.1 463.9,383.5 464,385 464.2,391.5 464.4,400.5 464.5,409.2 464.7,416.2 464.9,419.6 465,418.6 465.2,413.7 465.3,403.5 465.5,389.8 465.7,379.1 465.8,375.1 466,375.3 466.2,380 466.3,387.4 466.5,399.5 466.7,408.8 466.8,414.9 467,417.7 467.1,414.9 467.3,406.8 467.5,396.2 467.6,389.1 467.8,385.2 468,382.5 468.1,383.6 468.3,388.4 468.5,393 468.6,399.1 468.8,408.2 468.9,414.5 469.1,415.3 469.3,411.2 469.4,401.1 469.6,392 469.8,384.5 469.9,377.4 470.1,374.2 470.3,376.9 470.4,386 470.6,394.7 470.7,404.5 470.9,413.6 471.1,419.2 471.2,421.3 471.4,417.3 471.6,406.5 471.7,393.7 471.9,380.9 472.1,371.2 472.2,365.1 472.4,366.1 472.5,373.4 472.7,388 472.9,404.3 473,416.6 473.2,426.1 473.4,425.9 473.5,418.1 473.7,408.4 473.8,395.1 474,381 474.2,371.7 474.3,364.9 474.5,366.1 474.7,374.3 474.8,388.5 475,408.5 475.2,424.4 475.3,433 475.5,433.7 475.6,425.4 475.8,412.1 476,393.8 476.1,376.1 476.3,364.2 476.5,359.6 476.6,364.8 476.8,376.4 477,392.1 477.1,410 477.3,424.5 477.4,432.7 477.6,433.3 477.8,426.1 477.9,410.9 478.1,392.1 478.3,376.2 478.4,361.7 478.6,356 478.8,359.2 478.9,372.1 479.1,390 479.2,407.7 479.4,424.8 479.6,436.3 479.7,440.4 479.9,436.2 480.1,424.7 480.2,403.4 480.4,380.7 480.6,364.2 480.7,354.5 480.9,353.6 481,363.5 481.2,378.6 481.4,397.8 481.5,417.7 481.7,434.9 481.9,441.9 482,437.2 482.2,424.1 482.4,401.3 482.5,379.2 482.7,364.7 482.8,354.7 483,354.2 483.2,359.5 483.3,373.3 483.5,392.6 483.7,415.8 483.8,434.7 484,441.7 484.2,439.4 484.3,428.9 484.5,414.5 484.6,398.3 484.8,382.4 485,374.4 485.1,370.9 485.3,372.8 485.5,379.6 485.6,389.1 485.8,401.8 486,413.6 486.1,422.5 486.3,426.1 486.4,423.9 486.6,414.2 486.8,395.4 486.9,379.8 487.1,369.5 487.3,364.5 487.4,367.6 487.6,377.2 487.8,391.5 487.9,407.6 488.1,420.4 488.2,428.5 488.4,429.7 488.6,422.3 488.7,411.8 488.9,390 489.1,372.1 489.2,357.1 489.4,353.4 489.6,359.5 489.7,377.2 489.9,398.5 490,420.9 490.2,433.6 490.4,438 490.5,432.2 490.7,417.5 490.9,399 491,380.3 491.2,358.7 491.4,348.8 491.5,349.2 491.7,359.3 491.8,379.3 492,405.6 492.2,428 492.3,441.4 492.5,443.7 492.7,433.6 492.8,412.5 493,391.7 493.2,369 493.3,348.3 493.5,339.5 493.6,341 493.8,356.7 494,382.8 494.1,413 494.3,436.1 494.5,446.9 494.6,446.2 494.8,430.8 495,402.9 495.1,376.9 495.3,352.2 495.4,335.4 495.6,331.4 495.8,338 495.9,363.5 496.1,388.8 496.3,426.2 496.4,453.7 496.6,473.5 496.8,472.5 496.9,448.3 497.1,419.3 497.2,381.8 497.4,353.9 497.6,332.7 497.7,329.2 497.9,342.7 498.1,367.9 498.2,400.1 498.4,435.5 498.6,458.2 498.7,467.6 498.9,462.2 499,445.4 499.2,413.2 499.4,385.2 499.5,347.4 499.7,324.8 499.9,320 500,326.5 500.2,349.9 500.4,379.3 500.5,414.1 500.7,445.9 500.8,463.8 501,465.6 501.2,451.9 501.3,418.4 501.5,383.4 501.7,341.7 501.8,317.8 502,318.2 502.2,337.6 502.3,378.8 502.5,414 502.6,445.8 502.8,462.4 503,460.1 503.1,444 503.3,419.2 503.5,393.9 503.6,352.5 503.8,327.9 504,319.3 504.1,335.1 504.3,362.2 504.4,401.3 504.6,437 504.8,471.2 504.9,485.7 505.1,480.4 505.3,451.7 505.4,410.3 505.6,371.6 505.8,343.9 505.9,324 506.1,326.5 506.2,342 506.4,376.2 506.6,401 506.7,429.4 506.9,453.2 507.1,468 507.2,467.4 507.4,452.4 507.6,418.2 507.7,374.9 507.9,345 508,328.5 508.2,333.2 508.4,348.2 508.5,382 508.7,415.6 508.9,441 509,455.4 509.2,457.6 509.4,448.3 509.5,426.1 509.7,395.3 509.8,365.9 510,343.2 510.2,333.6 510.3,333.4 510.5,345.4 510.7,370.9 510.8,400.7 511,434.3 511.2,462.2 511.3,475 511.5,471.3 511.6,445.4 511.8,410.1 512,379.7 512.1,350 512.3,332.3 512.5,332.2 512.6,344.3 512.8,373.2 513,404.3 513.1,431.1 513.3,449.7 513.4,455.7 513.6,446.4 513.8,420.9 513.9,391.4 514.1,363.1 514.3,341.3 514.4,334 514.6,342.9 514.7,364.8 514.9,396.7 515.1,421.2 515.2,442.3 515.4,449.2 515.6,443.8 515.7,428.9 515.9,406.9 516.1,385 516.2,362.2 516.4,343.4 516.5,338.6 516.7,350.5 516.9,368 517,393.6 517.2,412 517.4,437.8 517.5,450.1 517.7,453.5 517.9,438.5 518,408 518.2,379.4 518.3,344.5 518.5,329.9 518.7,330.9 518.8,346.8 519,376.2 519.2,410.4 519.3,431.2 519.5,453.8 519.7,457.4 519.8,449.7 520,426.3 520.1,398.2 520.3,369.9 520.5,349.5 520.6,338.8 520.8,344.7 521,361.1 521.1,386.4 521.3,410.4 521.5,430.8 521.6,441.5 521.8,446.4 521.9,437.9 522.1,420.7 522.3,395.5 522.4,375.3 522.6,359.2 522.8,354.4 522.9,359.1 523.1,371.5 523.3,390.2 523.4,413 523.6,430.4 523.7,441.7 523.9,443.1 524.1,436.9 524.2,419.7 524.4,397.2 524.6,377.6 524.7,364.4 524.9,358.6 525.1,363.8 525.2,375.2 525.4,393.3 525.5,417.9 525.7,436.3 525.9,440.8 526,434.5 526.2,421.7 526.4,402.3 526.5,384 526.7,370.7 526.9,363.6 527,365.3 527.2,373.2 527.3,385.2 527.5,400.7 527.7,417.3 527.8,428.3 528,429.1 528.2,422.6 528.3,411.5 528.5,395.7 528.7,379.3 528.8,370.3 529,368.3 529.1,371.7 529.3,381 529.5,392.6 529.6,403.9 529.8,412.8 530,419.6 530.1,421.7 530.3,417.4 530.5,407.4 530.6,392.2 530.8,378.5 530.9,364.8 531.1,357 531.3,357.8 531.4,366.2 531.6,380.9 531.8,405.3 531.9,425.8 532.1,439.8 532.3,446.4 532.4,437.9 532.6,418.4 532.7,397.7 532.9,378.6 533.1,363.9 533.2,356.8 533.4,357.8 533.6,365.5 533.7,380.1 533.9,394.5 534.1,415.1 534.2,431 534.4,438.1 534.5,433.3 534.7,420.8 534.9,403.4 535,385.5 535.2,370.9 535.4,363.8 535.5,363.8 535.7,372 535.9,387.2 536,404.8 536.2,422.4 536.3,434 536.5,434.1 536.7,426.7 536.8,414.5 537,396.4 537.2,378.1 537.3,366.3 537.5,360.4 537.7,364.2 537.8,376.1 538,392.1 538.1,410.7 538.3,421.8 538.5,428.2 538.6,425.5 538.8,418.1 539,406.3 539.1,391.7 539.3,374.6 539.5,366.2 539.6,364.2 539.8,372 539.9,384.9 540.1,399.3 540.3,415.2 540.4,425.1 540.6,429.3 540.8,424.4 540.9,414.3 541.1,403.3 541.3,389.9 541.4,377.3 541.6,369.3 541.7,367.5 541.9,372.7 542.1,382.7 542.2,398 542.4,410.9 542.6,424.7 542.7,434.6 542.9,435.5 543.1,426.2 543.2,415.3 543.4,395.8 543.5,379.7 543.7,367.6 543.9,362.2 544,364.6 544.2,373.3 544.4,391.5 544.5,408.8 544.7,422.6 544.9,433.4 545,438.6 545.2,435.6 545.3,420.5 545.5,400.7 545.7,382.4 545.8,368.9 546,360 546.2,361.2 546.3,372.4 546.5,392.6 546.7,408.4 546.8,424.7 547,431.3 547.1,431.3 547.3,422 547.5,406.8 547.6,389 547.8,373.9 548,364.8 548.1,362.4 548.3,366.6 548.5,379.4 548.6,394.2 548.8,409.7 548.9,422.3 549.1,428.7 549.3,429 549.4,420 549.6,405.4 549.8,386.7 549.9,371.2 550.1,360.4 550.3,358 550.4,362.5 550.6,377.1 550.7,395.9 550.9,412.5 551.1,426.6 551.2,433.7 551.4,433.8 551.6,426.7 551.7,412.6 551.9,390.9 552.1,373.9 552.2,361.5 552.4,356.6 552.5,360.9 552.7,375.6 552.9,389.5 553,405.4 553.2,418.6 553.4,425.1 553.5,425.7 553.7,420.7 553.9,410.6 554,396.5 554.2,378.3 554.3,366.6 554.5,362.5 554.7,367.4 554.8,376.3 555,392.6 555.2,404.4 555.3,418.5 555.5,428.5 555.6,431.8 555.8,428.1 556,417.4 556.1,399.9 556.3,384 556.5,369.7 556.6,362.6 556.8,363 557,371.5 557.1,386.5 557.3,405.7 557.4,424.2 557.6,438.9 557.8,441.2 557.9,435.9 558.1,423.6 558.3,399.2 558.4,382 558.6,364.9 558.8,360.3 558.9,364.7 559.1,375.6 559.2,391.3 559.4,410.7 559.6,427.5 559.7,434.6 559.9,432.4 560.1,423.5 560.2,409.7 560.4,394.4 560.6,378.5 560.7,367.8 560.9,362.9 561,364.3 561.2,369.8 561.4,379.6 561.5,393 561.7,406.5 561.9,416.5 562,423.1 562.2,424.8 562.4,419.9 562.5,406.9 562.7,392.8 562.8,380.8 563,371.8 563.2,368 563.3,373.3 563.5,383.5 563.7,397.7 563.8,410.2 564,422.3 564.2,425.8 564.3,422.4 564.5,413.8 564.6,402.1 564.8,391.9 565,383.9 565.1,379.4 565.3,377.6 565.5,380.2 565.6,386.1 565.8,395.1 566,404.1 566.1,411.1 566.3,414 566.4,413.6 566.6,409.5 566.8,404 566.9,394.6 567.1,387.9 567.3,380.6 567.4,375.8 567.6,376.3 567.8,382.1 567.9,392.4 568.1,403.1 568.2,408.9 568.4,413.2 568.6,413.8 568.7,410.3 568.9,404.4 569.1,397.5 569.2,389.4 569.4,385.2 569.6,383.3 569.7,384.4 569.9,388.1 570,394 570.2,399.9 570.4,405.4 570.5,409.9 570.7,409.6 570.9,405.9 571,401.8 571.2,396.2 571.4,394.3 571.5,393.1 571.7,392.5 571.8,392.5 572,393.4 572.2,395.2 572.3,398.2 572.5,401.6 572.7,403.1 572.8,402.8 573,401.6 573.2,399.2 573.3,396.6 573.5,394.8 573.6,393.4 573.8,392.4 574,392.2 574.1,393 574.3,394.8 574.5,397 574.6,399.9 574.8,403.2 575,405.5 575.1,406.3 575.3,404.7 575.4,400.4 575.6,394.4 575.8,389.1 575.9,384.7 576.1,382.3 576.3,383.5 576.4,388.5 576.6,395.8 576.8,404.1 576.9,411.7 577.1,414.7 577.2,413 577.4,406.9 577.6,398.6 577.7,388.3 577.9,378.3 578.1,370.4 578.2,369.9 578.4,376.7 578.6,388.4 578.7,397.9 578.9,408.6 579,418.3 579.2,421 579.4,417.9 579.5,410.3 579.7,399.7 579.9,391.1 580,383.2 580.2,379.7 580.4,378.3 580.5,380.8 580.7,386.6 580.8,396.3 581,402.9 581.2,408.1 581.3,410.6 581.5,411.3 581.7,408.4 581.8,403.6 582,395.5 582.2,387.4 582.3,380.8 582.5,378.8 582.6,380.6 582.8,385.8 583,392 583.1,401.6 583.3,413.5 583.5,421.3 583.6,424.5 583.8,420 584,408.7 584.1,392.1 584.3,382.8 584.4,375.7 584.6,373.1 584.8,374.8 584.9,382 585.1,391.7 585.3,400.3 585.4,410.5 585.6,416.3 585.8,415.8 585.9,411.5 586.1,405 586.2,394.8 586.4,387.1 586.6,381 586.7,378.5 586.9,379.7 587.1,384.4 587.2,391.5 587.4,399.5 587.6,408.7 587.7,415 587.9,418.2 588,416.2 588.2,408.5 588.4,400.8 588.5,390.8 588.7,382.1 588.9,378 589,377.2 589.2,380.3 589.4,386.1 589.5,394.4 589.7,403.1 589.8,413.9 590,420.6 590.2,424.2 590.3,419.4 590.5,407.5 590.7,395.8 590.8,386.8 591,378.5 591.2,376.7 591.3,380.5 591.5,385.5 591.6,393.3 591.8,404.7 592,411.3 592.1,413.3 592.3,411.7 592.5,405.5 592.6,398 592.8,392.7 593,388.1 593.1,384.3 593.3,383.3 593.4,385.3 593.6,389.5 593.8,393.6 593.9,399.3 594.1,404.8 594.3,407.9 594.4,408.2 594.6,406 594.8,402.4 594.9,398.3 595.1,394.2 595.2,392.6 595.4,391.8 595.6,392.1 595.7,392.4 595.9,393.8 596.1,395.7 596.2,397.9 596.4,399.5 596.5,400.5 596.7,401.8 596.9,402.3 597,400.9 597.2,396.8 597.4,392.4 597.5,388.4 597.7,385.7 597.9,385.6 598,388.8 598.2,393.3 598.3,400.8 598.5,408.1 598.7,415.3 598.8,415.4 599,411.6 599.2,406.1 599.3,398.7 599.5,391.6 599.7,387.1 599.8,385.6 600,387.2 600.1,390.7 600.3,394.6 600.5,397 600.6,401.9 600.8,404.5 601,405.4 601.1,404.4 601.3,402.1 601.5,398.5 601.6,396.1 601.8,394.7 601.9,393.8 602.1,393.4 602.3,393.6 602.4,394.5 602.6,395.9 602.8,398.6 602.9,402.2 603.1,404.9 603.3,405.1 603.4,402.7 603.6,398 603.7,394 603.9,390.3 604.1,387.5 604.2,386.3 604.4,387.8 604.6,392.4 604.7,399.7 604.9,406.5 605.1,410.5 605.2,412.6 605.4,411.5 605.5,405.8 605.7,398.6 605.9,391.9 606,386.6 606.2,382 606.4,380.7 606.5,383.8 606.7,389.3 606.9,398.5 607,405.7 607.2,412.2 607.3,415.9 607.5,415.7 607.7,410.7 607.8,405 608,395.3 608.2,385.1 608.3,377.7 608.5,372.7 608.7,373.1 608.8,378.9 609,388.1 609.1,400.3 609.3,408.8 609.5,415.6 609.6,416.7 609.8,412.8 610,405.6 610.1,394.3 610.3,385.4 610.5,377.9 610.6,376.3 610.8,379 610.9,385.9 611.1,394.6 611.3,402.8 611.4,409.3 611.6,412.9 611.8,413.4 611.9,409.9 612.1,403.7 612.3,398.1 612.4,391.4 612.6,385.7 612.7,383.3 612.9,384.1 613.1,388.1 613.2,394.9 613.4,404.6 613.6,411.9 613.7,413.7 613.9,411.7 614.1,406.5 614.2,398.6 614.4,392.8 614.5,387.9 614.7,385.4 614.9,385.2 615,388.4 615.2,392.3 615.4,398.7 615.5,405 615.7,409.2 615.9,411.3 616,409.4 616.2,404.8 616.3,397.4 616.5,391.4 616.7,384.3 616.8,381 617,380.2 617.2,382 617.3,388.3 617.5,397.8 617.7,406.1 617.8,413.5 618,416.4 618.1,414.8 618.3,406.8 618.5,396.3 618.6,385.6 618.8,377.8 619,373.6 619.1,373.7 619.3,380.7 619.5,393 619.6,407.9 619.8,417.2 619.9,426.4 620.1,428.5 620.3,422.2 620.4,411.8 620.6,394.2 620.8,379.1 620.9,370.4 621.1,364.5 621.3,368.3 621.4,379.3 621.6,392.8 621.7,416.4 621.9,432.9 622.1,437.9 622.2,434.5 622.4,420.9 622.6,402.3 622.7,388.1 622.9,375.1 623.1,363.7 623.2,361.6 623.4,369.3 623.5,382.9 623.7,397.5 623.9,410.7 624,421.8 624.2,425.8 624.4,422.2 624.5,411.8 624.7,397.6 624.9,382.7 625,371.3 625.2,364.4 625.3,364.8 625.5,372.1 625.7,381.3 625.8,398.6 626,409.2 626.2,414.9 626.3,417.7 626.5,415.4 626.7,410.5 626.8,402.2 627,392.4 627.1,381.6 627.3,374 627.5,371.1 627.6,373.9 627.8,382.2 628,389.4 628.1,404.1 628.3,416.3 628.5,424.8 628.6,426.8 628.8,420.9 628.9,409.3 629.1,394.2 629.3,382.9 629.4,374.3 629.6,369.7 629.8,370.7 629.9,378.7 630.1,391.1 630.3,410.2 630.4,425.5 630.6,434.3 630.7,433.1 630.9,421 631.1,404.8 631.2,390.2 631.4,377.6 631.6,369.1 631.7,365.5 631.9,367.1 632.1,377.4 632.2,388.9 632.4,404.8 632.5,416.7 632.7,423.4 632.9,423.6 633,417.3 633.2,406.9 633.4,392.7 633.5,379.4 633.7,368.6 633.9,364.5 634,367.3 634.2,377.6 634.3,391 634.5,407.9 634.7,423.1 634.8,430.8 635,430.7 635.2,425.4 635.3,410.9 635.5,394.8 635.6,382.8 635.8,373.8 636,370.5 636.1,372.7 636.3,381.1 636.5,389.9 636.6,401.5 636.8,413.4 637,419.1 637.1,421 637.3,417.3 637.4,406.7 637.6,396.1 637.8,385.8 637.9,378.8 638.1,374.4 638.3,376.1 638.4,382.9 638.6,393.8 638.8,405.8 638.9,417.3 639.1,426.1 639.2,428.9 639.4,425.3 639.6,418.8 639.7,405.6 639.9,388.9 640.1,374.6 640.2,366.2 640.4,365 640.6,371 640.7,381.7 640.9,395.6 641,409.1 641.2,418.2 641.4,423.1 641.5,422.2 641.7,413.9 641.9,401.4 642,385.3 642.2,368.8 642.4,359.3 642.5,357.8 642.7,362 642.8,373.4 643,391.6 643.2,409.6 643.3,432.5 643.5,444.9 643.7,440.2 643.8,426.2 644,400.2 644.2,375.9 644.3,357.7 644.5,350.3 644.6,351.8 644.8,367.9 645,391.3 645.1,424.5 645.3,443.3 645.5,451.3 645.6,443.2 645.8,426.8 646,403.4 646.1,381.8 646.3,360.1 646.4,350.2 646.6,349.5 646.8,359.7 646.9,380.9 647.1,402.4 647.3,424.8 647.4,440.1 647.6,443.9 647.8,437.9 647.9,423.1 648.1,403.9 648.2,382.6 648.4,367.4 648.6,357.7 648.7,357.3 648.9,364.9 649.1,377.6 649.2,391.5 649.4,407.6 649.6,422.6 649.7,430 649.9,429.7 650,422.8 650.2,409.8 650.4,396 650.5,377 650.7,366 650.9,359 651,361.4 651.2,377 651.4,398 651.5,419.5 651.7,434.6 651.8,438.9 652,430.9 652.2,418.4 652.3,399.3 652.5,381.2 652.7,367.6 652.8,358.4 653,358.6 653.2,365.4 653.3,382.8 653.5,404.3 653.6,416.7 653.8,424.1 654,427.3 654.1,424.3 654.3,413.7 654.5,395.5 654.6,375.6 654.8,358 655,353 655.1,354.7 655.3,366.2 655.4,385.7 655.6,407.9 655.8,429.5 655.9,440.5 656.1,444"/>
<polygon fill="#000" stroke="#000" stroke-width="0.8" stroke-linejoin="round" points="410.7,391.3 412,389.9 413.6,379.9 414.4,378 416,371.1 417.2,380.5 418.8,375.4 419.6,376.5 421.4,381 422.5,391.6 424.1,382 425.1,384.9 426.4,373 427.9,370.6 429.3,362.1 430.2,366.2 431.9,363 433.2,368 434,360.5 435.6,362.8 437,351.6 438.5,353.6 439.6,343.4 440.6,347.8 442.1,337 443.4,345.3 444.7,343.4 446.3,347.4 447.2,342.7 448.5,352.1 450,357.7 451.4,371.6 452.9,374.9 453.9,383.7 455,386.2 456.8,381.6 457.8,371.3 459.2,372 460.4,369.9 461.6,379.8 463.2,381.9 464.5,380.4 465.5,368.2 467,375.8 468.2,378.8 469.4,376.5 470.7,363.8 472.5,362.1 473.8,356.2 474.8,363.2 476.3,354.5 477.1,359.8 479,348.3 480.1,351.6 481.6,346 482.5,349.3 483.9,352.7 485.2,367.7 486.9,362.1 487.9,360.7 489.2,348.6 490.8,346.2 492.1,337.8 493.1,337.6 494.3,324.2 496,328.2 496.8,324.9 498.3,328.1 499.9,310.6 501.3,312.5 502.1,313.7 503.3,314.6 505.1,309.5 506.3,318.8 507.4,318.4 508.9,330.4 509.9,326.5 511.6,330.4 512.8,322.7 514.2,331 515.1,325.9 516.8,333.5 517.9,321.8 519.3,326.1 520.5,331 522,350.9 523.3,350.7 524.6,358 525.6,353.4 527,361.6 528.2,359.4 529.7,368.2 531.1,349.5 532.2,350.8 533.8,356 535,361 536.3,357.3 537.7,357.6 539.2,357 540.3,364.8 541.3,360.2 542.7,365.7 544.3,354.8 545.4,359.4 547,352.1 548.1,357.5 549.4,352.2 550.9,355.4 551.8,348.6 553.2,357.4 554.5,357.1 555.9,362 557.6,353.6 558.8,359.1 560.1,354.8 561.3,360.1 562.2,358.3 563.7,367.6 565.1,373.8 566.7,378.7 567.7,368.7 569.1,380.3 570.6,380.6 571.6,390.4 573.2,390.3 574.4,388.3 575.6,379.4 577,374 578.2,362.3 579.3,372.3 581.1,374.2 582.5,376.1 583.7,367.8 584.7,370.2 586.2,370.5 587.6,378.9 588.4,371.6 590.2,374.8 591,372.3 592.9,380 593.8,378.8 595.5,388.6 596.4,386.7 597.9,383.7 599.4,378.7 600.8,390.2 601.9,392.4 603.3,390.3 604.3,380.9 605.9,381.7 606.9,373.1 608.6,368.4 609.8,367.2 610.9,376 612.4,376.9 613.3,382 615.2,382.2 616.3,381.8 617.4,371.1 618.9,371.5 620.3,361 621.5,362.7 623,355 624,362.2 625.2,358.8 626.6,367.5 627.8,367.5 629.3,370.1 630.7,357.8 632.1,363 633.3,356.6 634.7,364.7 636.1,365.2 637.2,377.1 638.2,368.2 639.8,365.8 640.7,355.2 642.5,353.6 644,345.8 645,347.9 646.6,341.1 647.3,348.7 649.2,354.1 650,360.6 651.7,351.1 652.7,354.2 654.1,345.5 655.2,349.7 656.1,346.7 656.1,353.9 655.2,355.5 654.1,357 652.7,357.4 651.7,360.4 650,362.3 649.2,361 647.3,353.6 646.6,352 645,352.5 644,354 642.5,357.7 640.7,365.2 639.8,372.3 638.2,379.7 637.2,380 636.1,377.7 634.7,369.3 633.3,365.5 632.1,368.3 630.7,368.6 629.3,374.2 627.8,374.4 626.6,373.6 625.2,366.7 624,367.4 623,363.3 621.5,366.5 620.3,369.5 618.9,377.1 617.4,381.1 616.3,386.1 615.2,388.2 613.3,386.2 612.4,387.8 610.9,378.9 609.8,376.3 608.6,373.1 606.9,379.7 605.9,384.7 604.3,389.9 603.3,394 601.9,395 600.8,395.8 599.4,384.8 597.9,386.2 596.4,395.4 595.5,395.6 593.8,386.1 592.9,385.2 591,381 590.2,379.4 588.4,382 587.6,382.5 586.2,380.9 584.7,374.9 583.7,375.8 582.5,380.1 581.1,385.1 579.3,378.4 578.2,371.5 577,380.8 575.6,388.3 574.4,394 573.2,396.4 571.6,394 570.6,391.9 569.1,382.6 567.7,378.1 566.7,383.2 565.1,379.8 563.7,373.3 562.2,368.5 561.3,363.1 560.1,363.1 558.8,362.8 557.6,366.3 555.9,366 554.5,364.1 553.2,359.6 551.8,359.3 550.9,359.8 549.4,359.5 548.1,363 547,361 545.4,363.7 544.3,364.6 542.7,372 541.3,370.6 540.3,366.9 539.2,367.4 537.7,361.1 536.3,365.7 535,366.1 533.8,362.6 532.2,355 531.1,360.1 529.7,372.3 528.2,369.6 527,366.7 525.6,362.6 524.6,361.2 523.3,361.3 522,356 520.5,340.5 519.3,331.3 517.9,331.5 516.8,338.9 515.1,336.9 514.2,334.9 512.8,332.3 511.6,334.6 509.9,338.6 508.9,335.4 507.4,327.4 506.3,324.1 505.1,316.4 503.3,320 502.1,318.5 501.3,318.8 499.9,320.3 498.3,331.8 496.8,331.6 496,333.6 494.3,333.6 493.1,340.2 492.1,347.9 490.8,352.5 489.2,357.7 487.9,363.3 486.9,368.4 485.2,373.2 483.9,364.8 482.5,354.4 481.6,353.3 480.1,357.6 479,357.6 477.1,362.8 476.3,363.3 474.8,366.9 473.8,365.7 472.5,366.7 470.7,372.8 469.4,382 468.2,386.9 467,379.7 465.5,377.9 464.5,383 463.2,389 461.6,385.7 460.4,379.6 459.2,375.7 457.8,381.5 456.8,385.6 455,394.6 453.9,387.4 452.9,384.6 451.4,375.7 450,366.4 448.5,357.5 447.2,353.4 446.3,353.9 444.7,350.2 443.4,350.5 442.1,346.4 440.6,352 439.6,352.3 438.5,359.3 437,364.1 435.6,366.9 434,369.1 433.2,372.4 431.9,374 430.2,368.9 429.3,370.7 427.9,378.1 426.4,382.4 425.1,388.4 424.1,390.2 422.5,395.7 421.4,390.8 419.6,380.4 418.8,383.1 417.2,383.1 416,380 414.4,382.2 413.6,389 412,394.5 410.7,396.1"/>
</g>
<rect x="410.7" y="295.6" width="245.4" height="201.8" fill="none" stroke="#4a4a4a" stroke-width="1"/>
<path d="M492.5 497.4v-2.6 M492.5 295.6v2.6" stroke="#4a4a4a" stroke-width="0.9" fill="none"/>
<path d="M574.3 497.4v-2.6 M574.3 295.6v2.6" stroke="#4a4a4a" stroke-width="0.9" fill="none"/>
<path d="M410.7 396.5h2.6 M656.1 396.5h-2.6" stroke="#4a4a4a" stroke-width="0.9" fill="none"/>
<text x="410.7" y="531.8" font-size="25" text-anchor="middle" class="b">0</text>
<text x="492.5" y="531.8" font-size="25" text-anchor="middle" class="b">500</text>
<text x="574.3" y="531.8" font-size="25" text-anchor="middle" class="b">1000</text>
<text x="656.1" y="531.8" font-size="25" text-anchor="middle" class="b">1500</text>
<text x="401.4" y="305.6" font-size="25" text-anchor="end" class="b">10</text>
<text x="401.4" y="406.5" font-size="25" text-anchor="end" class="b">0</text>
<text x="401.4" y="508.3" font-size="25" text-anchor="end" class="b">-10</text>
<text x="654.1" y="328.7" font-size="25.5" text-anchor="end" class="b">(d)</text>
<rect x="560.8" y="425.8" width="79.5" height="48.2" fill="#fff" stroke="#4a4a4a" stroke-width="0.9"/>
<polygon fill="#000" points="560.8,474 561.47,472.8 562.14,471.6 562.8,470.4 563.47,469.22 564.14,468.04 564.81,466.88 565.48,465.74 566.14,464.62 566.81,463.53 567.48,462.45 568.15,461.41 568.82,460.4 569.48,459.42 570.15,458.47 570.82,457.57 571.49,456.7 572.16,455.87 572.83,455.08 573.49,454.34 574.16,453.64 574.83,452.99 575.5,452.38 576.17,451.82 576.83,451.31 577.5,450.85 578.17,450.43 578.84,450.06 579.51,449.74 580.17,449.47 580.84,449.24 581.51,449.07 582.18,448.93 582.85,448.85 583.51,448.8 584.18,448.8 584.85,448.84 585.52,448.93 586.19,449.05 586.85,449.2 587.52,449.4 588.19,449.63 588.86,449.89 589.53,450.18 590.19,450.5 590.86,450.85 591.53,451.22 592.2,451.61 592.87,452.03 593.54,452.47 594.2,452.92 594.87,453.4 595.54,453.88 596.21,454.38 596.88,454.89 597.54,455.4 598.21,455.93 598.88,456.46 599.55,456.99 600.22,457.53 600.88,458.06 601.55,458.6 602.22,459.14 602.89,459.67 603.56,460.2 604.22,460.72 604.89,461.24 605.56,461.75 606.23,462.25 606.9,462.74 607.56,463.23 608.23,463.7 608.9,464.17 609.57,464.62 610.24,465.06 610.91,465.49 611.57,465.9 612.24,466.31 612.91,466.7 613.58,467.08 614.25,467.44 614.91,467.79 615.58,468.13 616.25,468.46 616.92,468.77 617.59,469.07 618.25,469.36 618.92,469.63 619.59,469.9 620.26,470.15 620.93,470.39 621.59,470.61 622.26,470.83 622.93,471.03 623.6,471.23 624.27,471.41 624.93,471.59 625.6,471.75 626.27,471.91 626.94,472.05 627.61,472.19 628.27,472.32 628.94,472.44 629.61,472.56 630.28,472.66 630.95,472.77 631.62,472.86 632.28,472.95 632.95,473.03 633.62,473.11 634.29,473.18 634.96,473.24 635.62,473.3 636.29,473.36 636.96,473.41 637.63,473.46 638.3,473.51 638.96,473.55 639.63,473.59 640.3,473.62 640.3,474 560.8,474"/>
<polyline fill="none" stroke="#dd5a1a" stroke-width="2" stroke-linejoin="round" stroke-linecap="round" points="560.8,474 561.47,472.8 562.14,471.6 562.8,470.4 563.47,469.22 564.14,468.04 564.81,466.88 565.48,465.74 566.14,464.62 566.81,463.53 567.48,462.45 568.15,461.41 568.82,460.4 569.48,459.42 570.15,458.47 570.82,457.57 571.49,456.7 572.16,455.87 572.83,455.08 573.49,454.34 574.16,453.64 574.83,452.99 575.5,452.38 576.17,451.82 576.83,451.31 577.5,450.85 578.17,450.43 578.84,450.06 579.51,449.74 580.17,449.47 580.84,449.24 581.51,449.07 582.18,448.93 582.85,448.85 583.51,448.8 584.18,448.8 584.85,448.84 585.52,448.93 586.19,449.05 586.85,449.2 587.52,449.4 588.19,449.63 588.86,449.89 589.53,450.18 590.19,450.5 590.86,450.85 591.53,451.22 592.2,451.61 592.87,452.03 593.54,452.47 594.2,452.92 594.87,453.4 595.54,453.88 596.21,454.38 596.88,454.89 597.54,455.4 598.21,455.93 598.88,456.46 599.55,456.99 600.22,457.53 600.88,458.06 601.55,458.6 602.22,459.14 602.89,459.67 603.56,460.2 604.22,460.72 604.89,461.24 605.56,461.75 606.23,462.25 606.9,462.74 607.56,463.23 608.23,463.7 608.9,464.17 609.57,464.62 610.24,465.06 610.91,465.49 611.57,465.9 612.24,466.31 612.91,466.7 613.58,467.08 614.25,467.44 614.91,467.79 615.58,468.13 616.25,468.46 616.92,468.77 617.59,469.07 618.25,469.36 618.92,469.63 619.59,469.9 620.26,470.15 620.93,470.39 621.59,470.61 622.26,470.83 622.93,471.03 623.6,471.23 624.27,471.41 624.93,471.59 625.6,471.75 626.27,471.91 626.94,472.05 627.61,472.19 628.27,472.32 628.94,472.44 629.61,472.56 630.28,472.66 630.95,472.77 631.62,472.86 632.28,472.95 632.95,473.03 633.62,473.11 634.29,473.18 634.96,473.24 635.62,473.3 636.29,473.36 636.96,473.41 637.63,473.46 638.3,473.51 638.96,473.55 639.63,473.59 640.3,473.62"/>
<path d="M560.8 474v-1.6 M560.8 425.8v1.6" stroke="#4a4a4a" stroke-width="0.7" fill="none"/>
<path d="M576.7 474v-1.6 M576.7 425.8v1.6" stroke="#4a4a4a" stroke-width="0.7" fill="none"/>
<path d="M592.6 474v-1.6 M592.6 425.8v1.6" stroke="#4a4a4a" stroke-width="0.7" fill="none"/>
<path d="M608.5 474v-1.6 M608.5 425.8v1.6" stroke="#4a4a4a" stroke-width="0.7" fill="none"/>
<path d="M624.4 474v-1.6 M624.4 425.8v1.6" stroke="#4a4a4a" stroke-width="0.7" fill="none"/>
<path d="M640.3 474v-1.6 M640.3 425.8v1.6" stroke="#4a4a4a" stroke-width="0.7" fill="none"/>
<text x="560.8" y="500" font-size="18.3" text-anchor="middle" class="b">0</text>
<text x="576.7" y="500" font-size="18.3" text-anchor="middle" class="b">2</text>
<text x="592.6" y="500" font-size="18.3" text-anchor="middle" class="b">4</text>
<text x="608.5" y="500" font-size="18.3" text-anchor="middle" class="b">6</text>
<text x="624.4" y="500" font-size="18.3" text-anchor="middle" class="b">8</text>
<text x="640.3" y="500" font-size="18.3" text-anchor="middle" class="b">10</text>
<text x="552.7" y="481.3" font-size="18.3" text-anchor="end" class="b">0</text>
<text x="552.7" y="457.2" font-size="18.3" text-anchor="end" class="b">0.2</text>
<text x="552.7" y="433.1" font-size="18.3" text-anchor="end" class="b">0.4</text>
<text transform="translate(22.2 112.95) rotate(-90)" font-size="28" text-anchor="middle" class="b">V(t),Z(t)</text>
<text transform="translate(22.2 397.1) rotate(-90)" font-size="28" text-anchor="middle" class="b">V(t),Z(t)</text>
<text x="199" y="554.8" font-size="28" text-anchor="middle" class="b">Time (ms)</text>
<text x="531.7" y="554.8" font-size="28" text-anchor="middle" class="b">Time (ms)</text>
</svg></body></html>
